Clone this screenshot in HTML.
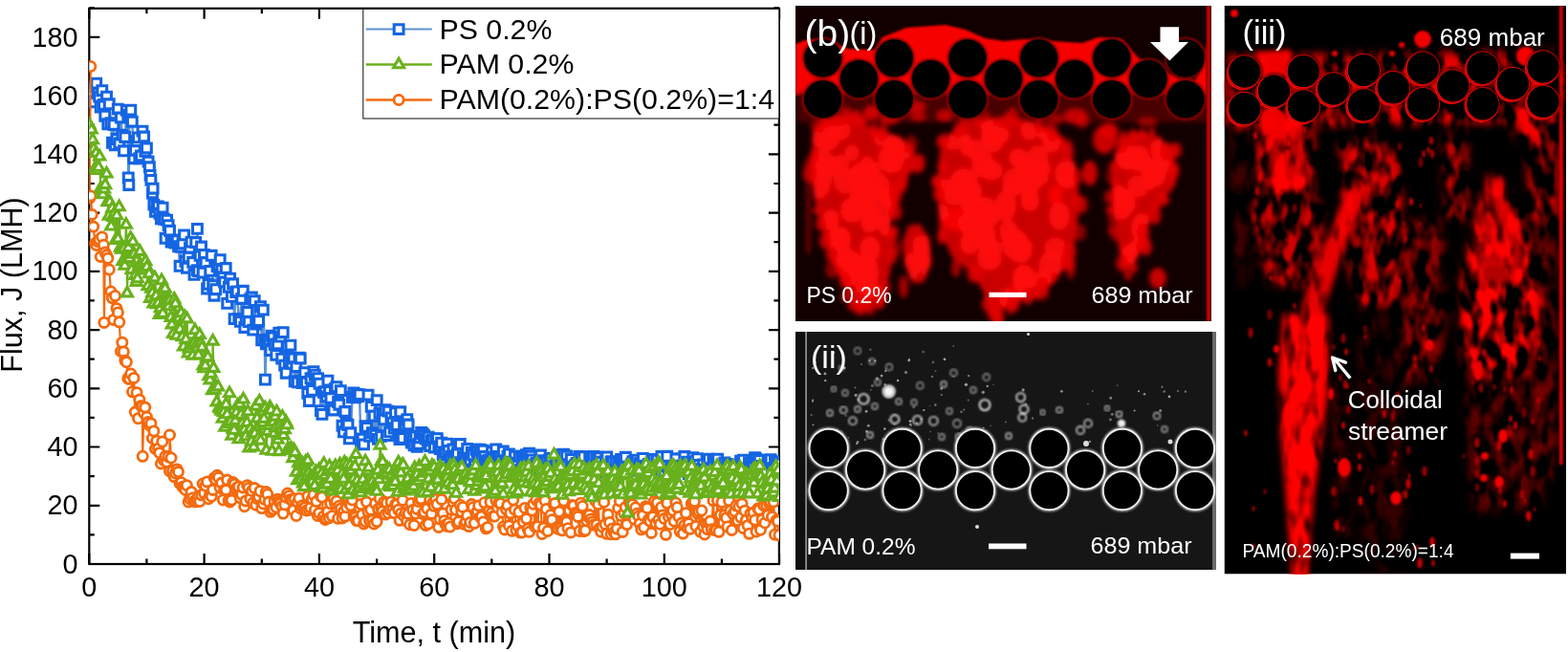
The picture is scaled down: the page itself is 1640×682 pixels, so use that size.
<!DOCTYPE html>
<html><head><meta charset="utf-8"><title>Flux and streamer figure</title>
<style>
html,body{margin:0;padding:0;background:#fff;width:1640px;height:682px;overflow:hidden}
svg{display:block}
.tl{font-family:"Liberation Sans",Arial,sans-serif;font-size:28.8px;fill:#000}
.at{font-family:"Liberation Sans",Arial,sans-serif;font-size:30.6px;fill:#000}
.lg{font-family:"Liberation Sans",Arial,sans-serif;font-size:30.3px;fill:#000}
.wt{font-family:"Liberation Sans",Arial,sans-serif;fill:#fff}
</style></head><body>
<svg width="1640" height="682" viewBox="0 0 1640 682">
<rect x="93.3" y="8.8" width="721.6" height="581.2" fill="none" stroke="#000" stroke-width="2.2"/>
<path d="M93.3 590v-11.0M93.3 8.8v11.0M153.4 590v-5.5M153.4 8.8v5.5M213.6 590v-11.0M213.6 8.8v11.0M273.8 590v-5.5M273.8 8.8v5.5M333.9 590v-11.0M333.9 8.8v11.0M394.1 590v-5.5M394.1 8.8v5.5M454.2 590v-11.0M454.2 8.8v11.0M514.3 590v-5.5M514.3 8.8v5.5M574.5 590v-11.0M574.5 8.8v11.0M634.6 590v-5.5M634.6 8.8v5.5M694.8 590v-11.0M694.8 8.8v11.0M754.9 590v-5.5M754.9 8.8v5.5M815.1 590v-11.0M815.1 8.8v11.0M93.3 590.0h11.0M814.9 590.0h-11.0M93.3 559.4h5.5M814.9 559.4h-5.5M93.3 528.8h11.0M814.9 528.8h-11.0M93.3 498.1h5.5M814.9 498.1h-5.5M93.3 467.5h11.0M814.9 467.5h-11.0M93.3 436.9h5.5M814.9 436.9h-5.5M93.3 406.3h11.0M814.9 406.3h-11.0M93.3 375.7h5.5M814.9 375.7h-5.5M93.3 345.1h11.0M814.9 345.1h-11.0M93.3 314.4h5.5M814.9 314.4h-5.5M93.3 283.8h11.0M814.9 283.8h-11.0M93.3 253.2h5.5M814.9 253.2h-5.5M93.3 222.6h11.0M814.9 222.6h-11.0M93.3 192.0h5.5M814.9 192.0h-5.5M93.3 161.4h11.0M814.9 161.4h-11.0M93.3 130.7h5.5M814.9 130.7h-5.5M93.3 100.1h11.0M814.9 100.1h-11.0M93.3 69.5h5.5M814.9 69.5h-5.5M93.3 38.9h11.0M814.9 38.9h-11.0M93.3 8.3h5.5M814.9 8.3h-5.5" stroke="#000" stroke-width="2.2" fill="none"/>
<defs><path id="mS" d="M-4.9 -4.9h9.8v9.8h-9.8z" fill="#fff" stroke="#1565e3" stroke-width="3.1"/>
<path id="mT" d="M0 -5.6l5.5 9.6h-11z" fill="#fff" stroke="#69b11c" stroke-width="3.1" stroke-linejoin="miter"/>
<circle id="mC" r="5.1" fill="#fff" stroke="#f46a0e" stroke-width="2.8"/></defs>
<clipPath id="pc"><rect x="93.3" y="8.8" width="721.6" height="581.2"/></clipPath>
<g clip-path="url(#pc)" fill="none">
<path d="M93.6 93.1 L94.8 95.0 L96.2 96.0 L97.9 106.9 L99.2 91.0 L100.7 87.2 L102.4 97.7 L103.7 101.1 L105.2 112.1 L106.8 94.7 L108.4 109.4 L109.8 121.2 L111.5 101.1 L112.8 129.8 L114.2 108.8 L116.0 128.8 L117.5 149.3 L119.0 130.5 L120.3 151.7 L122.0 145.5 L123.3 114.1 L124.8 149.9 L126.3 123.0 L127.9 141.1 L129.5 157.8 L130.8 143.5 L132.3 115.4 L133.8 120.2 L134.2 185.9 L134.8 193.5 L135.4 122.1 L136.8 115.2 L138.3 127.2 L139.9 165.7 L141.4 157.2 L142.9 147.7 L144.4 143.9 L145.8 165.7 L147.5 163.0 L149.0 137.1 L150.6 143.0 L151.9 158.2 L153.4 154.9 L155.1 169.0 L156.4 174.8 L157.1 183.4 L157.9 188.4 L159.5 202.0 L160.1 197.2 L160.9 214.1 L162.5 221.2 L163.9 216.8 L165.4 215.9 L167.0 223.3 L168.4 228.9 L170.1 217.1 L171.5 229.2 L173.1 249.3 L174.6 230.1 L176.1 235.6 L177.5 241.3 L179.1 253.1 L180.6 251.0 L182.0 253.3 L183.4 254.0 L185.1 251.5 L186.6 257.8 L188.1 278.3 L189.4 258.2 L191.0 254.8 L192.6 245.9 L193.9 273.3 L195.5 280.2 L197.1 268.9 L198.5 259.2 L200.0 253.1 L201.7 274.3 L203.0 287.3 L204.7 253.5 L206.2 282.6 L206.4 239.4 L207.6 283.6 L209.1 267.4 L210.5 258.0 L212.1 285.1 L213.5 266.4 L215.0 274.5 L216.6 302.0 L218.0 297.3 L219.7 283.4 L221.2 267.3 L222.7 298.6 L224.0 309.2 L225.7 302.7 L227.1 278.7 L228.7 277.4 L230.2 271.7 L231.8 282.4 L233.1 289.6 L234.6 295.0 L236.2 280.5 L237.7 317.4 L239.3 300.2 L240.6 291.2 L242.3 310.4 L243.6 296.8 L245.1 333.6 L246.7 305.5 L248.0 304.9 L249.8 333.6 L251.3 336.3 L252.7 312.5 L254.3 304.3 L255.8 342.5 L257.2 334.9 L258.8 326.3 L260.2 336.6 L261.8 312.7 L263.3 311.0 L264.7 345.1 L266.2 314.7 L267.7 339.1 L269.3 336.5 L270.6 335.6 L272.4 320.7 L273.7 355.9 L275.3 324.1 L276.7 355.7 L277.4 397.1 L278.4 359.8 L279.6 358.1 L281.3 355.1 L282.8 366.6 L284.2 351.3 L285.7 352.8 L287.2 360.2 L288.7 371.4 L290.3 359.9 L291.8 348.2 L293.4 352.1 L294.7 375.1 L296.2 347.7 L297.7 382.1 L299.2 390.2 L300.8 362.5 L302.3 378.0 L303.9 361.2 L305.2 380.3 L306.8 374.9 L308.2 398.7 L309.8 383.7 L311.2 399.8 L313.0 374.1 L314.2 375.0 L315.9 400.5 L317.4 398.2 L318.7 389.6 L320.3 400.2 L321.8 411.3 L323.4 419.5 L325.0 395.8 L326.4 408.3 L327.9 388.6 L329.3 392.2 L331.0 397.0 L332.5 395.7 L334.0 401.2 L335.5 429.6 L336.9 433.4 L338.5 410.3 L340.0 409.8 L341.5 414.9 L342.9 398.1 L344.5 409.3 L345.8 416.5 L347.4 426.8 L348.8 429.0 L350.4 406.6 L351.9 404.7 L353.6 420.5 L354.8 423.2 L356.3 408.7 L358.0 445.3 L359.5 451.8 L360.9 430.5 L362.4 443.2 L364.0 444.5 L365.4 458.9 L366.8 452.8 L368.5 415.5 L369.9 411.0 L371.4 415.7 L373.0 412.4 L374.5 414.7 L376.0 412.6 L377.5 463.2 L379.0 459.0 L380.5 464.9 L382.1 445.7 L383.5 447.3 L385.0 413.1 L386.6 456.3 L388.2 425.3 L389.5 452.8 L391.1 435.2 L392.6 455.1 L394.2 418.6 L395.4 459.4 L397.0 432.3 L398.6 456.4 L400.1 434.8 L401.5 438.8 L403.0 428.7 L404.4 455.6 L406.1 430.1 L407.6 451.8 L409.0 436.9 L410.5 442.1 L412.2 448.0 L413.5 431.6 L415.0 444.6 L416.7 455.7 L418.0 459.6 L418.7 430.8 L419.5 456.9 L421.2 458.4 L422.6 443.6 L424.0 445.1 L425.8 438.6 L427.1 444.0 L428.6 457.6 L430.3 463.0 L431.6 460.1 L433.1 465.7 L434.7 456.5 L436.2 467.3 L437.8 464.5 L439.2 457.8 L440.7 452.4 L442.2 453.6 L443.5 455.5 L445.1 458.8 L446.8 459.3 L448.1 457.2 L449.8 466.5 L451.3 460.9 L452.7 460.5 L454.3 468.0 L455.8 458.9 L457.3 458.6 L458.8 466.9 L460.3 469.5 L461.6 463.1 L463.2 475.9 L464.7 473.7 L466.1 473.7 L467.8 464.2 L469.1 471.4 L470.9 481.0 L472.2 477.5 L473.8 470.0 L475.2 477.1 L476.8 476.9 L478.4 473.8 L479.9 465.0 L481.3 464.5 L482.7 484.4 L484.4 477.7 L485.8 480.2 L487.3 482.0 L488.7 469.5 L490.3 483.2 L491.7 481.2 L493.3 473.5 L494.7 475.8 L496.4 487.1 L497.9 470.2 L499.2 472.6 L500.8 477.9 L502.3 470.2 L503.9 479.4 L505.2 471.2 L506.8 477.5 L508.4 482.1 L509.7 482.3 L511.4 481.5 L512.7 480.9 L514.5 472.5 L515.7 481.6 L517.3 478.1 L518.7 469.9 L520.3 477.5 L521.8 479.2 L523.3 482.3 L524.8 486.2 L526.3 472.0 L528.0 484.0 L529.3 487.8 L530.9 477.2 L532.4 474.9 L533.8 486.7 L535.3 483.4 L537.0 483.3 L538.5 477.1 L539.9 485.4 L541.3 484.3 L543.1 477.3 L544.5 491.7 L545.9 480.1 L547.4 482.8 L549.0 480.9 L550.5 475.6 L551.9 483.1 L553.5 474.2 L555.0 477.0 L556.6 480.9 L557.8 488.0 L559.5 486.5 L560.9 484.1 L562.6 490.2 L564.0 482.4 L565.4 476.0 L567.1 481.7 L568.6 487.5 L569.9 482.4 L571.4 482.9 L572.9 489.7 L574.6 481.0 L576.1 479.5 L577.5 487.6 L579.0 490.6 L580.5 490.1 L581.9 482.9 L583.6 492.7 L584.9 475.8 L586.5 485.9 L588.1 479.6 L589.5 475.3 L591.1 486.1 L592.6 477.0 L594.1 485.8 L595.5 492.8 L597.2 480.4 L598.6 488.3 L599.9 491.6 L601.6 486.7 L603.1 484.4 L604.5 486.8 L605.9 477.4 L607.6 478.3 L609.2 490.1 L610.6 477.7 L612.2 492.1 L613.7 494.4 L615.0 488.5 L616.7 479.5 L618.1 483.8 L619.5 478.1 L621.1 477.5 L622.6 490.9 L624.3 478.3 L625.7 488.3 L627.0 478.7 L628.5 483.3 L630.3 494.0 L631.7 489.2 L633.3 481.9 L634.7 477.9 L636.0 491.0 L637.7 491.5 L639.1 482.9 L640.6 483.0 L642.2 490.9 L643.8 482.9 L645.2 493.5 L646.7 485.5 L648.0 484.2 L649.6 480.5 L651.1 481.3 L652.6 485.2 L654.3 478.3 L655.8 488.2 L657.2 492.0 L658.8 488.7 L660.3 485.8 L661.8 482.7 L663.4 492.1 L664.6 484.2 L666.2 481.2 L667.8 491.0 L669.2 484.7 L670.6 484.4 L672.3 479.4 L673.6 495.1 L675.2 487.3 L676.8 494.1 L678.3 485.5 L679.7 492.8 L681.1 489.7 L682.8 490.6 L684.1 480.4 L685.7 492.6 L687.4 481.1 L688.8 488.9 L690.4 494.8 L691.9 477.5 L693.3 489.8 L694.9 493.0 L696.2 487.8 L697.7 477.3 L699.4 491.4 L700.8 491.2 L702.4 489.0 L704.0 487.4 L705.4 494.6 L706.9 479.8 L708.4 487.2 L709.9 488.7 L711.3 489.4 L712.9 492.7 L714.3 487.2 L715.8 477.5 L717.5 492.0 L718.7 483.1 L720.3 495.5 L721.8 488.6 L723.4 490.9 L724.8 478.6 L726.5 482.6 L727.7 490.0 L729.3 479.7 L731.0 486.4 L732.4 491.5 L733.8 490.7 L735.4 485.9 L737.0 491.2 L738.5 493.3 L739.8 482.9 L741.4 480.1 L742.9 489.7 L744.3 495.6 L745.9 481.2 L747.4 483.7 L748.8 483.4 L750.6 480.1 L752.0 494.4 L753.4 495.0 L754.9 487.0 L756.4 488.7 L757.9 483.9 L759.3 489.9 L760.9 485.5 L762.5 486.6 L763.9 495.0 L765.3 487.1 L767.0 490.2 L768.3 489.8 L770.0 491.4 L771.4 487.6 L773.1 489.6 L774.6 482.1 L776.0 488.7 L777.4 481.1 L779.0 490.8 L780.5 490.7 L782.2 493.6 L783.4 483.9 L784.9 486.4 L786.5 487.3 L788.0 484.9 L789.6 478.6 L791.0 480.1 L792.6 483.7 L794.2 481.3 L795.6 487.4 L797.0 491.2 L798.6 492.1 L800.0 493.2 L801.5 495.3 L803.0 483.6 L804.6 482.3 L806.0 480.6 L807.4 491.9 L809.2 489.4 L810.5 483.4 L812.0 482.6 L813.7 486.2 L815.1 485.2" stroke="#5b93d6" stroke-width="2.4"/>
<use href="#mS" x="93.6" y="93.1"/><use href="#mS" x="94.8" y="95.0"/><use href="#mS" x="96.2" y="96.0"/><use href="#mS" x="97.9" y="106.9"/><use href="#mS" x="99.2" y="91.0"/><use href="#mS" x="100.7" y="87.2"/><use href="#mS" x="102.4" y="97.7"/><use href="#mS" x="103.7" y="101.1"/><use href="#mS" x="105.2" y="112.1"/><use href="#mS" x="106.8" y="94.7"/><use href="#mS" x="108.4" y="109.4"/><use href="#mS" x="109.8" y="121.2"/><use href="#mS" x="111.5" y="101.1"/><use href="#mS" x="112.8" y="129.8"/><use href="#mS" x="114.2" y="108.8"/><use href="#mS" x="116.0" y="128.8"/><use href="#mS" x="117.5" y="149.3"/><use href="#mS" x="119.0" y="130.5"/><use href="#mS" x="120.3" y="151.7"/><use href="#mS" x="122.0" y="145.5"/><use href="#mS" x="123.3" y="114.1"/><use href="#mS" x="124.8" y="149.9"/><use href="#mS" x="126.3" y="123.0"/><use href="#mS" x="127.9" y="141.1"/><use href="#mS" x="129.5" y="157.8"/><use href="#mS" x="130.8" y="143.5"/><use href="#mS" x="132.3" y="115.4"/><use href="#mS" x="133.8" y="120.2"/><use href="#mS" x="134.2" y="185.9"/><use href="#mS" x="134.8" y="193.5"/><use href="#mS" x="135.4" y="122.1"/><use href="#mS" x="136.8" y="115.2"/><use href="#mS" x="138.3" y="127.2"/><use href="#mS" x="139.9" y="165.7"/><use href="#mS" x="141.4" y="157.2"/><use href="#mS" x="142.9" y="147.7"/><use href="#mS" x="144.4" y="143.9"/><use href="#mS" x="145.8" y="165.7"/><use href="#mS" x="147.5" y="163.0"/><use href="#mS" x="149.0" y="137.1"/><use href="#mS" x="150.6" y="143.0"/><use href="#mS" x="151.9" y="158.2"/><use href="#mS" x="153.4" y="154.9"/><use href="#mS" x="155.1" y="169.0"/><use href="#mS" x="156.4" y="174.8"/><use href="#mS" x="157.1" y="183.4"/><use href="#mS" x="157.9" y="188.4"/><use href="#mS" x="159.5" y="202.0"/><use href="#mS" x="160.1" y="197.2"/><use href="#mS" x="160.9" y="214.1"/><use href="#mS" x="162.5" y="221.2"/><use href="#mS" x="163.9" y="216.8"/><use href="#mS" x="165.4" y="215.9"/><use href="#mS" x="167.0" y="223.3"/><use href="#mS" x="168.4" y="228.9"/><use href="#mS" x="170.1" y="217.1"/><use href="#mS" x="171.5" y="229.2"/><use href="#mS" x="173.1" y="249.3"/><use href="#mS" x="174.6" y="230.1"/><use href="#mS" x="176.1" y="235.6"/><use href="#mS" x="177.5" y="241.3"/><use href="#mS" x="179.1" y="253.1"/><use href="#mS" x="180.6" y="251.0"/><use href="#mS" x="182.0" y="253.3"/><use href="#mS" x="183.4" y="254.0"/><use href="#mS" x="185.1" y="251.5"/><use href="#mS" x="186.6" y="257.8"/><use href="#mS" x="188.1" y="278.3"/><use href="#mS" x="189.4" y="258.2"/><use href="#mS" x="191.0" y="254.8"/><use href="#mS" x="192.6" y="245.9"/><use href="#mS" x="193.9" y="273.3"/><use href="#mS" x="195.5" y="280.2"/><use href="#mS" x="197.1" y="268.9"/><use href="#mS" x="198.5" y="259.2"/><use href="#mS" x="200.0" y="253.1"/><use href="#mS" x="201.7" y="274.3"/><use href="#mS" x="203.0" y="287.3"/><use href="#mS" x="204.7" y="253.5"/><use href="#mS" x="206.2" y="282.6"/><use href="#mS" x="206.4" y="239.4"/><use href="#mS" x="207.6" y="283.6"/><use href="#mS" x="209.1" y="267.4"/><use href="#mS" x="210.5" y="258.0"/><use href="#mS" x="212.1" y="285.1"/><use href="#mS" x="213.5" y="266.4"/><use href="#mS" x="215.0" y="274.5"/><use href="#mS" x="216.6" y="302.0"/><use href="#mS" x="218.0" y="297.3"/><use href="#mS" x="219.7" y="283.4"/><use href="#mS" x="221.2" y="267.3"/><use href="#mS" x="222.7" y="298.6"/><use href="#mS" x="224.0" y="309.2"/><use href="#mS" x="225.7" y="302.7"/><use href="#mS" x="227.1" y="278.7"/><use href="#mS" x="228.7" y="277.4"/><use href="#mS" x="230.2" y="271.7"/><use href="#mS" x="231.8" y="282.4"/><use href="#mS" x="233.1" y="289.6"/><use href="#mS" x="234.6" y="295.0"/><use href="#mS" x="236.2" y="280.5"/><use href="#mS" x="237.7" y="317.4"/><use href="#mS" x="239.3" y="300.2"/><use href="#mS" x="240.6" y="291.2"/><use href="#mS" x="242.3" y="310.4"/><use href="#mS" x="243.6" y="296.8"/><use href="#mS" x="245.1" y="333.6"/><use href="#mS" x="246.7" y="305.5"/><use href="#mS" x="248.0" y="304.9"/><use href="#mS" x="249.8" y="333.6"/><use href="#mS" x="251.3" y="336.3"/><use href="#mS" x="252.7" y="312.5"/><use href="#mS" x="254.3" y="304.3"/><use href="#mS" x="255.8" y="342.5"/><use href="#mS" x="257.2" y="334.9"/><use href="#mS" x="258.8" y="326.3"/><use href="#mS" x="260.2" y="336.6"/><use href="#mS" x="261.8" y="312.7"/><use href="#mS" x="263.3" y="311.0"/><use href="#mS" x="264.7" y="345.1"/><use href="#mS" x="266.2" y="314.7"/><use href="#mS" x="267.7" y="339.1"/><use href="#mS" x="269.3" y="336.5"/><use href="#mS" x="270.6" y="335.6"/><use href="#mS" x="272.4" y="320.7"/><use href="#mS" x="273.7" y="355.9"/><use href="#mS" x="275.3" y="324.1"/><use href="#mS" x="276.7" y="355.7"/><use href="#mS" x="277.4" y="397.1"/><use href="#mS" x="278.4" y="359.8"/><use href="#mS" x="279.6" y="358.1"/><use href="#mS" x="281.3" y="355.1"/><use href="#mS" x="282.8" y="366.6"/><use href="#mS" x="284.2" y="351.3"/><use href="#mS" x="285.7" y="352.8"/><use href="#mS" x="287.2" y="360.2"/><use href="#mS" x="288.7" y="371.4"/><use href="#mS" x="290.3" y="359.9"/><use href="#mS" x="291.8" y="348.2"/><use href="#mS" x="293.4" y="352.1"/><use href="#mS" x="294.7" y="375.1"/><use href="#mS" x="296.2" y="347.7"/><use href="#mS" x="297.7" y="382.1"/><use href="#mS" x="299.2" y="390.2"/><use href="#mS" x="300.8" y="362.5"/><use href="#mS" x="302.3" y="378.0"/><use href="#mS" x="303.9" y="361.2"/><use href="#mS" x="305.2" y="380.3"/><use href="#mS" x="306.8" y="374.9"/><use href="#mS" x="308.2" y="398.7"/><use href="#mS" x="309.8" y="383.7"/><use href="#mS" x="311.2" y="399.8"/><use href="#mS" x="313.0" y="374.1"/><use href="#mS" x="314.2" y="375.0"/><use href="#mS" x="315.9" y="400.5"/><use href="#mS" x="317.4" y="398.2"/><use href="#mS" x="318.7" y="389.6"/><use href="#mS" x="320.3" y="400.2"/><use href="#mS" x="321.8" y="411.3"/><use href="#mS" x="323.4" y="419.5"/><use href="#mS" x="325.0" y="395.8"/><use href="#mS" x="326.4" y="408.3"/><use href="#mS" x="327.9" y="388.6"/><use href="#mS" x="329.3" y="392.2"/><use href="#mS" x="331.0" y="397.0"/><use href="#mS" x="332.5" y="395.7"/><use href="#mS" x="334.0" y="401.2"/><use href="#mS" x="335.5" y="429.6"/><use href="#mS" x="336.9" y="433.4"/><use href="#mS" x="338.5" y="410.3"/><use href="#mS" x="340.0" y="409.8"/><use href="#mS" x="341.5" y="414.9"/><use href="#mS" x="342.9" y="398.1"/><use href="#mS" x="344.5" y="409.3"/><use href="#mS" x="345.8" y="416.5"/><use href="#mS" x="347.4" y="426.8"/><use href="#mS" x="348.8" y="429.0"/><use href="#mS" x="350.4" y="406.6"/><use href="#mS" x="351.9" y="404.7"/><use href="#mS" x="353.6" y="420.5"/><use href="#mS" x="354.8" y="423.2"/><use href="#mS" x="356.3" y="408.7"/><use href="#mS" x="358.0" y="445.3"/><use href="#mS" x="359.5" y="451.8"/><use href="#mS" x="360.9" y="430.5"/><use href="#mS" x="362.4" y="443.2"/><use href="#mS" x="364.0" y="444.5"/><use href="#mS" x="365.4" y="458.9"/><use href="#mS" x="366.8" y="452.8"/><use href="#mS" x="368.5" y="415.5"/><use href="#mS" x="369.9" y="411.0"/><use href="#mS" x="371.4" y="415.7"/><use href="#mS" x="373.0" y="412.4"/><use href="#mS" x="374.5" y="414.7"/><use href="#mS" x="376.0" y="412.6"/><use href="#mS" x="377.5" y="463.2"/><use href="#mS" x="379.0" y="459.0"/><use href="#mS" x="380.5" y="464.9"/><use href="#mS" x="382.1" y="445.7"/><use href="#mS" x="383.5" y="447.3"/><use href="#mS" x="385.0" y="413.1"/><use href="#mS" x="386.6" y="456.3"/><use href="#mS" x="388.2" y="425.3"/><use href="#mS" x="389.5" y="452.8"/><use href="#mS" x="391.1" y="435.2"/><use href="#mS" x="392.6" y="455.1"/><use href="#mS" x="394.2" y="418.6"/><use href="#mS" x="395.4" y="459.4"/><use href="#mS" x="397.0" y="432.3"/><use href="#mS" x="398.6" y="456.4"/><use href="#mS" x="400.1" y="434.8"/><use href="#mS" x="401.5" y="438.8"/><use href="#mS" x="403.0" y="428.7"/><use href="#mS" x="404.4" y="455.6"/><use href="#mS" x="406.1" y="430.1"/><use href="#mS" x="407.6" y="451.8"/><use href="#mS" x="409.0" y="436.9"/><use href="#mS" x="410.5" y="442.1"/><use href="#mS" x="412.2" y="448.0"/><use href="#mS" x="413.5" y="431.6"/><use href="#mS" x="415.0" y="444.6"/><use href="#mS" x="416.7" y="455.7"/><use href="#mS" x="418.0" y="459.6"/><use href="#mS" x="418.7" y="430.8"/><use href="#mS" x="419.5" y="456.9"/><use href="#mS" x="421.2" y="458.4"/><use href="#mS" x="422.6" y="443.6"/><use href="#mS" x="424.0" y="445.1"/><use href="#mS" x="425.8" y="438.6"/><use href="#mS" x="427.1" y="444.0"/><use href="#mS" x="428.6" y="457.6"/><use href="#mS" x="430.3" y="463.0"/><use href="#mS" x="431.6" y="460.1"/><use href="#mS" x="433.1" y="465.7"/><use href="#mS" x="434.7" y="456.5"/><use href="#mS" x="436.2" y="467.3"/><use href="#mS" x="437.8" y="464.5"/><use href="#mS" x="439.2" y="457.8"/><use href="#mS" x="440.7" y="452.4"/><use href="#mS" x="442.2" y="453.6"/><use href="#mS" x="443.5" y="455.5"/><use href="#mS" x="445.1" y="458.8"/><use href="#mS" x="446.8" y="459.3"/><use href="#mS" x="448.1" y="457.2"/><use href="#mS" x="449.8" y="466.5"/><use href="#mS" x="451.3" y="460.9"/><use href="#mS" x="452.7" y="460.5"/><use href="#mS" x="454.3" y="468.0"/><use href="#mS" x="455.8" y="458.9"/><use href="#mS" x="457.3" y="458.6"/><use href="#mS" x="458.8" y="466.9"/><use href="#mS" x="460.3" y="469.5"/><use href="#mS" x="461.6" y="463.1"/><use href="#mS" x="463.2" y="475.9"/><use href="#mS" x="464.7" y="473.7"/><use href="#mS" x="466.1" y="473.7"/><use href="#mS" x="467.8" y="464.2"/><use href="#mS" x="469.1" y="471.4"/><use href="#mS" x="470.9" y="481.0"/><use href="#mS" x="472.2" y="477.5"/><use href="#mS" x="473.8" y="470.0"/><use href="#mS" x="475.2" y="477.1"/><use href="#mS" x="476.8" y="476.9"/><use href="#mS" x="478.4" y="473.8"/><use href="#mS" x="479.9" y="465.0"/><use href="#mS" x="481.3" y="464.5"/><use href="#mS" x="482.7" y="484.4"/><use href="#mS" x="484.4" y="477.7"/><use href="#mS" x="485.8" y="480.2"/><use href="#mS" x="487.3" y="482.0"/><use href="#mS" x="488.7" y="469.5"/><use href="#mS" x="490.3" y="483.2"/><use href="#mS" x="491.7" y="481.2"/><use href="#mS" x="493.3" y="473.5"/><use href="#mS" x="494.7" y="475.8"/><use href="#mS" x="496.4" y="487.1"/><use href="#mS" x="497.9" y="470.2"/><use href="#mS" x="499.2" y="472.6"/><use href="#mS" x="500.8" y="477.9"/><use href="#mS" x="502.3" y="470.2"/><use href="#mS" x="503.9" y="479.4"/><use href="#mS" x="505.2" y="471.2"/><use href="#mS" x="506.8" y="477.5"/><use href="#mS" x="508.4" y="482.1"/><use href="#mS" x="509.7" y="482.3"/><use href="#mS" x="511.4" y="481.5"/><use href="#mS" x="512.7" y="480.9"/><use href="#mS" x="514.5" y="472.5"/><use href="#mS" x="515.7" y="481.6"/><use href="#mS" x="517.3" y="478.1"/><use href="#mS" x="518.7" y="469.9"/><use href="#mS" x="520.3" y="477.5"/><use href="#mS" x="521.8" y="479.2"/><use href="#mS" x="523.3" y="482.3"/><use href="#mS" x="524.8" y="486.2"/><use href="#mS" x="526.3" y="472.0"/><use href="#mS" x="528.0" y="484.0"/><use href="#mS" x="529.3" y="487.8"/><use href="#mS" x="530.9" y="477.2"/><use href="#mS" x="532.4" y="474.9"/><use href="#mS" x="533.8" y="486.7"/><use href="#mS" x="535.3" y="483.4"/><use href="#mS" x="537.0" y="483.3"/><use href="#mS" x="538.5" y="477.1"/><use href="#mS" x="539.9" y="485.4"/><use href="#mS" x="541.3" y="484.3"/><use href="#mS" x="543.1" y="477.3"/><use href="#mS" x="544.5" y="491.7"/><use href="#mS" x="545.9" y="480.1"/><use href="#mS" x="547.4" y="482.8"/><use href="#mS" x="549.0" y="480.9"/><use href="#mS" x="550.5" y="475.6"/><use href="#mS" x="551.9" y="483.1"/><use href="#mS" x="553.5" y="474.2"/><use href="#mS" x="555.0" y="477.0"/><use href="#mS" x="556.6" y="480.9"/><use href="#mS" x="557.8" y="488.0"/><use href="#mS" x="559.5" y="486.5"/><use href="#mS" x="560.9" y="484.1"/><use href="#mS" x="562.6" y="490.2"/><use href="#mS" x="564.0" y="482.4"/><use href="#mS" x="565.4" y="476.0"/><use href="#mS" x="567.1" y="481.7"/><use href="#mS" x="568.6" y="487.5"/><use href="#mS" x="569.9" y="482.4"/><use href="#mS" x="571.4" y="482.9"/><use href="#mS" x="572.9" y="489.7"/><use href="#mS" x="574.6" y="481.0"/><use href="#mS" x="576.1" y="479.5"/><use href="#mS" x="577.5" y="487.6"/><use href="#mS" x="579.0" y="490.6"/><use href="#mS" x="580.5" y="490.1"/><use href="#mS" x="581.9" y="482.9"/><use href="#mS" x="583.6" y="492.7"/><use href="#mS" x="584.9" y="475.8"/><use href="#mS" x="586.5" y="485.9"/><use href="#mS" x="588.1" y="479.6"/><use href="#mS" x="589.5" y="475.3"/><use href="#mS" x="591.1" y="486.1"/><use href="#mS" x="592.6" y="477.0"/><use href="#mS" x="594.1" y="485.8"/><use href="#mS" x="595.5" y="492.8"/><use href="#mS" x="597.2" y="480.4"/><use href="#mS" x="598.6" y="488.3"/><use href="#mS" x="599.9" y="491.6"/><use href="#mS" x="601.6" y="486.7"/><use href="#mS" x="603.1" y="484.4"/><use href="#mS" x="604.5" y="486.8"/><use href="#mS" x="605.9" y="477.4"/><use href="#mS" x="607.6" y="478.3"/><use href="#mS" x="609.2" y="490.1"/><use href="#mS" x="610.6" y="477.7"/><use href="#mS" x="612.2" y="492.1"/><use href="#mS" x="613.7" y="494.4"/><use href="#mS" x="615.0" y="488.5"/><use href="#mS" x="616.7" y="479.5"/><use href="#mS" x="618.1" y="483.8"/><use href="#mS" x="619.5" y="478.1"/><use href="#mS" x="621.1" y="477.5"/><use href="#mS" x="622.6" y="490.9"/><use href="#mS" x="624.3" y="478.3"/><use href="#mS" x="625.7" y="488.3"/><use href="#mS" x="627.0" y="478.7"/><use href="#mS" x="628.5" y="483.3"/><use href="#mS" x="630.3" y="494.0"/><use href="#mS" x="631.7" y="489.2"/><use href="#mS" x="633.3" y="481.9"/><use href="#mS" x="634.7" y="477.9"/><use href="#mS" x="636.0" y="491.0"/><use href="#mS" x="637.7" y="491.5"/><use href="#mS" x="639.1" y="482.9"/><use href="#mS" x="640.6" y="483.0"/><use href="#mS" x="642.2" y="490.9"/><use href="#mS" x="643.8" y="482.9"/><use href="#mS" x="645.2" y="493.5"/><use href="#mS" x="646.7" y="485.5"/><use href="#mS" x="648.0" y="484.2"/><use href="#mS" x="649.6" y="480.5"/><use href="#mS" x="651.1" y="481.3"/><use href="#mS" x="652.6" y="485.2"/><use href="#mS" x="654.3" y="478.3"/><use href="#mS" x="655.8" y="488.2"/><use href="#mS" x="657.2" y="492.0"/><use href="#mS" x="658.8" y="488.7"/><use href="#mS" x="660.3" y="485.8"/><use href="#mS" x="661.8" y="482.7"/><use href="#mS" x="663.4" y="492.1"/><use href="#mS" x="664.6" y="484.2"/><use href="#mS" x="666.2" y="481.2"/><use href="#mS" x="667.8" y="491.0"/><use href="#mS" x="669.2" y="484.7"/><use href="#mS" x="670.6" y="484.4"/><use href="#mS" x="672.3" y="479.4"/><use href="#mS" x="673.6" y="495.1"/><use href="#mS" x="675.2" y="487.3"/><use href="#mS" x="676.8" y="494.1"/><use href="#mS" x="678.3" y="485.5"/><use href="#mS" x="679.7" y="492.8"/><use href="#mS" x="681.1" y="489.7"/><use href="#mS" x="682.8" y="490.6"/><use href="#mS" x="684.1" y="480.4"/><use href="#mS" x="685.7" y="492.6"/><use href="#mS" x="687.4" y="481.1"/><use href="#mS" x="688.8" y="488.9"/><use href="#mS" x="690.4" y="494.8"/><use href="#mS" x="691.9" y="477.5"/><use href="#mS" x="693.3" y="489.8"/><use href="#mS" x="694.9" y="493.0"/><use href="#mS" x="696.2" y="487.8"/><use href="#mS" x="697.7" y="477.3"/><use href="#mS" x="699.4" y="491.4"/><use href="#mS" x="700.8" y="491.2"/><use href="#mS" x="702.4" y="489.0"/><use href="#mS" x="704.0" y="487.4"/><use href="#mS" x="705.4" y="494.6"/><use href="#mS" x="706.9" y="479.8"/><use href="#mS" x="708.4" y="487.2"/><use href="#mS" x="709.9" y="488.7"/><use href="#mS" x="711.3" y="489.4"/><use href="#mS" x="712.9" y="492.7"/><use href="#mS" x="714.3" y="487.2"/><use href="#mS" x="715.8" y="477.5"/><use href="#mS" x="717.5" y="492.0"/><use href="#mS" x="718.7" y="483.1"/><use href="#mS" x="720.3" y="495.5"/><use href="#mS" x="721.8" y="488.6"/><use href="#mS" x="723.4" y="490.9"/><use href="#mS" x="724.8" y="478.6"/><use href="#mS" x="726.5" y="482.6"/><use href="#mS" x="727.7" y="490.0"/><use href="#mS" x="729.3" y="479.7"/><use href="#mS" x="731.0" y="486.4"/><use href="#mS" x="732.4" y="491.5"/><use href="#mS" x="733.8" y="490.7"/><use href="#mS" x="735.4" y="485.9"/><use href="#mS" x="737.0" y="491.2"/><use href="#mS" x="738.5" y="493.3"/><use href="#mS" x="739.8" y="482.9"/><use href="#mS" x="741.4" y="480.1"/><use href="#mS" x="742.9" y="489.7"/><use href="#mS" x="744.3" y="495.6"/><use href="#mS" x="745.9" y="481.2"/><use href="#mS" x="747.4" y="483.7"/><use href="#mS" x="748.8" y="483.4"/><use href="#mS" x="750.6" y="480.1"/><use href="#mS" x="752.0" y="494.4"/><use href="#mS" x="753.4" y="495.0"/><use href="#mS" x="754.9" y="487.0"/><use href="#mS" x="756.4" y="488.7"/><use href="#mS" x="757.9" y="483.9"/><use href="#mS" x="759.3" y="489.9"/><use href="#mS" x="760.9" y="485.5"/><use href="#mS" x="762.5" y="486.6"/><use href="#mS" x="763.9" y="495.0"/><use href="#mS" x="765.3" y="487.1"/><use href="#mS" x="767.0" y="490.2"/><use href="#mS" x="768.3" y="489.8"/><use href="#mS" x="770.0" y="491.4"/><use href="#mS" x="771.4" y="487.6"/><use href="#mS" x="773.1" y="489.6"/><use href="#mS" x="774.6" y="482.1"/><use href="#mS" x="776.0" y="488.7"/><use href="#mS" x="777.4" y="481.1"/><use href="#mS" x="779.0" y="490.8"/><use href="#mS" x="780.5" y="490.7"/><use href="#mS" x="782.2" y="493.6"/><use href="#mS" x="783.4" y="483.9"/><use href="#mS" x="784.9" y="486.4"/><use href="#mS" x="786.5" y="487.3"/><use href="#mS" x="788.0" y="484.9"/><use href="#mS" x="789.6" y="478.6"/><use href="#mS" x="791.0" y="480.1"/><use href="#mS" x="792.6" y="483.7"/><use href="#mS" x="794.2" y="481.3"/><use href="#mS" x="795.6" y="487.4"/><use href="#mS" x="797.0" y="491.2"/><use href="#mS" x="798.6" y="492.1"/><use href="#mS" x="800.0" y="493.2"/><use href="#mS" x="801.5" y="495.3"/><use href="#mS" x="803.0" y="483.6"/><use href="#mS" x="804.6" y="482.3"/><use href="#mS" x="806.0" y="480.6"/><use href="#mS" x="807.4" y="491.9"/><use href="#mS" x="809.2" y="489.4"/><use href="#mS" x="810.5" y="483.4"/><use href="#mS" x="812.0" y="482.6"/><use href="#mS" x="813.7" y="486.2"/><use href="#mS" x="815.1" y="485.2"/>
<path d="M94.8 69.5 L93.6 207.3 L94.9 204.9 L96.2 224.4 L97.7 237.1 L99.4 254.8 L100.8 256.5 L102.3 252.7 L103.9 250.6 L105.2 268.5 L106.7 247.9 L108.4 256.3 L108.9 337.4 L109.9 264.1 L111.5 267.0 L112.8 270.2 L114.3 282.0 L115.9 305.0 L117.3 311.6 L118.8 334.4 L120.5 309.5 L122.0 322.7 L123.4 326.9 L124.8 336.9 L126.4 367.5 L127.8 358.2 L129.3 367.9 L130.9 377.2 L132.3 378.7 L133.8 395.9 L135.3 396.3 L136.8 391.0 L138.5 409.8 L140.0 395.4 L141.3 431.1 L143.0 410.7 L144.5 437.7 L145.9 418.1 L147.6 424.7 L148.8 425.2 L149.2 477.3 L150.4 431.8 L151.8 426.1 L153.5 436.3 L154.9 441.6 L156.5 444.9 L157.9 442.9 L159.4 458.4 L160.9 450.9 L162.4 469.5 L163.8 461.2 L165.5 469.3 L166.8 473.7 L168.4 484.9 L169.8 462.0 L171.4 481.5 L172.9 477.3 L174.4 483.3 L176.0 477.6 L177.4 492.7 L177.5 455.0 L179.0 479.0 L180.5 492.7 L182.1 498.6 L183.4 494.9 L185.2 490.9 L186.5 493.6 L188.1 505.7 L189.6 504.8 L191.0 509.2 L192.5 510.6 L193.9 512.4 L195.4 507.7 L197.1 524.9 L198.6 521.7 L200.1 514.6 L201.5 521.0 L203.1 524.3 L204.7 524.8 L206.2 522.6 L207.5 518.9 L208.9 524.5 L210.6 517.8 L212.2 506.0 L213.5 515.8 L215.0 508.2 L216.6 503.9 L218.1 521.7 L219.5 517.4 L221.2 519.2 L222.6 512.4 L224.1 499.8 L225.5 501.4 L227.2 497.3 L228.6 499.5 L230.1 510.1 L231.7 505.1 L233.3 522.9 L234.5 512.6 L236.3 512.6 L237.6 502.1 L239.1 523.6 L240.5 525.0 L242.2 523.1 L243.7 504.5 L245.3 506.4 L246.7 511.5 L248.3 509.7 L249.6 509.1 L251.1 520.7 L252.8 517.3 L254.1 510.0 L255.7 529.7 L257.1 523.9 L258.7 507.8 L260.1 510.5 L261.8 521.7 L263.4 513.5 L264.7 526.0 L266.2 510.6 L267.7 528.2 L269.2 521.6 L270.6 519.5 L272.1 513.7 L273.7 531.6 L275.3 526.9 L276.9 522.5 L278.3 514.5 L279.7 517.0 L281.3 525.1 L282.9 535.3 L284.4 532.6 L285.9 532.7 L287.1 524.4 L288.9 530.7 L290.3 522.2 L291.7 524.4 L293.2 526.6 L294.9 529.6 L296.2 537.1 L297.9 527.9 L299.4 520.2 L300.7 516.0 L302.5 518.7 L303.9 522.4 L305.4 523.0 L306.9 533.8 L308.2 521.9 L309.9 539.5 L311.4 525.4 L312.9 521.3 L314.5 531.9 L315.9 529.0 L317.4 531.5 L319.0 530.9 L320.5 534.0 L321.9 518.9 L323.4 533.5 L324.8 531.0 L326.4 522.1 L328.0 517.7 L329.4 533.5 L330.9 524.5 L332.3 539.4 L333.8 536.6 L335.3 519.0 L336.8 520.0 L338.3 540.2 L340.1 543.4 L341.3 542.4 L342.8 535.3 L344.3 541.7 L345.8 526.8 L347.3 539.8 L349.0 521.7 L350.5 526.6 L352.0 524.2 L353.6 542.3 L354.8 529.2 L356.5 532.1 L358.0 541.9 L359.5 534.9 L360.9 540.1 L362.4 530.7 L364.0 521.5 L365.4 526.9 L366.9 528.8 L368.4 523.0 L370.1 540.2 L371.6 541.3 L372.9 544.6 L374.5 544.7 L376.1 531.3 L377.5 527.5 L378.9 538.4 L380.5 547.9 L382.1 545.5 L383.4 525.1 L385.1 535.3 L386.5 544.3 L387.9 533.3 L389.5 544.1 L391.2 548.0 L392.5 526.8 L394.1 545.6 L395.6 532.3 L397.1 521.3 L398.7 531.4 L400.1 534.6 L401.6 525.1 L403.1 538.1 L404.4 526.0 L406.0 536.7 L407.5 533.0 L409.1 524.9 L410.6 533.0 L412.2 536.6 L413.6 527.5 L415.2 527.7 L416.7 533.3 L418.1 544.3 L419.5 537.0 L421.1 523.3 L422.5 539.7 L424.2 536.5 L425.7 545.5 L427.2 537.4 L428.7 548.7 L430.1 526.4 L431.7 533.6 L433.1 549.5 L434.7 537.3 L436.2 532.4 L437.6 524.5 L439.1 522.0 L440.5 521.7 L442.2 537.5 L443.8 535.7 L445.2 549.4 L446.8 531.9 L448.1 548.0 L449.7 523.0 L451.3 537.4 L452.6 526.3 L454.1 529.3 L455.7 522.2 L457.1 527.5 L458.8 551.5 L460.2 543.0 L461.8 522.4 L463.3 537.0 L464.8 544.7 L466.2 548.9 L467.8 550.5 L469.2 547.1 L470.8 551.0 L472.1 533.2 L473.8 524.9 L475.3 521.5 L476.6 533.2 L478.3 547.7 L479.7 545.7 L481.3 528.3 L482.8 535.2 L484.1 530.4 L485.8 548.3 L487.3 545.9 L488.7 539.3 L490.4 550.6 L491.8 546.5 L493.3 527.6 L494.7 530.8 L496.3 547.3 L497.7 536.8 L499.4 534.8 L500.7 528.9 L502.3 540.8 L503.7 540.3 L505.4 546.0 L506.7 525.8 L508.3 552.8 L510.0 551.6 L511.3 534.6 L512.9 525.3 L514.3 536.4 L516.0 539.9 L517.4 540.0 L518.9 523.4 L520.3 530.9 L521.8 525.8 L523.5 526.8 L525.0 535.9 L526.5 551.0 L527.9 553.9 L529.4 532.8 L530.8 528.6 L532.4 549.9 L533.8 536.8 L535.4 555.3 L536.8 523.0 L538.4 533.2 L539.9 554.7 L541.5 549.9 L542.8 535.7 L544.5 557.1 L546.1 556.8 L547.3 546.0 L549.0 531.4 L550.5 542.6 L552.1 553.2 L553.6 556.3 L554.8 531.3 L556.5 534.1 L557.9 527.2 L559.5 551.0 L560.8 522.9 L562.3 550.7 L563.9 526.4 L565.6 528.3 L567.0 558.5 L568.6 552.1 L570.1 523.7 L571.4 532.4 L572.9 555.5 L574.6 543.1 L575.9 538.8 L577.4 543.8 L579.1 527.6 L580.4 526.5 L581.9 551.8 L583.5 553.2 L584.9 535.3 L586.5 552.4 L588.0 554.8 L589.6 524.0 L591.0 543.9 L592.5 545.9 L594.0 552.8 L595.5 534.0 L597.1 556.9 L598.5 528.5 L600.0 528.9 L601.6 536.4 L603.0 538.1 L604.5 540.4 L606.2 555.4 L607.5 526.2 L609.2 529.5 L610.7 555.6 L612.2 554.8 L613.7 544.8 L615.1 540.3 L616.5 538.6 L618.2 542.9 L619.6 545.9 L621.0 548.9 L622.7 523.9 L624.1 548.8 L625.6 527.6 L627.1 552.7 L628.6 556.2 L630.0 550.9 L631.7 525.2 L633.1 548.6 L634.7 558.3 L636.0 538.3 L637.6 546.5 L639.1 558.7 L640.6 552.9 L642.1 556.8 L643.8 558.8 L645.2 553.1 L646.6 531.5 L648.3 523.9 L649.6 539.5 L651.2 556.4 L652.7 536.9 L654.2 530.5 L655.7 548.6 L657.3 538.4 L658.6 526.2 L660.2 537.2 L661.7 527.8 L663.3 543.1 L664.7 531.0 L666.3 537.3 L667.8 540.0 L669.2 547.7 L670.7 553.8 L672.4 539.1 L673.6 551.7 L675.2 529.8 L676.9 531.5 L678.2 543.7 L679.9 545.1 L681.3 557.5 L682.8 540.8 L684.4 524.1 L685.9 547.2 L687.4 525.7 L688.7 543.8 L690.3 548.2 L691.7 530.5 L693.2 539.0 L694.7 542.4 L696.4 559.3 L697.7 526.3 L699.4 540.9 L700.8 548.5 L702.4 538.2 L703.8 534.1 L705.2 545.2 L706.9 526.0 L708.3 530.8 L710.0 540.4 L711.2 555.8 L712.9 547.1 L714.4 558.1 L716.0 549.4 L717.4 536.8 L718.8 552.0 L720.4 547.7 L721.7 553.3 L723.2 526.8 L724.8 526.0 L726.4 524.6 L727.9 550.4 L729.3 537.0 L730.9 534.9 L732.5 556.2 L733.9 534.0 L735.5 550.7 L737.0 559.0 L738.4 547.9 L739.9 553.6 L741.4 547.2 L742.9 545.1 L744.3 553.8 L745.9 523.6 L747.5 554.5 L749.0 554.7 L750.4 523.5 L751.9 556.3 L753.5 538.6 L755.0 525.3 L756.5 546.8 L757.9 538.8 L759.5 541.7 L760.9 551.0 L762.6 523.8 L764.0 534.1 L765.4 554.5 L766.8 537.6 L768.6 535.0 L770.0 528.8 L771.5 544.6 L772.9 529.8 L774.6 541.1 L776.1 526.9 L777.4 552.4 L779.0 534.2 L780.4 544.2 L782.1 549.7 L783.6 558.3 L785.0 537.1 L786.6 541.8 L788.1 536.2 L789.6 544.0 L791.0 555.9 L792.7 532.1 L794.1 533.0 L795.5 554.2 L797.1 543.5 L798.6 528.6 L800.0 547.0 L801.6 528.3 L803.1 538.9 L804.7 527.0 L805.9 525.0 L807.5 540.6 L809.1 524.9 L810.5 559.2 L812.2 544.1 L813.6 545.2 L815.0 559.8" stroke="#f46a0e" stroke-width="2.2"/>
<use href="#mC" x="94.8" y="69.5"/><use href="#mC" x="93.6" y="207.3"/><use href="#mC" x="94.9" y="204.9"/><use href="#mC" x="96.2" y="224.4"/><use href="#mC" x="97.7" y="237.1"/><use href="#mC" x="99.4" y="254.8"/><use href="#mC" x="100.8" y="256.5"/><use href="#mC" x="102.3" y="252.7"/><use href="#mC" x="103.9" y="250.6"/><use href="#mC" x="105.2" y="268.5"/><use href="#mC" x="106.7" y="247.9"/><use href="#mC" x="108.4" y="256.3"/><use href="#mC" x="108.9" y="337.4"/><use href="#mC" x="109.9" y="264.1"/><use href="#mC" x="111.5" y="267.0"/><use href="#mC" x="112.8" y="270.2"/><use href="#mC" x="114.3" y="282.0"/><use href="#mC" x="115.9" y="305.0"/><use href="#mC" x="117.3" y="311.6"/><use href="#mC" x="118.8" y="334.4"/><use href="#mC" x="120.5" y="309.5"/><use href="#mC" x="122.0" y="322.7"/><use href="#mC" x="123.4" y="326.9"/><use href="#mC" x="124.8" y="336.9"/><use href="#mC" x="126.4" y="367.5"/><use href="#mC" x="127.8" y="358.2"/><use href="#mC" x="129.3" y="367.9"/><use href="#mC" x="130.9" y="377.2"/><use href="#mC" x="132.3" y="378.7"/><use href="#mC" x="133.8" y="395.9"/><use href="#mC" x="135.3" y="396.3"/><use href="#mC" x="136.8" y="391.0"/><use href="#mC" x="138.5" y="409.8"/><use href="#mC" x="140.0" y="395.4"/><use href="#mC" x="141.3" y="431.1"/><use href="#mC" x="143.0" y="410.7"/><use href="#mC" x="144.5" y="437.7"/><use href="#mC" x="145.9" y="418.1"/><use href="#mC" x="147.6" y="424.7"/><use href="#mC" x="148.8" y="425.2"/><use href="#mC" x="149.2" y="477.3"/><use href="#mC" x="150.4" y="431.8"/><use href="#mC" x="151.8" y="426.1"/><use href="#mC" x="153.5" y="436.3"/><use href="#mC" x="154.9" y="441.6"/><use href="#mC" x="156.5" y="444.9"/><use href="#mC" x="157.9" y="442.9"/><use href="#mC" x="159.4" y="458.4"/><use href="#mC" x="160.9" y="450.9"/><use href="#mC" x="162.4" y="469.5"/><use href="#mC" x="163.8" y="461.2"/><use href="#mC" x="165.5" y="469.3"/><use href="#mC" x="166.8" y="473.7"/><use href="#mC" x="168.4" y="484.9"/><use href="#mC" x="169.8" y="462.0"/><use href="#mC" x="171.4" y="481.5"/><use href="#mC" x="172.9" y="477.3"/><use href="#mC" x="174.4" y="483.3"/><use href="#mC" x="176.0" y="477.6"/><use href="#mC" x="177.4" y="492.7"/><use href="#mC" x="177.5" y="455.0"/><use href="#mC" x="179.0" y="479.0"/><use href="#mC" x="180.5" y="492.7"/><use href="#mC" x="182.1" y="498.6"/><use href="#mC" x="183.4" y="494.9"/><use href="#mC" x="185.2" y="490.9"/><use href="#mC" x="186.5" y="493.6"/><use href="#mC" x="188.1" y="505.7"/><use href="#mC" x="189.6" y="504.8"/><use href="#mC" x="191.0" y="509.2"/><use href="#mC" x="192.5" y="510.6"/><use href="#mC" x="193.9" y="512.4"/><use href="#mC" x="195.4" y="507.7"/><use href="#mC" x="197.1" y="524.9"/><use href="#mC" x="198.6" y="521.7"/><use href="#mC" x="200.1" y="514.6"/><use href="#mC" x="201.5" y="521.0"/><use href="#mC" x="203.1" y="524.3"/><use href="#mC" x="204.7" y="524.8"/><use href="#mC" x="206.2" y="522.6"/><use href="#mC" x="207.5" y="518.9"/><use href="#mC" x="208.9" y="524.5"/><use href="#mC" x="210.6" y="517.8"/><use href="#mC" x="212.2" y="506.0"/><use href="#mC" x="213.5" y="515.8"/><use href="#mC" x="215.0" y="508.2"/><use href="#mC" x="216.6" y="503.9"/><use href="#mC" x="218.1" y="521.7"/><use href="#mC" x="219.5" y="517.4"/><use href="#mC" x="221.2" y="519.2"/><use href="#mC" x="222.6" y="512.4"/><use href="#mC" x="224.1" y="499.8"/><use href="#mC" x="225.5" y="501.4"/><use href="#mC" x="227.2" y="497.3"/><use href="#mC" x="228.6" y="499.5"/><use href="#mC" x="230.1" y="510.1"/><use href="#mC" x="231.7" y="505.1"/><use href="#mC" x="233.3" y="522.9"/><use href="#mC" x="234.5" y="512.6"/><use href="#mC" x="236.3" y="512.6"/><use href="#mC" x="237.6" y="502.1"/><use href="#mC" x="239.1" y="523.6"/><use href="#mC" x="240.5" y="525.0"/><use href="#mC" x="242.2" y="523.1"/><use href="#mC" x="243.7" y="504.5"/><use href="#mC" x="245.3" y="506.4"/><use href="#mC" x="246.7" y="511.5"/><use href="#mC" x="248.3" y="509.7"/><use href="#mC" x="249.6" y="509.1"/><use href="#mC" x="251.1" y="520.7"/><use href="#mC" x="252.8" y="517.3"/><use href="#mC" x="254.1" y="510.0"/><use href="#mC" x="255.7" y="529.7"/><use href="#mC" x="257.1" y="523.9"/><use href="#mC" x="258.7" y="507.8"/><use href="#mC" x="260.1" y="510.5"/><use href="#mC" x="261.8" y="521.7"/><use href="#mC" x="263.4" y="513.5"/><use href="#mC" x="264.7" y="526.0"/><use href="#mC" x="266.2" y="510.6"/><use href="#mC" x="267.7" y="528.2"/><use href="#mC" x="269.2" y="521.6"/><use href="#mC" x="270.6" y="519.5"/><use href="#mC" x="272.1" y="513.7"/><use href="#mC" x="273.7" y="531.6"/><use href="#mC" x="275.3" y="526.9"/><use href="#mC" x="276.9" y="522.5"/><use href="#mC" x="278.3" y="514.5"/><use href="#mC" x="279.7" y="517.0"/><use href="#mC" x="281.3" y="525.1"/><use href="#mC" x="282.9" y="535.3"/><use href="#mC" x="284.4" y="532.6"/><use href="#mC" x="285.9" y="532.7"/><use href="#mC" x="287.1" y="524.4"/><use href="#mC" x="288.9" y="530.7"/><use href="#mC" x="290.3" y="522.2"/><use href="#mC" x="291.7" y="524.4"/><use href="#mC" x="293.2" y="526.6"/><use href="#mC" x="294.9" y="529.6"/><use href="#mC" x="296.2" y="537.1"/><use href="#mC" x="297.9" y="527.9"/><use href="#mC" x="299.4" y="520.2"/><use href="#mC" x="300.7" y="516.0"/><use href="#mC" x="302.5" y="518.7"/><use href="#mC" x="303.9" y="522.4"/><use href="#mC" x="305.4" y="523.0"/><use href="#mC" x="306.9" y="533.8"/><use href="#mC" x="308.2" y="521.9"/><use href="#mC" x="309.9" y="539.5"/><use href="#mC" x="311.4" y="525.4"/><use href="#mC" x="312.9" y="521.3"/><use href="#mC" x="314.5" y="531.9"/><use href="#mC" x="315.9" y="529.0"/><use href="#mC" x="317.4" y="531.5"/><use href="#mC" x="319.0" y="530.9"/><use href="#mC" x="320.5" y="534.0"/><use href="#mC" x="321.9" y="518.9"/><use href="#mC" x="323.4" y="533.5"/><use href="#mC" x="324.8" y="531.0"/><use href="#mC" x="326.4" y="522.1"/><use href="#mC" x="328.0" y="517.7"/><use href="#mC" x="329.4" y="533.5"/><use href="#mC" x="330.9" y="524.5"/><use href="#mC" x="332.3" y="539.4"/><use href="#mC" x="333.8" y="536.6"/><use href="#mC" x="335.3" y="519.0"/><use href="#mC" x="336.8" y="520.0"/><use href="#mC" x="338.3" y="540.2"/><use href="#mC" x="340.1" y="543.4"/><use href="#mC" x="341.3" y="542.4"/><use href="#mC" x="342.8" y="535.3"/><use href="#mC" x="344.3" y="541.7"/><use href="#mC" x="345.8" y="526.8"/><use href="#mC" x="347.3" y="539.8"/><use href="#mC" x="349.0" y="521.7"/><use href="#mC" x="350.5" y="526.6"/><use href="#mC" x="352.0" y="524.2"/><use href="#mC" x="353.6" y="542.3"/><use href="#mC" x="354.8" y="529.2"/><use href="#mC" x="356.5" y="532.1"/><use href="#mC" x="358.0" y="541.9"/><use href="#mC" x="359.5" y="534.9"/><use href="#mC" x="360.9" y="540.1"/><use href="#mC" x="362.4" y="530.7"/><use href="#mC" x="364.0" y="521.5"/><use href="#mC" x="365.4" y="526.9"/><use href="#mC" x="366.9" y="528.8"/><use href="#mC" x="368.4" y="523.0"/><use href="#mC" x="370.1" y="540.2"/><use href="#mC" x="371.6" y="541.3"/><use href="#mC" x="372.9" y="544.6"/><use href="#mC" x="374.5" y="544.7"/><use href="#mC" x="376.1" y="531.3"/><use href="#mC" x="377.5" y="527.5"/><use href="#mC" x="378.9" y="538.4"/><use href="#mC" x="380.5" y="547.9"/><use href="#mC" x="382.1" y="545.5"/><use href="#mC" x="383.4" y="525.1"/><use href="#mC" x="385.1" y="535.3"/><use href="#mC" x="386.5" y="544.3"/><use href="#mC" x="387.9" y="533.3"/><use href="#mC" x="389.5" y="544.1"/><use href="#mC" x="391.2" y="548.0"/><use href="#mC" x="392.5" y="526.8"/><use href="#mC" x="394.1" y="545.6"/><use href="#mC" x="395.6" y="532.3"/><use href="#mC" x="397.1" y="521.3"/><use href="#mC" x="398.7" y="531.4"/><use href="#mC" x="400.1" y="534.6"/><use href="#mC" x="401.6" y="525.1"/><use href="#mC" x="403.1" y="538.1"/><use href="#mC" x="404.4" y="526.0"/><use href="#mC" x="406.0" y="536.7"/><use href="#mC" x="407.5" y="533.0"/><use href="#mC" x="409.1" y="524.9"/><use href="#mC" x="410.6" y="533.0"/><use href="#mC" x="412.2" y="536.6"/><use href="#mC" x="413.6" y="527.5"/><use href="#mC" x="415.2" y="527.7"/><use href="#mC" x="416.7" y="533.3"/><use href="#mC" x="418.1" y="544.3"/><use href="#mC" x="419.5" y="537.0"/><use href="#mC" x="421.1" y="523.3"/><use href="#mC" x="422.5" y="539.7"/><use href="#mC" x="424.2" y="536.5"/><use href="#mC" x="425.7" y="545.5"/><use href="#mC" x="427.2" y="537.4"/><use href="#mC" x="428.7" y="548.7"/><use href="#mC" x="430.1" y="526.4"/><use href="#mC" x="431.7" y="533.6"/><use href="#mC" x="433.1" y="549.5"/><use href="#mC" x="434.7" y="537.3"/><use href="#mC" x="436.2" y="532.4"/><use href="#mC" x="437.6" y="524.5"/><use href="#mC" x="439.1" y="522.0"/><use href="#mC" x="440.5" y="521.7"/><use href="#mC" x="442.2" y="537.5"/><use href="#mC" x="443.8" y="535.7"/><use href="#mC" x="445.2" y="549.4"/><use href="#mC" x="446.8" y="531.9"/><use href="#mC" x="448.1" y="548.0"/><use href="#mC" x="449.7" y="523.0"/><use href="#mC" x="451.3" y="537.4"/><use href="#mC" x="452.6" y="526.3"/><use href="#mC" x="454.1" y="529.3"/><use href="#mC" x="455.7" y="522.2"/><use href="#mC" x="457.1" y="527.5"/><use href="#mC" x="458.8" y="551.5"/><use href="#mC" x="460.2" y="543.0"/><use href="#mC" x="461.8" y="522.4"/><use href="#mC" x="463.3" y="537.0"/><use href="#mC" x="464.8" y="544.7"/><use href="#mC" x="466.2" y="548.9"/><use href="#mC" x="467.8" y="550.5"/><use href="#mC" x="469.2" y="547.1"/><use href="#mC" x="470.8" y="551.0"/><use href="#mC" x="472.1" y="533.2"/><use href="#mC" x="473.8" y="524.9"/><use href="#mC" x="475.3" y="521.5"/><use href="#mC" x="476.6" y="533.2"/><use href="#mC" x="478.3" y="547.7"/><use href="#mC" x="479.7" y="545.7"/><use href="#mC" x="481.3" y="528.3"/><use href="#mC" x="482.8" y="535.2"/><use href="#mC" x="484.1" y="530.4"/><use href="#mC" x="485.8" y="548.3"/><use href="#mC" x="487.3" y="545.9"/><use href="#mC" x="488.7" y="539.3"/><use href="#mC" x="490.4" y="550.6"/><use href="#mC" x="491.8" y="546.5"/><use href="#mC" x="493.3" y="527.6"/><use href="#mC" x="494.7" y="530.8"/><use href="#mC" x="496.3" y="547.3"/><use href="#mC" x="497.7" y="536.8"/><use href="#mC" x="499.4" y="534.8"/><use href="#mC" x="500.7" y="528.9"/><use href="#mC" x="502.3" y="540.8"/><use href="#mC" x="503.7" y="540.3"/><use href="#mC" x="505.4" y="546.0"/><use href="#mC" x="506.7" y="525.8"/><use href="#mC" x="508.3" y="552.8"/><use href="#mC" x="510.0" y="551.6"/><use href="#mC" x="511.3" y="534.6"/><use href="#mC" x="512.9" y="525.3"/><use href="#mC" x="514.3" y="536.4"/><use href="#mC" x="516.0" y="539.9"/><use href="#mC" x="517.4" y="540.0"/><use href="#mC" x="518.9" y="523.4"/><use href="#mC" x="520.3" y="530.9"/><use href="#mC" x="521.8" y="525.8"/><use href="#mC" x="523.5" y="526.8"/><use href="#mC" x="525.0" y="535.9"/><use href="#mC" x="526.5" y="551.0"/><use href="#mC" x="527.9" y="553.9"/><use href="#mC" x="529.4" y="532.8"/><use href="#mC" x="530.8" y="528.6"/><use href="#mC" x="532.4" y="549.9"/><use href="#mC" x="533.8" y="536.8"/><use href="#mC" x="535.4" y="555.3"/><use href="#mC" x="536.8" y="523.0"/><use href="#mC" x="538.4" y="533.2"/><use href="#mC" x="539.9" y="554.7"/><use href="#mC" x="541.5" y="549.9"/><use href="#mC" x="542.8" y="535.7"/><use href="#mC" x="544.5" y="557.1"/><use href="#mC" x="546.1" y="556.8"/><use href="#mC" x="547.3" y="546.0"/><use href="#mC" x="549.0" y="531.4"/><use href="#mC" x="550.5" y="542.6"/><use href="#mC" x="552.1" y="553.2"/><use href="#mC" x="553.6" y="556.3"/><use href="#mC" x="554.8" y="531.3"/><use href="#mC" x="556.5" y="534.1"/><use href="#mC" x="557.9" y="527.2"/><use href="#mC" x="559.5" y="551.0"/><use href="#mC" x="560.8" y="522.9"/><use href="#mC" x="562.3" y="550.7"/><use href="#mC" x="563.9" y="526.4"/><use href="#mC" x="565.6" y="528.3"/><use href="#mC" x="567.0" y="558.5"/><use href="#mC" x="568.6" y="552.1"/><use href="#mC" x="570.1" y="523.7"/><use href="#mC" x="571.4" y="532.4"/><use href="#mC" x="572.9" y="555.5"/><use href="#mC" x="574.6" y="543.1"/><use href="#mC" x="575.9" y="538.8"/><use href="#mC" x="577.4" y="543.8"/><use href="#mC" x="579.1" y="527.6"/><use href="#mC" x="580.4" y="526.5"/><use href="#mC" x="581.9" y="551.8"/><use href="#mC" x="583.5" y="553.2"/><use href="#mC" x="584.9" y="535.3"/><use href="#mC" x="586.5" y="552.4"/><use href="#mC" x="588.0" y="554.8"/><use href="#mC" x="589.6" y="524.0"/><use href="#mC" x="591.0" y="543.9"/><use href="#mC" x="592.5" y="545.9"/><use href="#mC" x="594.0" y="552.8"/><use href="#mC" x="595.5" y="534.0"/><use href="#mC" x="597.1" y="556.9"/><use href="#mC" x="598.5" y="528.5"/><use href="#mC" x="600.0" y="528.9"/><use href="#mC" x="601.6" y="536.4"/><use href="#mC" x="603.0" y="538.1"/><use href="#mC" x="604.5" y="540.4"/><use href="#mC" x="606.2" y="555.4"/><use href="#mC" x="607.5" y="526.2"/><use href="#mC" x="609.2" y="529.5"/><use href="#mC" x="610.7" y="555.6"/><use href="#mC" x="612.2" y="554.8"/><use href="#mC" x="613.7" y="544.8"/><use href="#mC" x="615.1" y="540.3"/><use href="#mC" x="616.5" y="538.6"/><use href="#mC" x="618.2" y="542.9"/><use href="#mC" x="619.6" y="545.9"/><use href="#mC" x="621.0" y="548.9"/><use href="#mC" x="622.7" y="523.9"/><use href="#mC" x="624.1" y="548.8"/><use href="#mC" x="625.6" y="527.6"/><use href="#mC" x="627.1" y="552.7"/><use href="#mC" x="628.6" y="556.2"/><use href="#mC" x="630.0" y="550.9"/><use href="#mC" x="631.7" y="525.2"/><use href="#mC" x="633.1" y="548.6"/><use href="#mC" x="634.7" y="558.3"/><use href="#mC" x="636.0" y="538.3"/><use href="#mC" x="637.6" y="546.5"/><use href="#mC" x="639.1" y="558.7"/><use href="#mC" x="640.6" y="552.9"/><use href="#mC" x="642.1" y="556.8"/><use href="#mC" x="643.8" y="558.8"/><use href="#mC" x="645.2" y="553.1"/><use href="#mC" x="646.6" y="531.5"/><use href="#mC" x="648.3" y="523.9"/><use href="#mC" x="649.6" y="539.5"/><use href="#mC" x="651.2" y="556.4"/><use href="#mC" x="652.7" y="536.9"/><use href="#mC" x="654.2" y="530.5"/><use href="#mC" x="655.7" y="548.6"/><use href="#mC" x="657.3" y="538.4"/><use href="#mC" x="658.6" y="526.2"/><use href="#mC" x="660.2" y="537.2"/><use href="#mC" x="661.7" y="527.8"/><use href="#mC" x="663.3" y="543.1"/><use href="#mC" x="664.7" y="531.0"/><use href="#mC" x="666.3" y="537.3"/><use href="#mC" x="667.8" y="540.0"/><use href="#mC" x="669.2" y="547.7"/><use href="#mC" x="670.7" y="553.8"/><use href="#mC" x="672.4" y="539.1"/><use href="#mC" x="673.6" y="551.7"/><use href="#mC" x="675.2" y="529.8"/><use href="#mC" x="676.9" y="531.5"/><use href="#mC" x="678.2" y="543.7"/><use href="#mC" x="679.9" y="545.1"/><use href="#mC" x="681.3" y="557.5"/><use href="#mC" x="682.8" y="540.8"/><use href="#mC" x="684.4" y="524.1"/><use href="#mC" x="685.9" y="547.2"/><use href="#mC" x="687.4" y="525.7"/><use href="#mC" x="688.7" y="543.8"/><use href="#mC" x="690.3" y="548.2"/><use href="#mC" x="691.7" y="530.5"/><use href="#mC" x="693.2" y="539.0"/><use href="#mC" x="694.7" y="542.4"/><use href="#mC" x="696.4" y="559.3"/><use href="#mC" x="697.7" y="526.3"/><use href="#mC" x="699.4" y="540.9"/><use href="#mC" x="700.8" y="548.5"/><use href="#mC" x="702.4" y="538.2"/><use href="#mC" x="703.8" y="534.1"/><use href="#mC" x="705.2" y="545.2"/><use href="#mC" x="706.9" y="526.0"/><use href="#mC" x="708.3" y="530.8"/><use href="#mC" x="710.0" y="540.4"/><use href="#mC" x="711.2" y="555.8"/><use href="#mC" x="712.9" y="547.1"/><use href="#mC" x="714.4" y="558.1"/><use href="#mC" x="716.0" y="549.4"/><use href="#mC" x="717.4" y="536.8"/><use href="#mC" x="718.8" y="552.0"/><use href="#mC" x="720.4" y="547.7"/><use href="#mC" x="721.7" y="553.3"/><use href="#mC" x="723.2" y="526.8"/><use href="#mC" x="724.8" y="526.0"/><use href="#mC" x="726.4" y="524.6"/><use href="#mC" x="727.9" y="550.4"/><use href="#mC" x="729.3" y="537.0"/><use href="#mC" x="730.9" y="534.9"/><use href="#mC" x="732.5" y="556.2"/><use href="#mC" x="733.9" y="534.0"/><use href="#mC" x="735.5" y="550.7"/><use href="#mC" x="737.0" y="559.0"/><use href="#mC" x="738.4" y="547.9"/><use href="#mC" x="739.9" y="553.6"/><use href="#mC" x="741.4" y="547.2"/><use href="#mC" x="742.9" y="545.1"/><use href="#mC" x="744.3" y="553.8"/><use href="#mC" x="745.9" y="523.6"/><use href="#mC" x="747.5" y="554.5"/><use href="#mC" x="749.0" y="554.7"/><use href="#mC" x="750.4" y="523.5"/><use href="#mC" x="751.9" y="556.3"/><use href="#mC" x="753.5" y="538.6"/><use href="#mC" x="755.0" y="525.3"/><use href="#mC" x="756.5" y="546.8"/><use href="#mC" x="757.9" y="538.8"/><use href="#mC" x="759.5" y="541.7"/><use href="#mC" x="760.9" y="551.0"/><use href="#mC" x="762.6" y="523.8"/><use href="#mC" x="764.0" y="534.1"/><use href="#mC" x="765.4" y="554.5"/><use href="#mC" x="766.8" y="537.6"/><use href="#mC" x="768.6" y="535.0"/><use href="#mC" x="770.0" y="528.8"/><use href="#mC" x="771.5" y="544.6"/><use href="#mC" x="772.9" y="529.8"/><use href="#mC" x="774.6" y="541.1"/><use href="#mC" x="776.1" y="526.9"/><use href="#mC" x="777.4" y="552.4"/><use href="#mC" x="779.0" y="534.2"/><use href="#mC" x="780.4" y="544.2"/><use href="#mC" x="782.1" y="549.7"/><use href="#mC" x="783.6" y="558.3"/><use href="#mC" x="785.0" y="537.1"/><use href="#mC" x="786.6" y="541.8"/><use href="#mC" x="788.1" y="536.2"/><use href="#mC" x="789.6" y="544.0"/><use href="#mC" x="791.0" y="555.9"/><use href="#mC" x="792.7" y="532.1"/><use href="#mC" x="794.1" y="533.0"/><use href="#mC" x="795.5" y="554.2"/><use href="#mC" x="797.1" y="543.5"/><use href="#mC" x="798.6" y="528.6"/><use href="#mC" x="800.0" y="547.0"/><use href="#mC" x="801.6" y="528.3"/><use href="#mC" x="803.1" y="538.9"/><use href="#mC" x="804.7" y="527.0"/><use href="#mC" x="805.9" y="525.0"/><use href="#mC" x="807.5" y="540.6"/><use href="#mC" x="809.1" y="524.9"/><use href="#mC" x="810.5" y="559.2"/><use href="#mC" x="812.2" y="544.1"/><use href="#mC" x="813.6" y="545.2"/><use href="#mC" x="815.0" y="559.8"/>
<path d="M93.6 129.9 L94.4 142.4 L95.7 135.0 L96.9 145.6 L98.0 155.0 L99.4 175.3 L100.4 159.4 L101.7 177.4 L103.0 174.3 L104.2 163.0 L105.3 196.1 L106.6 199.3 L107.6 202.7 L108.9 197.0 L110.1 192.6 L111.5 181.0 L112.5 210.4 L113.8 225.1 L114.9 210.7 L116.2 236.0 L117.3 217.1 L118.5 226.5 L119.7 222.1 L121.0 250.4 L122.1 224.7 L123.4 249.1 L124.6 215.7 L125.9 258.2 L127.0 260.1 L128.3 272.8 L129.5 259.6 L130.5 277.3 L131.9 234.3 L132.9 270.2 L133.0 305.9 L134.3 258.5 L135.4 269.6 L136.6 248.4 L137.7 281.5 L139.0 252.1 L140.3 265.2 L141.4 287.4 L142.7 294.4 L143.8 290.8 L145.1 278.3 L146.3 262.4 L147.4 280.0 L148.7 281.9 L149.8 276.5 L150.9 279.0 L152.3 272.6 L153.5 278.6 L154.6 298.6 L156.0 285.8 L157.1 311.4 L158.3 301.3 L159.4 305.7 L160.6 317.0 L161.9 289.9 L163.2 308.8 L164.3 317.6 L165.4 316.4 L166.8 328.4 L167.8 321.7 L169.0 292.7 L170.3 327.2 L171.5 299.8 L172.7 301.1 L173.8 316.4 L175.1 312.5 L176.4 319.7 L177.5 313.6 L178.7 331.4 L179.8 338.9 L181.1 348.5 L182.3 312.2 L183.5 316.8 L184.7 350.2 L186.0 331.1 L187.1 332.0 L188.3 343.7 L189.5 326.8 L190.7 351.8 L192.0 362.0 L193.2 330.6 L194.4 354.1 L195.6 332.9 L196.8 369.0 L197.8 363.9 L199.2 360.2 L200.3 360.8 L201.6 371.3 L202.8 358.0 L204.0 344.8 L205.2 360.2 L206.4 363.8 L207.6 370.8 L208.8 349.5 L210.1 358.1 L211.2 362.4 L212.5 382.0 L213.5 384.7 L214.7 381.8 L216.1 373.1 L217.3 372.8 L218.3 392.6 L219.6 396.9 L220.8 390.2 L222.0 407.7 L222.6 356.1 L223.3 384.4 L224.5 407.2 L225.7 403.6 L226.7 419.9 L228.1 403.9 L229.2 425.8 L230.6 427.1 L231.7 429.1 L232.8 437.3 L234.0 430.5 L235.3 446.2 L236.4 422.2 L237.6 432.8 L238.9 442.7 L240.0 410.7 L241.3 440.3 L242.4 455.1 L243.6 448.2 L244.8 449.3 L246.1 439.4 L247.2 430.9 L248.4 423.4 L249.7 458.7 L250.8 421.9 L252.0 433.2 L253.3 442.1 L254.5 417.0 L255.7 448.9 L257.0 455.7 L258.2 441.4 L259.3 429.8 L260.5 467.9 L261.8 447.9 L263.0 461.2 L264.1 452.3 L265.3 466.9 L266.4 452.9 L267.6 424.1 L268.9 437.0 L270.1 457.6 L271.4 419.0 L272.5 460.1 L273.8 440.2 L274.9 441.6 L276.1 437.4 L277.4 426.0 L278.5 470.3 L279.7 450.4 L281.1 444.4 L282.3 425.2 L283.4 428.3 L284.7 471.2 L285.8 440.9 L286.9 452.2 L287.6 435.1 L288.2 446.7 L289.4 430.0 L290.6 459.3 L291.7 471.6 L292.9 444.7 L294.3 448.6 L295.5 435.5 L296.5 454.6 L297.8 448.6 L299.1 440.6 L300.2 443.8 L301.3 468.5 L302.6 470.4 L303.8 468.7 L305.0 468.8 L306.3 478.6 L307.4 469.9 L308.6 472.6 L309.9 493.3 L311.2 501.7 L312.2 483.8 L313.6 486.6 L314.8 501.0 L316.0 483.7 L317.1 504.9 L318.2 508.6 L319.6 482.4 L320.7 497.3 L321.9 480.9 L323.1 493.7 L324.3 498.4 L325.4 499.8 L326.7 502.7 L327.9 496.7 L329.1 507.3 L330.4 492.7 L331.4 496.4 L332.7 495.1 L333.8 490.4 L335.2 509.6 L336.4 494.5 L337.5 510.0 L338.7 484.4 L339.9 496.5 L341.2 506.2 L342.2 505.8 L343.6 492.4 L344.6 487.0 L345.9 500.3 L347.1 512.9 L348.2 490.3 L349.5 508.0 L350.8 486.7 L351.8 509.1 L353.2 491.2 L354.5 509.9 L355.5 485.0 L356.8 511.0 L357.9 494.9 L359.3 500.3 L360.3 483.0 L361.7 511.4 L362.8 485.2 L364.0 516.7 L365.1 507.3 L366.4 485.9 L367.6 491.5 L368.8 511.9 L369.9 500.0 L371.3 487.2 L372.3 474.5 L373.6 501.8 L374.9 509.1 L375.9 510.6 L377.3 514.8 L378.4 504.5 L379.5 500.7 L380.7 510.4 L382.1 481.9 L383.3 507.4 L384.5 491.9 L385.5 488.3 L386.7 507.9 L388.1 511.9 L389.3 503.1 L390.4 509.0 L391.6 508.7 L392.8 511.2 L394.0 513.3 L395.3 491.2 L396.4 500.8 L397.6 465.3 L398.9 481.8 L400.2 482.5 L401.3 493.2 L402.6 495.5 L403.7 493.8 L405.0 489.0 L406.1 507.1 L407.3 490.5 L408.4 508.8 L409.6 496.1 L410.9 507.5 L412.1 500.3 L413.3 503.4 L414.5 492.0 L415.8 514.3 L416.8 483.0 L418.1 490.9 L419.3 493.9 L420.6 485.6 L421.8 485.8 L422.9 510.1 L424.2 512.9 L425.2 502.1 L426.4 499.9 L427.7 509.1 L429.0 511.5 L430.2 505.6 L431.4 508.0 L432.6 508.0 L433.7 488.8 L435.0 493.9 L436.1 495.7 L437.4 502.3 L438.5 487.0 L439.8 513.1 L440.9 498.7 L442.3 515.0 L443.4 494.2 L444.5 482.3 L445.8 493.2 L446.9 514.6 L448.3 500.0 L449.4 491.8 L450.7 509.1 L451.8 486.4 L452.9 487.5 L454.2 488.0 L455.3 499.7 L456.7 501.7 L457.9 501.0 L459.1 511.2 L460.1 487.1 L461.4 491.0 L462.5 491.9 L463.9 490.1 L465.0 511.1 L466.1 495.8 L467.4 499.1 L468.7 504.5 L469.9 491.3 L471.1 486.7 L472.3 506.5 L473.5 506.8 L474.6 485.8 L475.8 490.6 L477.1 515.2 L478.3 498.6 L479.4 500.2 L480.6 490.6 L481.9 490.8 L483.1 488.2 L484.3 501.8 L485.4 500.2 L486.8 495.2 L487.9 500.2 L489.1 500.9 L490.3 511.5 L491.6 503.6 L492.8 495.1 L493.8 496.7 L495.2 491.9 L496.3 513.1 L497.5 486.4 L498.8 507.5 L500.0 503.4 L501.1 495.6 L502.2 496.1 L503.5 510.9 L504.7 498.0 L505.8 499.6 L507.2 508.7 L508.3 497.6 L509.6 487.1 L510.7 488.7 L512.0 484.3 L513.2 486.0 L514.3 515.5 L515.5 516.2 L516.8 493.5 L518.0 513.1 L519.3 489.4 L520.4 493.6 L521.5 486.4 L522.8 499.4 L524.0 506.0 L525.1 505.0 L526.4 516.0 L527.7 499.1 L528.8 483.6 L530.1 495.6 L531.2 485.4 L532.5 486.1 L533.6 486.7 L534.8 495.3 L535.9 499.0 L537.2 511.4 L538.5 497.2 L539.7 516.0 L540.9 497.2 L542.1 513.6 L543.2 496.6 L544.5 489.9 L545.6 498.1 L546.9 503.7 L548.1 488.8 L549.3 499.0 L550.5 493.3 L551.7 504.8 L552.9 487.1 L554.1 498.0 L555.2 514.0 L556.4 505.3 L557.7 500.3 L558.8 505.4 L560.1 514.8 L561.4 484.0 L562.5 505.9 L563.8 512.8 L564.9 488.3 L566.2 491.9 L567.2 511.3 L568.4 514.6 L569.6 506.7 L570.8 490.5 L572.1 503.5 L573.2 489.8 L574.6 498.4 L575.7 494.6 L576.8 510.6 L578.0 509.0 L579.4 475.1 L580.4 500.5 L581.7 506.3 L583.0 508.7 L584.2 508.3 L585.4 486.1 L586.5 487.8 L587.7 517.1 L589.0 500.6 L590.1 508.2 L591.3 501.1 L592.5 497.7 L593.8 506.6 L594.9 513.7 L596.2 496.3 L597.3 489.2 L598.6 492.6 L599.8 505.6 L601.0 485.3 L602.1 512.0 L603.3 512.5 L604.6 492.5 L605.8 485.3 L607.0 504.2 L608.1 506.9 L609.3 496.1 L610.5 488.8 L611.8 508.8 L613.0 491.9 L614.1 512.2 L615.4 500.2 L616.7 489.7 L617.8 515.1 L619.0 519.8 L620.2 489.6 L621.5 501.0 L622.7 492.2 L623.9 486.1 L625.0 492.9 L626.2 504.7 L627.5 515.9 L628.6 515.1 L629.8 511.4 L631.0 486.4 L632.2 517.0 L633.5 505.8 L634.6 509.1 L636.0 492.0 L637.0 502.8 L638.3 508.4 L639.5 516.0 L640.7 500.4 L642.0 506.9 L643.1 492.9 L644.3 505.2 L645.6 508.9 L646.6 514.1 L647.9 496.4 L649.0 508.7 L650.3 493.0 L651.5 516.8 L652.8 493.8 L653.9 495.0 L655.1 488.0 L656.3 536.0 L657.5 486.7 L658.7 513.0 L659.8 515.8 L661.1 491.7 L662.4 508.6 L663.4 508.4 L664.8 506.7 L666.0 490.7 L667.0 516.3 L668.4 491.8 L669.6 513.4 L670.6 517.0 L671.8 504.2 L673.2 506.3 L674.4 513.0 L675.7 484.8 L676.7 511.4 L677.9 494.4 L679.2 489.4 L680.4 513.4 L681.5 510.0 L682.7 500.4 L684.0 487.5 L685.3 503.9 L686.4 509.1 L687.6 506.8 L688.9 483.3 L690.1 485.2 L691.3 505.0 L692.3 509.9 L693.6 509.7 L694.8 511.0 L696.0 517.1 L697.2 497.6 L698.5 515.7 L699.5 508.0 L700.9 515.4 L702.1 487.5 L703.1 507.0 L704.5 486.7 L705.6 511.0 L706.7 489.4 L708.0 511.1 L709.2 504.9 L710.3 506.6 L711.6 487.0 L712.9 490.0 L714.1 494.0 L715.2 490.0 L716.5 486.7 L717.7 512.5 L718.9 491.5 L720.1 493.5 L721.2 515.3 L722.4 499.7 L723.6 487.1 L724.8 509.5 L726.0 513.3 L727.4 516.7 L728.5 497.6 L729.7 494.7 L730.8 497.4 L732.0 497.1 L733.2 507.7 L734.6 499.9 L735.8 490.9 L736.8 499.0 L738.1 515.5 L739.4 512.7 L740.4 514.0 L741.7 505.6 L743.0 492.7 L744.1 510.1 L745.3 515.0 L746.5 497.5 L747.7 493.6 L748.9 511.7 L750.1 486.5 L751.2 512.2 L752.5 498.5 L753.7 500.4 L754.9 506.2 L756.2 505.0 L757.3 515.6 L758.5 490.2 L759.7 515.4 L761.0 487.0 L762.1 512.9 L763.4 490.7 L764.6 516.0 L765.9 499.7 L767.0 487.5 L768.2 507.7 L769.5 504.3 L770.7 501.7 L771.9 514.7 L772.9 508.2 L774.1 488.3 L775.5 490.7 L776.6 515.9 L777.9 508.4 L779.1 508.1 L780.1 495.4 L781.4 496.4 L782.7 513.8 L783.7 515.7 L785.1 496.0 L786.3 496.8 L787.5 491.1 L788.6 504.2 L789.8 489.3 L791.1 495.1 L792.4 515.9 L793.4 496.9 L794.7 486.8 L795.8 497.9 L797.0 504.7 L798.3 519.0 L799.4 518.2 L800.7 505.9 L801.8 517.8 L803.1 510.8 L804.4 503.4 L805.4 495.2 L806.8 501.2 L807.9 511.8 L809.1 514.8 L810.3 510.1 L811.5 487.4 L812.6 502.7 L813.8 491.3 L815.1 519.5" stroke="#6cb01e" stroke-width="2.2"/>
<use href="#mT" x="93.6" y="129.9"/><use href="#mT" x="94.4" y="142.4"/><use href="#mT" x="95.7" y="135.0"/><use href="#mT" x="96.9" y="145.6"/><use href="#mT" x="98.0" y="155.0"/><use href="#mT" x="99.4" y="175.3"/><use href="#mT" x="100.4" y="159.4"/><use href="#mT" x="101.7" y="177.4"/><use href="#mT" x="103.0" y="174.3"/><use href="#mT" x="104.2" y="163.0"/><use href="#mT" x="105.3" y="196.1"/><use href="#mT" x="106.6" y="199.3"/><use href="#mT" x="107.6" y="202.7"/><use href="#mT" x="108.9" y="197.0"/><use href="#mT" x="110.1" y="192.6"/><use href="#mT" x="111.5" y="181.0"/><use href="#mT" x="112.5" y="210.4"/><use href="#mT" x="113.8" y="225.1"/><use href="#mT" x="114.9" y="210.7"/><use href="#mT" x="116.2" y="236.0"/><use href="#mT" x="117.3" y="217.1"/><use href="#mT" x="118.5" y="226.5"/><use href="#mT" x="119.7" y="222.1"/><use href="#mT" x="121.0" y="250.4"/><use href="#mT" x="122.1" y="224.7"/><use href="#mT" x="123.4" y="249.1"/><use href="#mT" x="124.6" y="215.7"/><use href="#mT" x="125.9" y="258.2"/><use href="#mT" x="127.0" y="260.1"/><use href="#mT" x="128.3" y="272.8"/><use href="#mT" x="129.5" y="259.6"/><use href="#mT" x="130.5" y="277.3"/><use href="#mT" x="131.9" y="234.3"/><use href="#mT" x="132.9" y="270.2"/><use href="#mT" x="133.0" y="305.9"/><use href="#mT" x="134.3" y="258.5"/><use href="#mT" x="135.4" y="269.6"/><use href="#mT" x="136.6" y="248.4"/><use href="#mT" x="137.7" y="281.5"/><use href="#mT" x="139.0" y="252.1"/><use href="#mT" x="140.3" y="265.2"/><use href="#mT" x="141.4" y="287.4"/><use href="#mT" x="142.7" y="294.4"/><use href="#mT" x="143.8" y="290.8"/><use href="#mT" x="145.1" y="278.3"/><use href="#mT" x="146.3" y="262.4"/><use href="#mT" x="147.4" y="280.0"/><use href="#mT" x="148.7" y="281.9"/><use href="#mT" x="149.8" y="276.5"/><use href="#mT" x="150.9" y="279.0"/><use href="#mT" x="152.3" y="272.6"/><use href="#mT" x="153.5" y="278.6"/><use href="#mT" x="154.6" y="298.6"/><use href="#mT" x="156.0" y="285.8"/><use href="#mT" x="157.1" y="311.4"/><use href="#mT" x="158.3" y="301.3"/><use href="#mT" x="159.4" y="305.7"/><use href="#mT" x="160.6" y="317.0"/><use href="#mT" x="161.9" y="289.9"/><use href="#mT" x="163.2" y="308.8"/><use href="#mT" x="164.3" y="317.6"/><use href="#mT" x="165.4" y="316.4"/><use href="#mT" x="166.8" y="328.4"/><use href="#mT" x="167.8" y="321.7"/><use href="#mT" x="169.0" y="292.7"/><use href="#mT" x="170.3" y="327.2"/><use href="#mT" x="171.5" y="299.8"/><use href="#mT" x="172.7" y="301.1"/><use href="#mT" x="173.8" y="316.4"/><use href="#mT" x="175.1" y="312.5"/><use href="#mT" x="176.4" y="319.7"/><use href="#mT" x="177.5" y="313.6"/><use href="#mT" x="178.7" y="331.4"/><use href="#mT" x="179.8" y="338.9"/><use href="#mT" x="181.1" y="348.5"/><use href="#mT" x="182.3" y="312.2"/><use href="#mT" x="183.5" y="316.8"/><use href="#mT" x="184.7" y="350.2"/><use href="#mT" x="186.0" y="331.1"/><use href="#mT" x="187.1" y="332.0"/><use href="#mT" x="188.3" y="343.7"/><use href="#mT" x="189.5" y="326.8"/><use href="#mT" x="190.7" y="351.8"/><use href="#mT" x="192.0" y="362.0"/><use href="#mT" x="193.2" y="330.6"/><use href="#mT" x="194.4" y="354.1"/><use href="#mT" x="195.6" y="332.9"/><use href="#mT" x="196.8" y="369.0"/><use href="#mT" x="197.8" y="363.9"/><use href="#mT" x="199.2" y="360.2"/><use href="#mT" x="200.3" y="360.8"/><use href="#mT" x="201.6" y="371.3"/><use href="#mT" x="202.8" y="358.0"/><use href="#mT" x="204.0" y="344.8"/><use href="#mT" x="205.2" y="360.2"/><use href="#mT" x="206.4" y="363.8"/><use href="#mT" x="207.6" y="370.8"/><use href="#mT" x="208.8" y="349.5"/><use href="#mT" x="210.1" y="358.1"/><use href="#mT" x="211.2" y="362.4"/><use href="#mT" x="212.5" y="382.0"/><use href="#mT" x="213.5" y="384.7"/><use href="#mT" x="214.7" y="381.8"/><use href="#mT" x="216.1" y="373.1"/><use href="#mT" x="217.3" y="372.8"/><use href="#mT" x="218.3" y="392.6"/><use href="#mT" x="219.6" y="396.9"/><use href="#mT" x="220.8" y="390.2"/><use href="#mT" x="222.0" y="407.7"/><use href="#mT" x="222.6" y="356.1"/><use href="#mT" x="223.3" y="384.4"/><use href="#mT" x="224.5" y="407.2"/><use href="#mT" x="225.7" y="403.6"/><use href="#mT" x="226.7" y="419.9"/><use href="#mT" x="228.1" y="403.9"/><use href="#mT" x="229.2" y="425.8"/><use href="#mT" x="230.6" y="427.1"/><use href="#mT" x="231.7" y="429.1"/><use href="#mT" x="232.8" y="437.3"/><use href="#mT" x="234.0" y="430.5"/><use href="#mT" x="235.3" y="446.2"/><use href="#mT" x="236.4" y="422.2"/><use href="#mT" x="237.6" y="432.8"/><use href="#mT" x="238.9" y="442.7"/><use href="#mT" x="240.0" y="410.7"/><use href="#mT" x="241.3" y="440.3"/><use href="#mT" x="242.4" y="455.1"/><use href="#mT" x="243.6" y="448.2"/><use href="#mT" x="244.8" y="449.3"/><use href="#mT" x="246.1" y="439.4"/><use href="#mT" x="247.2" y="430.9"/><use href="#mT" x="248.4" y="423.4"/><use href="#mT" x="249.7" y="458.7"/><use href="#mT" x="250.8" y="421.9"/><use href="#mT" x="252.0" y="433.2"/><use href="#mT" x="253.3" y="442.1"/><use href="#mT" x="254.5" y="417.0"/><use href="#mT" x="255.7" y="448.9"/><use href="#mT" x="257.0" y="455.7"/><use href="#mT" x="258.2" y="441.4"/><use href="#mT" x="259.3" y="429.8"/><use href="#mT" x="260.5" y="467.9"/><use href="#mT" x="261.8" y="447.9"/><use href="#mT" x="263.0" y="461.2"/><use href="#mT" x="264.1" y="452.3"/><use href="#mT" x="265.3" y="466.9"/><use href="#mT" x="266.4" y="452.9"/><use href="#mT" x="267.6" y="424.1"/><use href="#mT" x="268.9" y="437.0"/><use href="#mT" x="270.1" y="457.6"/><use href="#mT" x="271.4" y="419.0"/><use href="#mT" x="272.5" y="460.1"/><use href="#mT" x="273.8" y="440.2"/><use href="#mT" x="274.9" y="441.6"/><use href="#mT" x="276.1" y="437.4"/><use href="#mT" x="277.4" y="426.0"/><use href="#mT" x="278.5" y="470.3"/><use href="#mT" x="279.7" y="450.4"/><use href="#mT" x="281.1" y="444.4"/><use href="#mT" x="282.3" y="425.2"/><use href="#mT" x="283.4" y="428.3"/><use href="#mT" x="284.7" y="471.2"/><use href="#mT" x="285.8" y="440.9"/><use href="#mT" x="286.9" y="452.2"/><use href="#mT" x="287.6" y="435.1"/><use href="#mT" x="288.2" y="446.7"/><use href="#mT" x="289.4" y="430.0"/><use href="#mT" x="290.6" y="459.3"/><use href="#mT" x="291.7" y="471.6"/><use href="#mT" x="292.9" y="444.7"/><use href="#mT" x="294.3" y="448.6"/><use href="#mT" x="295.5" y="435.5"/><use href="#mT" x="296.5" y="454.6"/><use href="#mT" x="297.8" y="448.6"/><use href="#mT" x="299.1" y="440.6"/><use href="#mT" x="300.2" y="443.8"/><use href="#mT" x="301.3" y="468.5"/><use href="#mT" x="302.6" y="470.4"/><use href="#mT" x="303.8" y="468.7"/><use href="#mT" x="305.0" y="468.8"/><use href="#mT" x="306.3" y="478.6"/><use href="#mT" x="307.4" y="469.9"/><use href="#mT" x="308.6" y="472.6"/><use href="#mT" x="309.9" y="493.3"/><use href="#mT" x="311.2" y="501.7"/><use href="#mT" x="312.2" y="483.8"/><use href="#mT" x="313.6" y="486.6"/><use href="#mT" x="314.8" y="501.0"/><use href="#mT" x="316.0" y="483.7"/><use href="#mT" x="317.1" y="504.9"/><use href="#mT" x="318.2" y="508.6"/><use href="#mT" x="319.6" y="482.4"/><use href="#mT" x="320.7" y="497.3"/><use href="#mT" x="321.9" y="480.9"/><use href="#mT" x="323.1" y="493.7"/><use href="#mT" x="324.3" y="498.4"/><use href="#mT" x="325.4" y="499.8"/><use href="#mT" x="326.7" y="502.7"/><use href="#mT" x="327.9" y="496.7"/><use href="#mT" x="329.1" y="507.3"/><use href="#mT" x="330.4" y="492.7"/><use href="#mT" x="331.4" y="496.4"/><use href="#mT" x="332.7" y="495.1"/><use href="#mT" x="333.8" y="490.4"/><use href="#mT" x="335.2" y="509.6"/><use href="#mT" x="336.4" y="494.5"/><use href="#mT" x="337.5" y="510.0"/><use href="#mT" x="338.7" y="484.4"/><use href="#mT" x="339.9" y="496.5"/><use href="#mT" x="341.2" y="506.2"/><use href="#mT" x="342.2" y="505.8"/><use href="#mT" x="343.6" y="492.4"/><use href="#mT" x="344.6" y="487.0"/><use href="#mT" x="345.9" y="500.3"/><use href="#mT" x="347.1" y="512.9"/><use href="#mT" x="348.2" y="490.3"/><use href="#mT" x="349.5" y="508.0"/><use href="#mT" x="350.8" y="486.7"/><use href="#mT" x="351.8" y="509.1"/><use href="#mT" x="353.2" y="491.2"/><use href="#mT" x="354.5" y="509.9"/><use href="#mT" x="355.5" y="485.0"/><use href="#mT" x="356.8" y="511.0"/><use href="#mT" x="357.9" y="494.9"/><use href="#mT" x="359.3" y="500.3"/><use href="#mT" x="360.3" y="483.0"/><use href="#mT" x="361.7" y="511.4"/><use href="#mT" x="362.8" y="485.2"/><use href="#mT" x="364.0" y="516.7"/><use href="#mT" x="365.1" y="507.3"/><use href="#mT" x="366.4" y="485.9"/><use href="#mT" x="367.6" y="491.5"/><use href="#mT" x="368.8" y="511.9"/><use href="#mT" x="369.9" y="500.0"/><use href="#mT" x="371.3" y="487.2"/><use href="#mT" x="372.3" y="474.5"/><use href="#mT" x="373.6" y="501.8"/><use href="#mT" x="374.9" y="509.1"/><use href="#mT" x="375.9" y="510.6"/><use href="#mT" x="377.3" y="514.8"/><use href="#mT" x="378.4" y="504.5"/><use href="#mT" x="379.5" y="500.7"/><use href="#mT" x="380.7" y="510.4"/><use href="#mT" x="382.1" y="481.9"/><use href="#mT" x="383.3" y="507.4"/><use href="#mT" x="384.5" y="491.9"/><use href="#mT" x="385.5" y="488.3"/><use href="#mT" x="386.7" y="507.9"/><use href="#mT" x="388.1" y="511.9"/><use href="#mT" x="389.3" y="503.1"/><use href="#mT" x="390.4" y="509.0"/><use href="#mT" x="391.6" y="508.7"/><use href="#mT" x="392.8" y="511.2"/><use href="#mT" x="394.0" y="513.3"/><use href="#mT" x="395.3" y="491.2"/><use href="#mT" x="396.4" y="500.8"/><use href="#mT" x="397.6" y="465.3"/><use href="#mT" x="398.9" y="481.8"/><use href="#mT" x="400.2" y="482.5"/><use href="#mT" x="401.3" y="493.2"/><use href="#mT" x="402.6" y="495.5"/><use href="#mT" x="403.7" y="493.8"/><use href="#mT" x="405.0" y="489.0"/><use href="#mT" x="406.1" y="507.1"/><use href="#mT" x="407.3" y="490.5"/><use href="#mT" x="408.4" y="508.8"/><use href="#mT" x="409.6" y="496.1"/><use href="#mT" x="410.9" y="507.5"/><use href="#mT" x="412.1" y="500.3"/><use href="#mT" x="413.3" y="503.4"/><use href="#mT" x="414.5" y="492.0"/><use href="#mT" x="415.8" y="514.3"/><use href="#mT" x="416.8" y="483.0"/><use href="#mT" x="418.1" y="490.9"/><use href="#mT" x="419.3" y="493.9"/><use href="#mT" x="420.6" y="485.6"/><use href="#mT" x="421.8" y="485.8"/><use href="#mT" x="422.9" y="510.1"/><use href="#mT" x="424.2" y="512.9"/><use href="#mT" x="425.2" y="502.1"/><use href="#mT" x="426.4" y="499.9"/><use href="#mT" x="427.7" y="509.1"/><use href="#mT" x="429.0" y="511.5"/><use href="#mT" x="430.2" y="505.6"/><use href="#mT" x="431.4" y="508.0"/><use href="#mT" x="432.6" y="508.0"/><use href="#mT" x="433.7" y="488.8"/><use href="#mT" x="435.0" y="493.9"/><use href="#mT" x="436.1" y="495.7"/><use href="#mT" x="437.4" y="502.3"/><use href="#mT" x="438.5" y="487.0"/><use href="#mT" x="439.8" y="513.1"/><use href="#mT" x="440.9" y="498.7"/><use href="#mT" x="442.3" y="515.0"/><use href="#mT" x="443.4" y="494.2"/><use href="#mT" x="444.5" y="482.3"/><use href="#mT" x="445.8" y="493.2"/><use href="#mT" x="446.9" y="514.6"/><use href="#mT" x="448.3" y="500.0"/><use href="#mT" x="449.4" y="491.8"/><use href="#mT" x="450.7" y="509.1"/><use href="#mT" x="451.8" y="486.4"/><use href="#mT" x="452.9" y="487.5"/><use href="#mT" x="454.2" y="488.0"/><use href="#mT" x="455.3" y="499.7"/><use href="#mT" x="456.7" y="501.7"/><use href="#mT" x="457.9" y="501.0"/><use href="#mT" x="459.1" y="511.2"/><use href="#mT" x="460.1" y="487.1"/><use href="#mT" x="461.4" y="491.0"/><use href="#mT" x="462.5" y="491.9"/><use href="#mT" x="463.9" y="490.1"/><use href="#mT" x="465.0" y="511.1"/><use href="#mT" x="466.1" y="495.8"/><use href="#mT" x="467.4" y="499.1"/><use href="#mT" x="468.7" y="504.5"/><use href="#mT" x="469.9" y="491.3"/><use href="#mT" x="471.1" y="486.7"/><use href="#mT" x="472.3" y="506.5"/><use href="#mT" x="473.5" y="506.8"/><use href="#mT" x="474.6" y="485.8"/><use href="#mT" x="475.8" y="490.6"/><use href="#mT" x="477.1" y="515.2"/><use href="#mT" x="478.3" y="498.6"/><use href="#mT" x="479.4" y="500.2"/><use href="#mT" x="480.6" y="490.6"/><use href="#mT" x="481.9" y="490.8"/><use href="#mT" x="483.1" y="488.2"/><use href="#mT" x="484.3" y="501.8"/><use href="#mT" x="485.4" y="500.2"/><use href="#mT" x="486.8" y="495.2"/><use href="#mT" x="487.9" y="500.2"/><use href="#mT" x="489.1" y="500.9"/><use href="#mT" x="490.3" y="511.5"/><use href="#mT" x="491.6" y="503.6"/><use href="#mT" x="492.8" y="495.1"/><use href="#mT" x="493.8" y="496.7"/><use href="#mT" x="495.2" y="491.9"/><use href="#mT" x="496.3" y="513.1"/><use href="#mT" x="497.5" y="486.4"/><use href="#mT" x="498.8" y="507.5"/><use href="#mT" x="500.0" y="503.4"/><use href="#mT" x="501.1" y="495.6"/><use href="#mT" x="502.2" y="496.1"/><use href="#mT" x="503.5" y="510.9"/><use href="#mT" x="504.7" y="498.0"/><use href="#mT" x="505.8" y="499.6"/><use href="#mT" x="507.2" y="508.7"/><use href="#mT" x="508.3" y="497.6"/><use href="#mT" x="509.6" y="487.1"/><use href="#mT" x="510.7" y="488.7"/><use href="#mT" x="512.0" y="484.3"/><use href="#mT" x="513.2" y="486.0"/><use href="#mT" x="514.3" y="515.5"/><use href="#mT" x="515.5" y="516.2"/><use href="#mT" x="516.8" y="493.5"/><use href="#mT" x="518.0" y="513.1"/><use href="#mT" x="519.3" y="489.4"/><use href="#mT" x="520.4" y="493.6"/><use href="#mT" x="521.5" y="486.4"/><use href="#mT" x="522.8" y="499.4"/><use href="#mT" x="524.0" y="506.0"/><use href="#mT" x="525.1" y="505.0"/><use href="#mT" x="526.4" y="516.0"/><use href="#mT" x="527.7" y="499.1"/><use href="#mT" x="528.8" y="483.6"/><use href="#mT" x="530.1" y="495.6"/><use href="#mT" x="531.2" y="485.4"/><use href="#mT" x="532.5" y="486.1"/><use href="#mT" x="533.6" y="486.7"/><use href="#mT" x="534.8" y="495.3"/><use href="#mT" x="535.9" y="499.0"/><use href="#mT" x="537.2" y="511.4"/><use href="#mT" x="538.5" y="497.2"/><use href="#mT" x="539.7" y="516.0"/><use href="#mT" x="540.9" y="497.2"/><use href="#mT" x="542.1" y="513.6"/><use href="#mT" x="543.2" y="496.6"/><use href="#mT" x="544.5" y="489.9"/><use href="#mT" x="545.6" y="498.1"/><use href="#mT" x="546.9" y="503.7"/><use href="#mT" x="548.1" y="488.8"/><use href="#mT" x="549.3" y="499.0"/><use href="#mT" x="550.5" y="493.3"/><use href="#mT" x="551.7" y="504.8"/><use href="#mT" x="552.9" y="487.1"/><use href="#mT" x="554.1" y="498.0"/><use href="#mT" x="555.2" y="514.0"/><use href="#mT" x="556.4" y="505.3"/><use href="#mT" x="557.7" y="500.3"/><use href="#mT" x="558.8" y="505.4"/><use href="#mT" x="560.1" y="514.8"/><use href="#mT" x="561.4" y="484.0"/><use href="#mT" x="562.5" y="505.9"/><use href="#mT" x="563.8" y="512.8"/><use href="#mT" x="564.9" y="488.3"/><use href="#mT" x="566.2" y="491.9"/><use href="#mT" x="567.2" y="511.3"/><use href="#mT" x="568.4" y="514.6"/><use href="#mT" x="569.6" y="506.7"/><use href="#mT" x="570.8" y="490.5"/><use href="#mT" x="572.1" y="503.5"/><use href="#mT" x="573.2" y="489.8"/><use href="#mT" x="574.6" y="498.4"/><use href="#mT" x="575.7" y="494.6"/><use href="#mT" x="576.8" y="510.6"/><use href="#mT" x="578.0" y="509.0"/><use href="#mT" x="579.4" y="475.1"/><use href="#mT" x="580.4" y="500.5"/><use href="#mT" x="581.7" y="506.3"/><use href="#mT" x="583.0" y="508.7"/><use href="#mT" x="584.2" y="508.3"/><use href="#mT" x="585.4" y="486.1"/><use href="#mT" x="586.5" y="487.8"/><use href="#mT" x="587.7" y="517.1"/><use href="#mT" x="589.0" y="500.6"/><use href="#mT" x="590.1" y="508.2"/><use href="#mT" x="591.3" y="501.1"/><use href="#mT" x="592.5" y="497.7"/><use href="#mT" x="593.8" y="506.6"/><use href="#mT" x="594.9" y="513.7"/><use href="#mT" x="596.2" y="496.3"/><use href="#mT" x="597.3" y="489.2"/><use href="#mT" x="598.6" y="492.6"/><use href="#mT" x="599.8" y="505.6"/><use href="#mT" x="601.0" y="485.3"/><use href="#mT" x="602.1" y="512.0"/><use href="#mT" x="603.3" y="512.5"/><use href="#mT" x="604.6" y="492.5"/><use href="#mT" x="605.8" y="485.3"/><use href="#mT" x="607.0" y="504.2"/><use href="#mT" x="608.1" y="506.9"/><use href="#mT" x="609.3" y="496.1"/><use href="#mT" x="610.5" y="488.8"/><use href="#mT" x="611.8" y="508.8"/><use href="#mT" x="613.0" y="491.9"/><use href="#mT" x="614.1" y="512.2"/><use href="#mT" x="615.4" y="500.2"/><use href="#mT" x="616.7" y="489.7"/><use href="#mT" x="617.8" y="515.1"/><use href="#mT" x="619.0" y="519.8"/><use href="#mT" x="620.2" y="489.6"/><use href="#mT" x="621.5" y="501.0"/><use href="#mT" x="622.7" y="492.2"/><use href="#mT" x="623.9" y="486.1"/><use href="#mT" x="625.0" y="492.9"/><use href="#mT" x="626.2" y="504.7"/><use href="#mT" x="627.5" y="515.9"/><use href="#mT" x="628.6" y="515.1"/><use href="#mT" x="629.8" y="511.4"/><use href="#mT" x="631.0" y="486.4"/><use href="#mT" x="632.2" y="517.0"/><use href="#mT" x="633.5" y="505.8"/><use href="#mT" x="634.6" y="509.1"/><use href="#mT" x="636.0" y="492.0"/><use href="#mT" x="637.0" y="502.8"/><use href="#mT" x="638.3" y="508.4"/><use href="#mT" x="639.5" y="516.0"/><use href="#mT" x="640.7" y="500.4"/><use href="#mT" x="642.0" y="506.9"/><use href="#mT" x="643.1" y="492.9"/><use href="#mT" x="644.3" y="505.2"/><use href="#mT" x="645.6" y="508.9"/><use href="#mT" x="646.6" y="514.1"/><use href="#mT" x="647.9" y="496.4"/><use href="#mT" x="649.0" y="508.7"/><use href="#mT" x="650.3" y="493.0"/><use href="#mT" x="651.5" y="516.8"/><use href="#mT" x="652.8" y="493.8"/><use href="#mT" x="653.9" y="495.0"/><use href="#mT" x="655.1" y="488.0"/><use href="#mT" x="656.3" y="536.0"/><use href="#mT" x="657.5" y="486.7"/><use href="#mT" x="658.7" y="513.0"/><use href="#mT" x="659.8" y="515.8"/><use href="#mT" x="661.1" y="491.7"/><use href="#mT" x="662.4" y="508.6"/><use href="#mT" x="663.4" y="508.4"/><use href="#mT" x="664.8" y="506.7"/><use href="#mT" x="666.0" y="490.7"/><use href="#mT" x="667.0" y="516.3"/><use href="#mT" x="668.4" y="491.8"/><use href="#mT" x="669.6" y="513.4"/><use href="#mT" x="670.6" y="517.0"/><use href="#mT" x="671.8" y="504.2"/><use href="#mT" x="673.2" y="506.3"/><use href="#mT" x="674.4" y="513.0"/><use href="#mT" x="675.7" y="484.8"/><use href="#mT" x="676.7" y="511.4"/><use href="#mT" x="677.9" y="494.4"/><use href="#mT" x="679.2" y="489.4"/><use href="#mT" x="680.4" y="513.4"/><use href="#mT" x="681.5" y="510.0"/><use href="#mT" x="682.7" y="500.4"/><use href="#mT" x="684.0" y="487.5"/><use href="#mT" x="685.3" y="503.9"/><use href="#mT" x="686.4" y="509.1"/><use href="#mT" x="687.6" y="506.8"/><use href="#mT" x="688.9" y="483.3"/><use href="#mT" x="690.1" y="485.2"/><use href="#mT" x="691.3" y="505.0"/><use href="#mT" x="692.3" y="509.9"/><use href="#mT" x="693.6" y="509.7"/><use href="#mT" x="694.8" y="511.0"/><use href="#mT" x="696.0" y="517.1"/><use href="#mT" x="697.2" y="497.6"/><use href="#mT" x="698.5" y="515.7"/><use href="#mT" x="699.5" y="508.0"/><use href="#mT" x="700.9" y="515.4"/><use href="#mT" x="702.1" y="487.5"/><use href="#mT" x="703.1" y="507.0"/><use href="#mT" x="704.5" y="486.7"/><use href="#mT" x="705.6" y="511.0"/><use href="#mT" x="706.7" y="489.4"/><use href="#mT" x="708.0" y="511.1"/><use href="#mT" x="709.2" y="504.9"/><use href="#mT" x="710.3" y="506.6"/><use href="#mT" x="711.6" y="487.0"/><use href="#mT" x="712.9" y="490.0"/><use href="#mT" x="714.1" y="494.0"/><use href="#mT" x="715.2" y="490.0"/><use href="#mT" x="716.5" y="486.7"/><use href="#mT" x="717.7" y="512.5"/><use href="#mT" x="718.9" y="491.5"/><use href="#mT" x="720.1" y="493.5"/><use href="#mT" x="721.2" y="515.3"/><use href="#mT" x="722.4" y="499.7"/><use href="#mT" x="723.6" y="487.1"/><use href="#mT" x="724.8" y="509.5"/><use href="#mT" x="726.0" y="513.3"/><use href="#mT" x="727.4" y="516.7"/><use href="#mT" x="728.5" y="497.6"/><use href="#mT" x="729.7" y="494.7"/><use href="#mT" x="730.8" y="497.4"/><use href="#mT" x="732.0" y="497.1"/><use href="#mT" x="733.2" y="507.7"/><use href="#mT" x="734.6" y="499.9"/><use href="#mT" x="735.8" y="490.9"/><use href="#mT" x="736.8" y="499.0"/><use href="#mT" x="738.1" y="515.5"/><use href="#mT" x="739.4" y="512.7"/><use href="#mT" x="740.4" y="514.0"/><use href="#mT" x="741.7" y="505.6"/><use href="#mT" x="743.0" y="492.7"/><use href="#mT" x="744.1" y="510.1"/><use href="#mT" x="745.3" y="515.0"/><use href="#mT" x="746.5" y="497.5"/><use href="#mT" x="747.7" y="493.6"/><use href="#mT" x="748.9" y="511.7"/><use href="#mT" x="750.1" y="486.5"/><use href="#mT" x="751.2" y="512.2"/><use href="#mT" x="752.5" y="498.5"/><use href="#mT" x="753.7" y="500.4"/><use href="#mT" x="754.9" y="506.2"/><use href="#mT" x="756.2" y="505.0"/><use href="#mT" x="757.3" y="515.6"/><use href="#mT" x="758.5" y="490.2"/><use href="#mT" x="759.7" y="515.4"/><use href="#mT" x="761.0" y="487.0"/><use href="#mT" x="762.1" y="512.9"/><use href="#mT" x="763.4" y="490.7"/><use href="#mT" x="764.6" y="516.0"/><use href="#mT" x="765.9" y="499.7"/><use href="#mT" x="767.0" y="487.5"/><use href="#mT" x="768.2" y="507.7"/><use href="#mT" x="769.5" y="504.3"/><use href="#mT" x="770.7" y="501.7"/><use href="#mT" x="771.9" y="514.7"/><use href="#mT" x="772.9" y="508.2"/><use href="#mT" x="774.1" y="488.3"/><use href="#mT" x="775.5" y="490.7"/><use href="#mT" x="776.6" y="515.9"/><use href="#mT" x="777.9" y="508.4"/><use href="#mT" x="779.1" y="508.1"/><use href="#mT" x="780.1" y="495.4"/><use href="#mT" x="781.4" y="496.4"/><use href="#mT" x="782.7" y="513.8"/><use href="#mT" x="783.7" y="515.7"/><use href="#mT" x="785.1" y="496.0"/><use href="#mT" x="786.3" y="496.8"/><use href="#mT" x="787.5" y="491.1"/><use href="#mT" x="788.6" y="504.2"/><use href="#mT" x="789.8" y="489.3"/><use href="#mT" x="791.1" y="495.1"/><use href="#mT" x="792.4" y="515.9"/><use href="#mT" x="793.4" y="496.9"/><use href="#mT" x="794.7" y="486.8"/><use href="#mT" x="795.8" y="497.9"/><use href="#mT" x="797.0" y="504.7"/><use href="#mT" x="798.3" y="519.0"/><use href="#mT" x="799.4" y="518.2"/><use href="#mT" x="800.7" y="505.9"/><use href="#mT" x="801.8" y="517.8"/><use href="#mT" x="803.1" y="510.8"/><use href="#mT" x="804.4" y="503.4"/><use href="#mT" x="805.4" y="495.2"/><use href="#mT" x="806.8" y="501.2"/><use href="#mT" x="807.9" y="511.8"/><use href="#mT" x="809.1" y="514.8"/><use href="#mT" x="810.3" y="510.1"/><use href="#mT" x="811.5" y="487.4"/><use href="#mT" x="812.6" y="502.7"/><use href="#mT" x="813.8" y="491.3"/><use href="#mT" x="815.1" y="519.5"/>
</g>
<text x="81.5" y="599.6" text-anchor="end" class="tl">0</text>
<text x="81.5" y="538.4" text-anchor="end" class="tl">20</text>
<text x="81.5" y="477.1" text-anchor="end" class="tl">40</text>
<text x="81.5" y="415.9" text-anchor="end" class="tl">60</text>
<text x="81.5" y="354.7" text-anchor="end" class="tl">80</text>
<text x="81.5" y="293.4" text-anchor="end" class="tl">100</text>
<text x="81.5" y="232.2" text-anchor="end" class="tl">120</text>
<text x="81.5" y="171.0" text-anchor="end" class="tl">140</text>
<text x="81.5" y="109.7" text-anchor="end" class="tl">160</text>
<text x="81.5" y="48.5" text-anchor="end" class="tl">180</text>
<text x="93.3" y="624.2" text-anchor="middle" class="tl">0</text>
<text x="213.6" y="624.2" text-anchor="middle" class="tl">20</text>
<text x="333.9" y="624.2" text-anchor="middle" class="tl">40</text>
<text x="454.2" y="624.2" text-anchor="middle" class="tl">60</text>
<text x="574.5" y="624.2" text-anchor="middle" class="tl">80</text>
<text x="694.8" y="624.2" text-anchor="middle" class="tl">100</text>
<text x="815.1" y="624.2" text-anchor="middle" class="tl">120</text>
<text x="454" y="672" text-anchor="middle" class="at">Time, t (min)</text>
<text transform="translate(23,298) rotate(-90)" text-anchor="middle" class="at">Flux, J (LMH)</text>

<rect x="379.8" y="9.5" width="435" height="114.5" fill="#fff" stroke="#222" stroke-width="1.1"/>
<path d="M382.7 30.6H451.8" stroke="#5b93d6" stroke-width="2"/>
<use href="#mS" x="417.1" y="30.6"/>
<path d="M382.7 67.6H451.8" stroke="#6cb01e" stroke-width="2.5"/>
<use href="#mT" x="417.1" y="66.8"/>
<path d="M382.7 104.5H451.8" stroke="#f46a0e" stroke-width="2.5"/>
<use href="#mC" x="417.1" y="104.5"/>
<text x="459.5" y="40.5" class="lg">PS 0.2%</text>
<text x="459.5" y="77.4" class="lg">PAM 0.2%</text>
<text x="459.5" y="114.3" class="lg">PAM(0.2%):PS(0.2%)=1:4</text>

<defs>
<filter id="b1" x="-20%" y="-20%" width="140%" height="140%"><feGaussianBlur stdDeviation="1.2"/></filter>
<filter id="b2" x="-20%" y="-20%" width="140%" height="140%"><feGaussianBlur stdDeviation="2.5"/></filter>
<filter id="b4" x="-20%" y="-20%" width="140%" height="140%"><feGaussianBlur stdDeviation="4"/></filter>
<filter id="b6" x="-30%" y="-30%" width="160%" height="160%"><feGaussianBlur stdDeviation="6"/></filter>
<filter id="tex1" x="0" y="0" width="100%" height="100%">
  <feTurbulence type="fractalNoise" baseFrequency="0.06" numOctaves="2" seed="3" result="n"/>
  <feColorMatrix in="n" type="matrix" values="0 0 0 0 0  0 0 0 0 0  0 0 0 0 0  0 0 0 -2.2 1.45" result="a"/>
  <feComposite in="SourceGraphic" in2="a" operator="in"/>
</filter>
<filter id="lump" x="0" y="0" width="100%" height="100%" filterUnits="userSpaceOnUse">
  <feGaussianBlur in="SourceGraphic" stdDeviation="3.5" result="s"/>
  <feTurbulence type="fractalNoise" baseFrequency="0.045" numOctaves="2" seed="11" result="n"/>
  <feColorMatrix in="n" type="matrix" values="0 0 0 0 1  0 0 0 0 0  0 0 0 0 0  2.6 0 0 0 -0.45" result="r"/>
  <feComposite in="r" in2="s" operator="in"/>
</filter>
<filter id="mot" x="1280" y="6" width="360" height="600" filterUnits="userSpaceOnUse">
  <feGaussianBlur in="SourceGraphic" stdDeviation="5" result="s"/>
  <feTurbulence type="fractalNoise" baseFrequency="0.075 0.04" numOctaves="2" seed="7" result="n"/>
  <feColorMatrix in="n" type="matrix" values="0 0 0 0 1  0 0 0 0 0  0 0 0 0 0  3.4 0 0 0 -1.3" result="r"/>
  <feComposite in="r" in2="s" operator="in"/>
</filter>
<filter id="mot2" x="1280" y="6" width="360" height="600" filterUnits="userSpaceOnUse">
  <feGaussianBlur in="SourceGraphic" stdDeviation="3" result="s"/>
  <feTurbulence type="fractalNoise" baseFrequency="0.07 0.03" numOctaves="2" seed="21" result="n"/>
  <feColorMatrix in="n" type="matrix" values="0 0 0 0 1  0 0 0 0 0  0 0 0 0 0  2.6 0 0 0 -0.35" result="r"/>
  <feComposite in="r" in2="s" operator="in"/>
</filter>
<clipPath id="c1"><rect x="832" y="6" width="435" height="330"/></clipPath>
<clipPath id="c2"><rect x="832" y="347" width="440" height="249"/></clipPath>
<clipPath id="c3"><rect x="1280.5" y="6" width="357.5" height="594.5"/></clipPath>
</defs>
<g clip-path="url(#c1)">
<rect x="832" y="6" width="435" height="330" fill="#120000"/>
<path d="M832 46 L845 41 L870 44 L887 51 L915 52 L923 39 L948 29 L989 26 L1010 31 L1030 40 L1050 43 L1071 41 L1101 43 L1132 45 L1149 39 L1173 41 L1183 52 L1192 62 L1205 66 L1218 74 L1232 82 L1250 84 L1258 70 L1262 44 L1262 100 L832 100 Z" fill="#f60000" filter="url(#b1)"/>
<clipPath id="blobc"><path d="M850 140 L855 130 L875 120 L898 123 L910 133 L918 136 L941 143 L956 156 L958 173 L948 186 L938 196 L938 209 L931 236 L935 259 L931 286 L925 305 L915 322 L898 325 L888 315 L882 296 L868 269 L860 242 L852 209 L848 176 Z M950 236 L962 234 L972 250 L974 275 L966 296 L954 296 L946 275 L944 252 Z M983 156 L993 140 L1020 127 L1053 123 L1086 130 L1112 143 L1126 176 L1129 209 L1126 249 L1116 276 L1102 296 L1083 309 L1066 315 L1046 325 L1036 332 L1033 315 L1020 289 L996 269 L983 242 L980 196 Z M1166 160 L1176 143 L1193 138 L1213 143 L1226 160 L1231 183 L1226 199 L1213 209 L1203 229 L1196 256 L1186 276 L1176 279 L1170 259 L1166 236 L1163 206 L1163 183 Z"/><ellipse cx="1211" cy="291" rx="9" ry="11"/><ellipse cx="1155" cy="146" rx="12" ry="15"/><ellipse cx="1140" cy="181" rx="8" ry="13"/></clipPath>
<g filter="url(#b2)">
<path d="M834 98 L1262 98 L1262 128 L834 128 Z" fill="#4a0000"/>
<g clip-path="url(#blobc)">
<rect x="836" y="110" width="426" height="226" fill="#c80000"/>
<ellipse cx="905" cy="285" rx="14" ry="19" fill="#ff0808" opacity="0.94"/>
<ellipse cx="921" cy="143" rx="8" ry="10" fill="#ff0808" opacity="0.85"/>
<ellipse cx="903" cy="185" rx="16" ry="16" fill="#ff0808" opacity="1.00"/>
<ellipse cx="944" cy="151" rx="13" ry="17" fill="#ff0808" opacity="0.84"/>
<ellipse cx="907" cy="301" rx="12" ry="12" fill="#ff0808" opacity="0.99"/>
<ellipse cx="900" cy="324" rx="10" ry="11" fill="#ff0808" opacity="0.98"/>
<ellipse cx="889" cy="279" rx="13" ry="17" fill="#ff0808" opacity="0.99"/>
<ellipse cx="906" cy="194" rx="11" ry="10" fill="#ff0808" opacity="0.92"/>
<ellipse cx="909" cy="233" rx="9" ry="11" fill="#ff0808" opacity="0.86"/>
<ellipse cx="912" cy="176" rx="8" ry="8" fill="#ff0808" opacity="0.89"/>
<ellipse cx="878" cy="250" rx="12" ry="13" fill="#ff0808" opacity="1.00"/>
<ellipse cx="910" cy="261" rx="11" ry="14" fill="#ff0808" opacity="0.92"/>
<ellipse cx="891" cy="160" rx="8" ry="9" fill="#ff0808" opacity="0.84"/>
<ellipse cx="920" cy="203" rx="7" ry="10" fill="#ff0808" opacity="0.85"/>
<ellipse cx="907" cy="174" rx="8" ry="11" fill="#ff0808" opacity="0.90"/>
<ellipse cx="891" cy="220" rx="12" ry="13" fill="#ff0808" opacity="0.99"/>
<ellipse cx="931" cy="167" rx="9" ry="11" fill="#ff0808" opacity="0.81"/>
<ellipse cx="930" cy="236" rx="12" ry="12" fill="#ff0808" opacity="0.92"/>
<ellipse cx="915" cy="195" rx="16" ry="16" fill="#ff0808" opacity="0.87"/>
<ellipse cx="913" cy="226" rx="10" ry="14" fill="#ff0808" opacity="0.94"/>
<ellipse cx="932" cy="212" rx="11" ry="13" fill="#ff0808" opacity="0.89"/>
<ellipse cx="849" cy="174" rx="17" ry="17" fill="#ff0808" opacity="0.95"/>
<ellipse cx="871" cy="175" rx="12" ry="11" fill="#ff0808" opacity="0.89"/>
<ellipse cx="932" cy="166" rx="14" ry="16" fill="#ff0808" opacity="0.89"/>
<ellipse cx="869" cy="230" rx="9" ry="11" fill="#ff0808" opacity="0.96"/>
<ellipse cx="885" cy="275" rx="12" ry="17" fill="#ff0808" opacity="0.86"/>
<ellipse cx="883" cy="189" rx="11" ry="14" fill="#ff0808" opacity="0.86"/>
<ellipse cx="862" cy="171" rx="12" ry="13" fill="#ff0808" opacity="0.87"/>
<ellipse cx="935" cy="151" rx="10" ry="12" fill="#ff0808" opacity="0.88"/>
<ellipse cx="906" cy="276" rx="9" ry="9" fill="#ff0808" opacity="0.91"/>
<ellipse cx="883" cy="285" rx="16" ry="16" fill="#ff0808" opacity="0.92"/>
<ellipse cx="934" cy="208" rx="11" ry="13" fill="#ff0808" opacity="0.96"/>
<ellipse cx="880" cy="170" rx="9" ry="9" fill="#ff0808" opacity="0.82"/>
<ellipse cx="902" cy="208" rx="14" ry="15" fill="#ff0808" opacity="0.99"/>
<ellipse cx="856" cy="190" rx="13" ry="18" fill="#ff0808" opacity="0.95"/>
<ellipse cx="864" cy="141" rx="16" ry="17" fill="#ff0808" opacity="0.95"/>
<ellipse cx="935" cy="169" rx="10" ry="12" fill="#ff0808" opacity="0.89"/>
<ellipse cx="878" cy="136" rx="12" ry="11" fill="#ff0808" opacity="0.86"/>
<ellipse cx="902" cy="207" rx="9" ry="13" fill="#ff0808" opacity="0.99"/>
<ellipse cx="931" cy="164" rx="9" ry="12" fill="#ff0808" opacity="0.99"/>
<ellipse cx="1014" cy="255" rx="10" ry="11" fill="#ff0808" opacity="0.94"/>
<ellipse cx="1052" cy="215" rx="11" ry="16" fill="#ff0808" opacity="0.95"/>
<ellipse cx="1014" cy="207" rx="13" ry="14" fill="#ff0808" opacity="0.85"/>
<ellipse cx="1108" cy="226" rx="11" ry="15" fill="#ff0808" opacity="0.90"/>
<ellipse cx="985" cy="222" rx="8" ry="9" fill="#ff0808" opacity="0.82"/>
<ellipse cx="1046" cy="141" rx="10" ry="10" fill="#ff0808" opacity="0.86"/>
<ellipse cx="1036" cy="178" rx="13" ry="11" fill="#ff0808" opacity="0.91"/>
<ellipse cx="1060" cy="315" rx="12" ry="16" fill="#ff0808" opacity="0.98"/>
<ellipse cx="996" cy="201" rx="11" ry="14" fill="#ff0808" opacity="0.90"/>
<ellipse cx="1100" cy="147" rx="10" ry="13" fill="#ff0808" opacity="0.92"/>
<ellipse cx="1038" cy="146" rx="12" ry="14" fill="#ff0808" opacity="0.96"/>
<ellipse cx="996" cy="143" rx="11" ry="14" fill="#ff0808" opacity="0.86"/>
<ellipse cx="1029" cy="126" rx="7" ry="9" fill="#ff0808" opacity="0.98"/>
<ellipse cx="1060" cy="191" rx="12" ry="15" fill="#ff0808" opacity="0.82"/>
<ellipse cx="1076" cy="185" rx="16" ry="18" fill="#ff0808" opacity="0.93"/>
<ellipse cx="1094" cy="138" rx="9" ry="10" fill="#ff0808" opacity="0.99"/>
<ellipse cx="1065" cy="165" rx="10" ry="10" fill="#ff0808" opacity="0.96"/>
<ellipse cx="1037" cy="135" rx="11" ry="15" fill="#ff0808" opacity="0.85"/>
<ellipse cx="1016" cy="228" rx="9" ry="13" fill="#ff0808" opacity="0.97"/>
<ellipse cx="1104" cy="260" rx="12" ry="12" fill="#ff0808" opacity="0.82"/>
<ellipse cx="1011" cy="234" rx="9" ry="12" fill="#ff0808" opacity="0.92"/>
<ellipse cx="1010" cy="148" rx="7" ry="8" fill="#ff0808" opacity="0.94"/>
<ellipse cx="1104" cy="204" rx="8" ry="11" fill="#ff0808" opacity="0.80"/>
<ellipse cx="1028" cy="247" rx="14" ry="14" fill="#ff0808" opacity="0.96"/>
<ellipse cx="1067" cy="261" rx="13" ry="14" fill="#ff0808" opacity="0.98"/>
<ellipse cx="1000" cy="229" rx="15" ry="12" fill="#ff0808" opacity="0.80"/>
<ellipse cx="1037" cy="260" rx="10" ry="11" fill="#ff0808" opacity="0.94"/>
<ellipse cx="1029" cy="222" rx="16" ry="16" fill="#ff0808" opacity="0.95"/>
<ellipse cx="1047" cy="142" rx="8" ry="9" fill="#ff0808" opacity="0.85"/>
<ellipse cx="1088" cy="177" rx="11" ry="10" fill="#ff0808" opacity="0.96"/>
<ellipse cx="1020" cy="157" rx="10" ry="11" fill="#ff0808" opacity="0.82"/>
<ellipse cx="986" cy="197" rx="9" ry="10" fill="#ff0808" opacity="0.97"/>
<ellipse cx="1066" cy="250" rx="9" ry="7" fill="#ff0808" opacity="0.95"/>
<ellipse cx="1077" cy="209" rx="10" ry="12" fill="#ff0808" opacity="0.97"/>
<ellipse cx="1073" cy="182" rx="12" ry="12" fill="#ff0808" opacity="0.96"/>
<ellipse cx="1008" cy="193" rx="15" ry="17" fill="#ff0808" opacity="0.99"/>
<ellipse cx="1028" cy="172" rx="12" ry="14" fill="#ff0808" opacity="0.93"/>
<ellipse cx="1085" cy="168" rx="12" ry="16" fill="#ff0808" opacity="0.86"/>
<ellipse cx="1061" cy="255" rx="14" ry="16" fill="#ff0808" opacity="0.83"/>
<ellipse cx="1089" cy="186" rx="8" ry="8" fill="#ff0808" opacity="0.84"/>
<ellipse cx="1035" cy="226" rx="11" ry="12" fill="#ff0808" opacity="0.89"/>
<ellipse cx="1071" cy="291" rx="12" ry="14" fill="#ff0808" opacity="0.98"/>
<ellipse cx="1009" cy="233" rx="8" ry="9" fill="#ff0808" opacity="0.92"/>
<ellipse cx="1059" cy="195" rx="8" ry="11" fill="#ff0808" opacity="0.86"/>
<ellipse cx="1019" cy="218" rx="12" ry="17" fill="#ff0808" opacity="0.88"/>
<ellipse cx="1077" cy="135" rx="10" ry="12" fill="#ff0808" opacity="0.87"/>
<ellipse cx="1018" cy="199" rx="9" ry="10" fill="#ff0808" opacity="0.90"/>
<ellipse cx="1092" cy="295" rx="12" ry="12" fill="#ff0808" opacity="0.97"/>
<ellipse cx="1101" cy="280" rx="15" ry="19" fill="#ff0808" opacity="0.85"/>
<ellipse cx="1055" cy="242" rx="10" ry="12" fill="#ff0808" opacity="0.93"/>
<ellipse cx="1035" cy="270" rx="13" ry="13" fill="#ff0808" opacity="0.89"/>
<ellipse cx="1117" cy="189" rx="9" ry="9" fill="#ff0808" opacity="0.84"/>
<ellipse cx="1056" cy="314" rx="11" ry="11" fill="#ff0808" opacity="0.88"/>
<ellipse cx="1116" cy="182" rx="13" ry="15" fill="#ff0808" opacity="0.91"/>
<ellipse cx="1012" cy="155" rx="8" ry="8" fill="#ff0808" opacity="0.97"/>
<ellipse cx="1207" cy="181" rx="13" ry="15" fill="#ff0808" opacity="0.96"/>
<ellipse cx="1188" cy="266" rx="10" ry="15" fill="#ff0808" opacity="1.00"/>
<ellipse cx="1194" cy="239" rx="11" ry="16" fill="#ff0808" opacity="0.90"/>
<ellipse cx="1191" cy="166" rx="12" ry="14" fill="#ff0808" opacity="0.87"/>
<ellipse cx="1219" cy="165" rx="14" ry="15" fill="#ff0808" opacity="0.88"/>
<ellipse cx="1214" cy="155" rx="11" ry="10" fill="#ff0808" opacity="0.85"/>
<ellipse cx="1172" cy="213" rx="13" ry="17" fill="#ff0808" opacity="0.98"/>
<ellipse cx="1169" cy="206" rx="10" ry="13" fill="#ff0808" opacity="0.99"/>
<ellipse cx="1186" cy="166" rx="13" ry="12" fill="#ff0808" opacity="0.85"/>
<ellipse cx="1183" cy="165" rx="11" ry="11" fill="#ff0808" opacity="0.95"/>
<ellipse cx="1176" cy="212" rx="12" ry="14" fill="#ff0808" opacity="0.89"/>
<ellipse cx="1190" cy="195" rx="11" ry="12" fill="#ff0808" opacity="0.85"/>
<ellipse cx="1202" cy="187" rx="9" ry="12" fill="#ff0808" opacity="0.99"/>
<ellipse cx="1180" cy="165" rx="14" ry="13" fill="#ff0808" opacity="0.90"/>
<ellipse cx="1184" cy="274" rx="14" ry="20" fill="#ff0808" opacity="0.83"/>
<ellipse cx="1180" cy="270" rx="12" ry="12" fill="#ff0808" opacity="0.93"/>
<ellipse cx="972" cy="279" rx="10" ry="11" fill="#ff0808" opacity="0.85"/>
<ellipse cx="954" cy="278" rx="9" ry="14" fill="#ff0808" opacity="0.93"/>
<ellipse cx="972" cy="270" rx="11" ry="13" fill="#ff0808" opacity="0.92"/>
<ellipse cx="962" cy="257" rx="8" ry="11" fill="#ff0808" opacity="0.90"/>
<ellipse cx="971" cy="254" rx="7" ry="10" fill="#ff0808" opacity="0.95"/>
</g>
<ellipse cx="858" cy="134" rx="3.3" ry="4.7" fill="#e00000" opacity="0.77"/>
<ellipse cx="852" cy="133" rx="3.8" ry="5.3" fill="#e00000" opacity="0.70"/>
<ellipse cx="859" cy="124" rx="3.3" ry="4.7" fill="#e00000" opacity="0.82"/>
<ellipse cx="864" cy="128" rx="4.4" ry="6.2" fill="#e00000" opacity="0.53"/>
<ellipse cx="894" cy="124" rx="5.5" ry="7.7" fill="#e00000" opacity="0.94"/>
<ellipse cx="885" cy="120" rx="5.3" ry="7.4" fill="#e00000" opacity="0.80"/>
<ellipse cx="898" cy="126" rx="5.9" ry="8.2" fill="#e00000" opacity="0.77"/>
<ellipse cx="905" cy="125" rx="3.7" ry="5.2" fill="#e00000" opacity="0.65"/>
<ellipse cx="914" cy="132" rx="3.4" ry="4.8" fill="#e00000" opacity="0.52"/>
<ellipse cx="913" cy="136" rx="4.3" ry="6.1" fill="#e00000" opacity="0.67"/>
<ellipse cx="923" cy="140" rx="5.2" ry="7.3" fill="#e00000" opacity="0.62"/>
<ellipse cx="923" cy="138" rx="6.3" ry="8.8" fill="#e00000" opacity="0.61"/>
<ellipse cx="953" cy="151" rx="6.8" ry="9.5" fill="#e00000" opacity="0.58"/>
<ellipse cx="952" cy="155" rx="3.1" ry="4.3" fill="#e00000" opacity="0.86"/>
<ellipse cx="961" cy="170" rx="6.8" ry="9.5" fill="#e00000" opacity="0.74"/>
<ellipse cx="960" cy="172" rx="6.9" ry="9.7" fill="#e00000" opacity="0.67"/>
<ellipse cx="953" cy="175" rx="3.8" ry="5.3" fill="#e00000" opacity="0.92"/>
<ellipse cx="946" cy="182" rx="5.1" ry="7.2" fill="#e00000" opacity="0.58"/>
<ellipse cx="945" cy="189" rx="4.7" ry="6.6" fill="#e00000" opacity="0.91"/>
<ellipse cx="942" cy="194" rx="6.3" ry="8.8" fill="#e00000" opacity="0.90"/>
<ellipse cx="937" cy="206" rx="6.3" ry="8.8" fill="#e00000" opacity="0.79"/>
<ellipse cx="936" cy="198" rx="6.1" ry="8.5" fill="#e00000" opacity="0.75"/>
<ellipse cx="937" cy="221" rx="5.5" ry="7.7" fill="#e00000" opacity="0.65"/>
<ellipse cx="937" cy="222" rx="6.8" ry="9.5" fill="#e00000" opacity="0.54"/>
<ellipse cx="934" cy="247" rx="5.2" ry="7.3" fill="#e00000" opacity="0.71"/>
<ellipse cx="935" cy="242" rx="4.5" ry="6.3" fill="#e00000" opacity="0.85"/>
<ellipse cx="937" cy="260" rx="5.7" ry="8.0" fill="#e00000" opacity="0.58"/>
<ellipse cx="933" cy="268" rx="5.8" ry="8.1" fill="#e00000" opacity="0.72"/>
<ellipse cx="927" cy="300" rx="5.1" ry="7.1" fill="#e00000" opacity="0.63"/>
<ellipse cx="922" cy="306" rx="6.5" ry="9.0" fill="#e00000" opacity="0.72"/>
<ellipse cx="919" cy="319" rx="4.2" ry="5.8" fill="#e00000" opacity="0.64"/>
<ellipse cx="920" cy="315" rx="4.4" ry="6.1" fill="#e00000" opacity="0.67"/>
<ellipse cx="910" cy="323" rx="5.2" ry="7.3" fill="#e00000" opacity="0.61"/>
<ellipse cx="907" cy="321" rx="4.1" ry="5.7" fill="#e00000" opacity="0.88"/>
<ellipse cx="890" cy="320" rx="3.5" ry="4.9" fill="#e00000" opacity="0.75"/>
<ellipse cx="896" cy="319" rx="6.4" ry="9.0" fill="#e00000" opacity="0.61"/>
<ellipse cx="883" cy="293" rx="6.2" ry="8.7" fill="#e00000" opacity="0.62"/>
<ellipse cx="883" cy="311" rx="3.4" ry="4.7" fill="#e00000" opacity="0.83"/>
<ellipse cx="878" cy="284" rx="3.3" ry="4.6" fill="#e00000" opacity="0.91"/>
<ellipse cx="870" cy="282" rx="6.6" ry="9.3" fill="#e00000" opacity="0.58"/>
<ellipse cx="869" cy="266" rx="5.9" ry="8.3" fill="#e00000" opacity="0.71"/>
<ellipse cx="863" cy="252" rx="6.3" ry="8.8" fill="#e00000" opacity="0.77"/>
<ellipse cx="854" cy="220" rx="3.4" ry="4.7" fill="#e00000" opacity="0.89"/>
<ellipse cx="858" cy="234" rx="5.5" ry="7.7" fill="#e00000" opacity="0.74"/>
<ellipse cx="848" cy="180" rx="5.6" ry="7.8" fill="#e00000" opacity="0.84"/>
<ellipse cx="847" cy="182" rx="6.9" ry="9.7" fill="#e00000" opacity="0.94"/>
<ellipse cx="847" cy="174" rx="6.3" ry="8.9" fill="#e00000" opacity="0.52"/>
<ellipse cx="851" cy="164" rx="5.1" ry="7.2" fill="#e00000" opacity="0.59"/>
<ellipse cx="984" cy="148" rx="4.7" ry="6.6" fill="#e00000" opacity="0.87"/>
<ellipse cx="988" cy="145" rx="4.3" ry="6.0" fill="#e00000" opacity="0.80"/>
<ellipse cx="1002" cy="137" rx="5.3" ry="7.4" fill="#e00000" opacity="0.94"/>
<ellipse cx="1008" cy="132" rx="5.4" ry="7.6" fill="#e00000" opacity="0.91"/>
<ellipse cx="1054" cy="123" rx="3.3" ry="4.6" fill="#e00000" opacity="0.88"/>
<ellipse cx="1032" cy="122" rx="3.1" ry="4.4" fill="#e00000" opacity="0.68"/>
<ellipse cx="1087" cy="131" rx="5.7" ry="7.9" fill="#e00000" opacity="0.62"/>
<ellipse cx="1059" cy="121" rx="5.4" ry="7.5" fill="#e00000" opacity="0.73"/>
<ellipse cx="1097" cy="134" rx="4.9" ry="6.9" fill="#e00000" opacity="0.57"/>
<ellipse cx="1101" cy="139" rx="6.0" ry="8.4" fill="#e00000" opacity="0.77"/>
<ellipse cx="1117" cy="159" rx="6.9" ry="9.7" fill="#e00000" opacity="0.62"/>
<ellipse cx="1116" cy="153" rx="6.2" ry="8.6" fill="#e00000" opacity="0.63"/>
<ellipse cx="1125" cy="210" rx="5.3" ry="7.4" fill="#e00000" opacity="0.91"/>
<ellipse cx="1128" cy="185" rx="5.7" ry="7.9" fill="#e00000" opacity="0.55"/>
<ellipse cx="1130" cy="243" rx="6.3" ry="8.8" fill="#e00000" opacity="0.54"/>
<ellipse cx="1131" cy="214" rx="6.8" ry="9.6" fill="#e00000" opacity="0.78"/>
<ellipse cx="1119" cy="263" rx="7.0" ry="9.8" fill="#e00000" opacity="0.79"/>
<ellipse cx="1115" cy="275" rx="5.9" ry="8.3" fill="#e00000" opacity="0.53"/>
<ellipse cx="1102" cy="290" rx="3.2" ry="4.5" fill="#e00000" opacity="0.80"/>
<ellipse cx="1118" cy="275" rx="6.2" ry="8.7" fill="#e00000" opacity="0.84"/>
<ellipse cx="1092" cy="306" rx="5.5" ry="7.8" fill="#e00000" opacity="0.56"/>
<ellipse cx="1086" cy="307" rx="5.0" ry="7.1" fill="#e00000" opacity="0.91"/>
<ellipse cx="1079" cy="308" rx="4.3" ry="6.0" fill="#e00000" opacity="0.80"/>
<ellipse cx="1075" cy="310" rx="6.2" ry="8.7" fill="#e00000" opacity="0.86"/>
<ellipse cx="1060" cy="317" rx="6.9" ry="9.7" fill="#e00000" opacity="0.78"/>
<ellipse cx="1057" cy="322" rx="5.1" ry="7.1" fill="#e00000" opacity="0.74"/>
<ellipse cx="1044" cy="332" rx="6.4" ry="8.9" fill="#e00000" opacity="0.62"/>
<ellipse cx="1043" cy="331" rx="6.8" ry="9.5" fill="#e00000" opacity="0.91"/>
<ellipse cx="1036" cy="329" rx="3.8" ry="5.3" fill="#e00000" opacity="0.73"/>
<ellipse cx="1035" cy="312" rx="4.0" ry="5.6" fill="#e00000" opacity="0.67"/>
<ellipse cx="1021" cy="289" rx="5.2" ry="7.3" fill="#e00000" opacity="0.61"/>
<ellipse cx="1033" cy="318" rx="6.1" ry="8.5" fill="#e00000" opacity="0.83"/>
<ellipse cx="1017" cy="287" rx="6.0" ry="8.5" fill="#e00000" opacity="0.70"/>
<ellipse cx="1022" cy="286" rx="6.0" ry="8.3" fill="#e00000" opacity="0.71"/>
<ellipse cx="985" cy="245" rx="4.7" ry="6.6" fill="#e00000" opacity="0.72"/>
<ellipse cx="985" cy="249" rx="4.5" ry="6.3" fill="#e00000" opacity="0.83"/>
<ellipse cx="986" cy="238" rx="3.1" ry="4.3" fill="#e00000" opacity="0.89"/>
<ellipse cx="982" cy="203" rx="5.9" ry="8.3" fill="#e00000" opacity="0.85"/>
<ellipse cx="986" cy="175" rx="5.5" ry="7.7" fill="#e00000" opacity="0.92"/>
<ellipse cx="979" cy="190" rx="5.1" ry="7.1" fill="#e00000" opacity="0.93"/>
<ellipse cx="1173" cy="150" rx="6.8" ry="9.5" fill="#e00000" opacity="0.68"/>
<ellipse cx="1174" cy="147" rx="4.4" ry="6.1" fill="#e00000" opacity="0.57"/>
<ellipse cx="1175" cy="141" rx="3.3" ry="4.7" fill="#e00000" opacity="0.72"/>
<ellipse cx="1185" cy="143" rx="5.7" ry="7.9" fill="#e00000" opacity="0.88"/>
<ellipse cx="1195" cy="140" rx="3.9" ry="5.5" fill="#e00000" opacity="0.94"/>
<ellipse cx="1205" cy="138" rx="3.4" ry="4.7" fill="#e00000" opacity="0.78"/>
<ellipse cx="1220" cy="158" rx="6.9" ry="9.6" fill="#e00000" opacity="0.81"/>
<ellipse cx="1230" cy="157" rx="5.9" ry="8.3" fill="#e00000" opacity="0.84"/>
<ellipse cx="1228" cy="177" rx="5.4" ry="7.5" fill="#e00000" opacity="0.88"/>
<ellipse cx="1225" cy="160" rx="6.2" ry="8.6" fill="#e00000" opacity="0.55"/>
<ellipse cx="1228" cy="181" rx="4.7" ry="6.6" fill="#e00000" opacity="0.89"/>
<ellipse cx="1226" cy="190" rx="4.3" ry="6.1" fill="#e00000" opacity="0.76"/>
<ellipse cx="1216" cy="208" rx="5.5" ry="7.7" fill="#e00000" opacity="0.88"/>
<ellipse cx="1219" cy="209" rx="4.1" ry="5.8" fill="#e00000" opacity="0.73"/>
<ellipse cx="1208" cy="226" rx="6.4" ry="8.9" fill="#e00000" opacity="0.87"/>
<ellipse cx="1209" cy="216" rx="4.9" ry="6.9" fill="#e00000" opacity="0.83"/>
<ellipse cx="1199" cy="253" rx="3.9" ry="5.5" fill="#e00000" opacity="0.90"/>
<ellipse cx="1196" cy="243" rx="6.5" ry="9.1" fill="#e00000" opacity="0.76"/>
<ellipse cx="1199" cy="259" rx="6.0" ry="8.4" fill="#e00000" opacity="0.86"/>
<ellipse cx="1194" cy="258" rx="5.4" ry="7.6" fill="#e00000" opacity="0.70"/>
<ellipse cx="1175" cy="276" rx="4.5" ry="6.4" fill="#e00000" opacity="0.50"/>
<ellipse cx="1186" cy="280" rx="3.7" ry="5.2" fill="#e00000" opacity="0.87"/>
<ellipse cx="1173" cy="276" rx="4.2" ry="5.8" fill="#e00000" opacity="0.59"/>
<ellipse cx="1173" cy="275" rx="6.6" ry="9.3" fill="#e00000" opacity="0.52"/>
<ellipse cx="1166" cy="248" rx="3.0" ry="4.2" fill="#e00000" opacity="0.67"/>
<ellipse cx="1163" cy="241" rx="4.3" ry="6.0" fill="#e00000" opacity="0.72"/>
<ellipse cx="1161" cy="220" rx="4.1" ry="5.7" fill="#e00000" opacity="0.85"/>
<ellipse cx="1162" cy="230" rx="3.3" ry="4.7" fill="#e00000" opacity="0.61"/>
<ellipse cx="1160" cy="206" rx="5.1" ry="7.2" fill="#e00000" opacity="0.72"/>
<ellipse cx="1165" cy="191" rx="3.2" ry="4.5" fill="#e00000" opacity="0.80"/>
<ellipse cx="1163" cy="184" rx="6.4" ry="9.0" fill="#e00000" opacity="0.50"/>
<ellipse cx="1163" cy="174" rx="3.1" ry="4.4" fill="#e00000" opacity="0.84"/>
<ellipse cx="900" cy="318" rx="6" ry="12" fill="#e00000" opacity="0.90"/>
<ellipse cx="922" cy="312" rx="5" ry="10" fill="#e00000" opacity="0.80"/>
<ellipse cx="1040" cy="322" rx="5" ry="12" fill="#e00000" opacity="0.90"/>
<ellipse cx="1060" cy="312" rx="6" ry="10" fill="#e00000" opacity="0.80"/>
<ellipse cx="1090" cy="300" rx="7" ry="10" fill="#e00000" opacity="0.80"/>
<ellipse cx="1180" cy="285" rx="5" ry="9" fill="#e00000" opacity="0.70"/>
<ellipse cx="945" cy="300" rx="5" ry="12" fill="#e00000" opacity="0.70"/>
<ellipse cx="1000" cy="280" rx="5" ry="10" fill="#e00000" opacity="0.70"/>
<ellipse cx="1120" cy="280" rx="5" ry="12" fill="#e00000" opacity="0.60"/>
<ellipse cx="930" cy="125" rx="10" ry="6" fill="#e00000" opacity="0.80"/>
<ellipse cx="960" cy="122" rx="8" ry="5" fill="#e00000" opacity="0.70"/>
<ellipse cx="1132" cy="128" rx="7" ry="6" fill="#e00000" opacity="0.70"/>
<ellipse cx="1105" cy="125" rx="8" ry="5" fill="#e00000" opacity="0.60"/>
<rect x="844" y="165" width="3" height="100" fill="#a00000"/>
<ellipse cx="912" cy="118" rx="8" ry="7" fill="#e00000" opacity="0.90"/>
<ellipse cx="958" cy="112" rx="10" ry="6" fill="#e00000" opacity="0.80"/>
<ellipse cx="988" cy="121" rx="8" ry="6" fill="#e00000" opacity="0.80"/>
<ellipse cx="1125" cy="122" rx="12" ry="8" fill="#e00000" opacity="0.80"/>
<ellipse cx="1160" cy="137" rx="10" ry="8" fill="#e00000" opacity="0.90"/>
<ellipse cx="1055" cy="128" rx="16" ry="6" fill="#e00000" opacity="0.70"/>
<ellipse cx="872" cy="126" rx="14" ry="6" fill="#e00000" opacity="0.80"/>
<ellipse cx="1020" cy="126" rx="10" ry="5" fill="#e00000" opacity="0.70"/>
<ellipse cx="1200" cy="128" rx="10" ry="5" fill="#e00000" opacity="0.60"/>
</g>
<rect x="1262" y="6" width="4" height="330" fill="#d00000" filter="url(#b1)"/>
<circle cx="860.7" cy="60.8" r="20.6" fill="none" stroke="#d00000" stroke-width="2" filter="url(#b1)"/>
<circle cx="935.3" cy="60.8" r="20.6" fill="none" stroke="#d00000" stroke-width="2" filter="url(#b1)"/>
<circle cx="1012.0" cy="60.8" r="20.6" fill="none" stroke="#d00000" stroke-width="2" filter="url(#b1)"/>
<circle cx="1086.7" cy="60.8" r="20.6" fill="none" stroke="#d00000" stroke-width="2" filter="url(#b1)"/>
<circle cx="1162.8" cy="60.8" r="20.6" fill="none" stroke="#d00000" stroke-width="2" filter="url(#b1)"/>
<circle cx="1240.0" cy="60.8" r="20.6" fill="none" stroke="#d00000" stroke-width="2" filter="url(#b1)"/>
<circle cx="898.4" cy="82.6" r="20.6" fill="none" stroke="#d00000" stroke-width="2" filter="url(#b1)"/>
<circle cx="973.4" cy="82.6" r="20.6" fill="none" stroke="#d00000" stroke-width="2" filter="url(#b1)"/>
<circle cx="1049.5" cy="82.6" r="20.6" fill="none" stroke="#d00000" stroke-width="2" filter="url(#b1)"/>
<circle cx="1123.8" cy="82.6" r="20.6" fill="none" stroke="#d00000" stroke-width="2" filter="url(#b1)"/>
<circle cx="1201.0" cy="82.6" r="20.6" fill="none" stroke="#d00000" stroke-width="2" filter="url(#b1)"/>
<circle cx="860.7" cy="103.8" r="20.6" fill="none" stroke="#d00000" stroke-width="2" filter="url(#b1)"/>
<circle cx="935.3" cy="103.8" r="20.6" fill="none" stroke="#d00000" stroke-width="2" filter="url(#b1)"/>
<circle cx="1012.0" cy="103.8" r="20.6" fill="none" stroke="#d00000" stroke-width="2" filter="url(#b1)"/>
<circle cx="1086.7" cy="103.8" r="20.6" fill="none" stroke="#d00000" stroke-width="2" filter="url(#b1)"/>
<circle cx="1162.8" cy="103.8" r="20.6" fill="none" stroke="#d00000" stroke-width="2" filter="url(#b1)"/>
<circle cx="1240.0" cy="103.8" r="20.6" fill="none" stroke="#d00000" stroke-width="2" filter="url(#b1)"/>
<circle cx="860.7" cy="60.8" r="21" fill="#300000" opacity="0.6" filter="url(#b1)"/>
<circle cx="935.3" cy="60.8" r="21" fill="#300000" opacity="0.6" filter="url(#b1)"/>
<circle cx="1012.0" cy="60.8" r="21" fill="#300000" opacity="0.6" filter="url(#b1)"/>
<circle cx="1086.7" cy="60.8" r="21" fill="#300000" opacity="0.6" filter="url(#b1)"/>
<circle cx="1162.8" cy="60.8" r="21" fill="#300000" opacity="0.6" filter="url(#b1)"/>
<circle cx="1240.0" cy="60.8" r="21" fill="#300000" opacity="0.6" filter="url(#b1)"/>
<circle cx="898.4" cy="82.6" r="21" fill="#300000" opacity="0.6" filter="url(#b1)"/>
<circle cx="973.4" cy="82.6" r="21" fill="#300000" opacity="0.6" filter="url(#b1)"/>
<circle cx="1049.5" cy="82.6" r="21" fill="#300000" opacity="0.6" filter="url(#b1)"/>
<circle cx="1123.8" cy="82.6" r="21" fill="#300000" opacity="0.6" filter="url(#b1)"/>
<circle cx="1201.0" cy="82.6" r="21" fill="#300000" opacity="0.6" filter="url(#b1)"/>
<circle cx="860.7" cy="103.8" r="21" fill="#300000" opacity="0.6" filter="url(#b1)"/>
<circle cx="935.3" cy="103.8" r="21" fill="#300000" opacity="0.6" filter="url(#b1)"/>
<circle cx="1012.0" cy="103.8" r="21" fill="#300000" opacity="0.6" filter="url(#b1)"/>
<circle cx="1086.7" cy="103.8" r="21" fill="#300000" opacity="0.6" filter="url(#b1)"/>
<circle cx="1162.8" cy="103.8" r="21" fill="#300000" opacity="0.6" filter="url(#b1)"/>
<circle cx="1240.0" cy="103.8" r="21" fill="#300000" opacity="0.6" filter="url(#b1)"/>
<circle cx="860.7" cy="60.8" r="19.6" fill="#000"/>
<circle cx="935.3" cy="60.8" r="19.6" fill="#000"/>
<circle cx="1012.0" cy="60.8" r="19.6" fill="#000"/>
<circle cx="1086.7" cy="60.8" r="19.6" fill="#000"/>
<circle cx="1162.8" cy="60.8" r="19.6" fill="#000"/>
<circle cx="1240.0" cy="60.8" r="19.6" fill="#000"/>
<circle cx="898.4" cy="82.6" r="19.6" fill="#000"/>
<circle cx="973.4" cy="82.6" r="19.6" fill="#000"/>
<circle cx="1049.5" cy="82.6" r="19.6" fill="#000"/>
<circle cx="1123.8" cy="82.6" r="19.6" fill="#000"/>
<circle cx="1201.0" cy="82.6" r="19.6" fill="#000"/>
<circle cx="860.7" cy="103.8" r="19.6" fill="#000"/>
<circle cx="935.3" cy="103.8" r="19.6" fill="#000"/>
<circle cx="1012.0" cy="103.8" r="19.6" fill="#000"/>
<circle cx="1086.7" cy="103.8" r="19.6" fill="#000"/>
<circle cx="1162.8" cy="103.8" r="19.6" fill="#000"/>
<circle cx="1240.0" cy="103.8" r="19.6" fill="#000"/>
<path d="M1213.5 28.3 H1233 V44.1 H1243 L1223.3 63.6 L1203 44.1 H1213.5 Z" fill="#fff"/>
<text x="841.5" y="47.5" fill="#fff" font-size="39" font-family="Liberation Sans, Arial, sans-serif">(b)</text>
<text x="888.5" y="46" fill="#fff" font-size="32.5" font-family="Liberation Sans, Arial, sans-serif">(i)</text>
<text x="843.5" y="316.5" fill="#fff" font-size="24.5" textLength="89" lengthAdjust="spacingAndGlyphs" font-family="Liberation Sans, Arial, sans-serif">PS 0.2%</text>
<text x="1141.5" y="316.5" fill="#fff" font-size="24.5" textLength="106" lengthAdjust="spacingAndGlyphs" font-family="Liberation Sans, Arial, sans-serif">689 mbar</text>
<rect x="1034.5" y="305.8" width="39" height="5.2" fill="#fff"/>
</g>
<g clip-path="url(#c2)">
<rect x="832" y="347" width="440" height="249" fill="#161616"/>
<rect x="832" y="347" width="10" height="249" fill="#101010"/>
<rect x="842.3" y="347" width="1.6" height="249" fill="#9a9a9a"/>
<rect x="1268" y="347" width="4" height="249" fill="#6a6a6a"/>
<circle cx="903.3" cy="417.4" r="5.3" fill="none" stroke="#f2f2f2" stroke-width="1.8" opacity="1.00" filter="url(#b1)"/>
<circle cx="929.7" cy="409.5" r="6.0" fill="none" stroke="#f2f2f2" stroke-width="1.8" opacity="1.00" filter="url(#b1)"/>
<circle cx="935.9" cy="438.5" r="4.5" fill="none" stroke="#f2f2f2" stroke-width="1.8" opacity="0.95" filter="url(#b1)"/>
<circle cx="959.6" cy="439.4" r="4.5" fill="none" stroke="#f2f2f2" stroke-width="1.8" opacity="0.90" filter="url(#b1)"/>
<circle cx="1030.0" cy="423.6" r="5.5" fill="none" stroke="#f2f2f2" stroke-width="1.8" opacity="1.00" filter="url(#b1)"/>
<circle cx="882.2" cy="428.9" r="3.5" fill="none" stroke="#f2f2f2" stroke-width="1.8" opacity="0.70" filter="url(#b1)"/>
<circle cx="891.9" cy="440.3" r="4.0" fill="none" stroke="#f2f2f2" stroke-width="1.8" opacity="0.70" filter="url(#b1)"/>
<circle cx="897.0" cy="428.0" r="3.0" fill="none" stroke="#f2f2f2" stroke-width="1.8" opacity="0.60" filter="url(#b1)"/>
<circle cx="930.0" cy="384.0" r="3.5" fill="none" stroke="#f2f2f2" stroke-width="1.8" opacity="0.50" filter="url(#b1)"/>
<circle cx="897.0" cy="367.0" r="3.5" fill="none" stroke="#f2f2f2" stroke-width="1.8" opacity="0.45" filter="url(#b1)"/>
<circle cx="987.0" cy="402.0" r="3.0" fill="none" stroke="#f2f2f2" stroke-width="1.8" opacity="0.60" filter="url(#b1)"/>
<circle cx="976.4" cy="440.3" r="4.5" fill="none" stroke="#f2f2f2" stroke-width="1.8" opacity="0.80" filter="url(#b1)"/>
<circle cx="1001.0" cy="443.0" r="4.0" fill="none" stroke="#f2f2f2" stroke-width="1.8" opacity="0.55" filter="url(#b1)"/>
<circle cx="1031.8" cy="394.5" r="3.5" fill="none" stroke="#f2f2f2" stroke-width="1.8" opacity="0.50" filter="url(#b1)"/>
<circle cx="997.5" cy="390.0" r="3.5" fill="none" stroke="#f2f2f2" stroke-width="1.8" opacity="0.50" filter="url(#b1)"/>
<circle cx="962.3" cy="403.3" r="3.5" fill="none" stroke="#f2f2f2" stroke-width="1.8" opacity="0.50" filter="url(#b1)"/>
<circle cx="1067.6" cy="415.6" r="4.5" fill="none" stroke="#f2f2f2" stroke-width="1.8" opacity="0.90" filter="url(#b1)"/>
<circle cx="1071.0" cy="428.0" r="4.5" fill="none" stroke="#f2f2f2" stroke-width="1.8" opacity="0.90" filter="url(#b1)"/>
<circle cx="1069.3" cy="436.7" r="4.0" fill="none" stroke="#f2f2f2" stroke-width="1.8" opacity="0.85" filter="url(#b1)"/>
<circle cx="1138.0" cy="442.9" r="4.0" fill="none" stroke="#f2f2f2" stroke-width="1.8" opacity="0.75" filter="url(#b1)"/>
<circle cx="1130.0" cy="450.0" r="4.0" fill="none" stroke="#f2f2f2" stroke-width="1.8" opacity="0.75" filter="url(#b1)"/>
<circle cx="1108.0" cy="428.8" r="3.0" fill="none" stroke="#f2f2f2" stroke-width="1.8" opacity="0.60" filter="url(#b1)"/>
<circle cx="1090.5" cy="431.4" r="2.5" fill="none" stroke="#f2f2f2" stroke-width="1.8" opacity="0.55" filter="url(#b1)"/>
<circle cx="1170.5" cy="433.2" r="3.0" fill="none" stroke="#f2f2f2" stroke-width="1.8" opacity="0.65" filter="url(#b1)"/>
<circle cx="1158.0" cy="427.0" r="2.5" fill="none" stroke="#f2f2f2" stroke-width="1.8" opacity="0.55" filter="url(#b1)"/>
<circle cx="1210.0" cy="435.0" r="3.5" fill="none" stroke="#f2f2f2" stroke-width="1.8" opacity="0.65" filter="url(#b1)"/>
<circle cx="1218.0" cy="449.0" r="3.0" fill="none" stroke="#f2f2f2" stroke-width="1.8" opacity="0.55" filter="url(#b1)"/>
<circle cx="1055.0" cy="456.0" r="3.0" fill="none" stroke="#f2f2f2" stroke-width="1.8" opacity="0.65" filter="url(#b1)"/>
<circle cx="868.0" cy="432.0" r="3.0" fill="none" stroke="#f2f2f2" stroke-width="1.8" opacity="0.60" filter="url(#b1)"/>
<circle cx="910.0" cy="455.0" r="3.0" fill="none" stroke="#f2f2f2" stroke-width="1.8" opacity="0.65" filter="url(#b1)"/>
<circle cx="948.0" cy="452.0" r="3.0" fill="none" stroke="#f2f2f2" stroke-width="1.8" opacity="0.55" filter="url(#b1)"/>
<circle cx="985.0" cy="457.0" r="3.0" fill="none" stroke="#f2f2f2" stroke-width="1.8" opacity="0.55" filter="url(#b1)"/>
<circle cx="1003.0" cy="457.0" r="3.5" fill="none" stroke="#f2f2f2" stroke-width="1.8" opacity="0.65" filter="url(#b1)"/>
<circle cx="940.0" cy="420.0" r="3.0" fill="none" stroke="#f2f2f2" stroke-width="1.8" opacity="0.55" filter="url(#b1)"/>
<circle cx="918.0" cy="400.0" r="3.0" fill="none" stroke="#f2f2f2" stroke-width="1.8" opacity="0.50" filter="url(#b1)"/>
<circle cx="1014.0" cy="450.0" r="3.0" fill="none" stroke="#f2f2f2" stroke-width="1.8" opacity="0.55" filter="url(#b1)"/>
<circle cx="878.0" cy="455.0" r="3.0" fill="none" stroke="#f2f2f2" stroke-width="1.8" opacity="0.55" filter="url(#b1)"/>
<circle cx="884.0" cy="411.0" r="3.0" fill="none" stroke="#f2f2f2" stroke-width="1.8" opacity="0.50" filter="url(#b1)"/>
<circle cx="872.0" cy="407.0" r="2.5" fill="none" stroke="#f2f2f2" stroke-width="1.8" opacity="0.50" filter="url(#b1)"/>
<circle cx="915.0" cy="425.0" r="3.0" fill="none" stroke="#f2f2f2" stroke-width="1.8" opacity="0.55" filter="url(#b1)"/>
<circle cx="956.0" cy="421.0" r="3.0" fill="none" stroke="#f2f2f2" stroke-width="1.8" opacity="0.50" filter="url(#b1)"/>
<circle cx="993.0" cy="430.0" r="3.0" fill="none" stroke="#f2f2f2" stroke-width="1.8" opacity="0.50" filter="url(#b1)"/>
<circle cx="912.0" cy="378.0" r="3.0" fill="none" stroke="#f2f2f2" stroke-width="1.8" opacity="0.45" filter="url(#b1)"/>
<circle cx="880.0" cy="385.0" r="2.5" fill="none" stroke="#f2f2f2" stroke-width="1.8" opacity="0.45" filter="url(#b1)"/>
<circle cx="1018.0" cy="408.0" r="3.0" fill="none" stroke="#f2f2f2" stroke-width="1.8" opacity="0.50" filter="url(#b1)"/>
<circle cx="929.7" cy="409.5" r="5.5" fill="#f4f4f4" filter="url(#b1)"/>
<circle cx="1173" cy="442.9" r="4.2" fill="#eeeeee" filter="url(#b1)"/>
<circle cx="1022" cy="551" r="2" fill="#dddddd"/>
<circle cx="1136" cy="464" r="3" fill="#dddddd"/>
<circle cx="1224" cy="462" r="2.5" fill="#dddddd"/>
<circle cx="1075.5" cy="349.6" r="1.5" fill="#dddddd"/>
<circle cx="952.0" cy="440.6" r="1.4" fill="#d0d0d0" opacity="0.77"/>
<circle cx="971.6" cy="459.8" r="0.7" fill="#d0d0d0" opacity="0.53"/>
<circle cx="1005.5" cy="430.8" r="1.5" fill="#d0d0d0" opacity="0.36"/>
<circle cx="926.3" cy="388.1" r="1.2" fill="#d0d0d0" opacity="0.59"/>
<circle cx="850.2" cy="385.0" r="1.0" fill="#d0d0d0" opacity="0.76"/>
<circle cx="975.9" cy="378.9" r="1.4" fill="#d0d0d0" opacity="0.37"/>
<circle cx="951.1" cy="375.4" r="0.7" fill="#d0d0d0" opacity="0.74"/>
<circle cx="883.0" cy="384.8" r="1.6" fill="#d0d0d0" opacity="0.74"/>
<circle cx="896.3" cy="463.9" r="1.2" fill="#d0d0d0" opacity="0.64"/>
<circle cx="882.2" cy="461.7" r="1.3" fill="#d0d0d0" opacity="0.78"/>
<circle cx="997.3" cy="393.7" r="1.0" fill="#d0d0d0" opacity="0.38"/>
<circle cx="872.3" cy="368.9" r="1.0" fill="#d0d0d0" opacity="0.60"/>
<circle cx="848.6" cy="433.9" r="1.0" fill="#d0d0d0" opacity="0.45"/>
<circle cx="984.7" cy="413.0" r="1.0" fill="#d0d0d0" opacity="0.54"/>
<circle cx="965.7" cy="368.0" r="1.6" fill="#d0d0d0" opacity="0.31"/>
<circle cx="973.2" cy="451.6" r="0.7" fill="#d0d0d0" opacity="0.69"/>
<circle cx="909.2" cy="423.3" r="0.7" fill="#d0d0d0" opacity="0.32"/>
<circle cx="878.2" cy="463.2" r="0.9" fill="#d0d0d0" opacity="0.68"/>
<circle cx="1003.3" cy="461.9" r="1.0" fill="#d0d0d0" opacity="0.48"/>
<circle cx="935.6" cy="444.2" r="0.8" fill="#d0d0d0" opacity="0.67"/>
<circle cx="981.1" cy="453.1" r="0.7" fill="#d0d0d0" opacity="0.77"/>
<circle cx="863.2" cy="398.1" r="1.2" fill="#d0d0d0" opacity="0.76"/>
<circle cx="904.8" cy="460.0" r="1.2" fill="#d0d0d0" opacity="0.46"/>
<circle cx="900.9" cy="380.8" r="0.8" fill="#d0d0d0" opacity="0.37"/>
<circle cx="963.1" cy="467.7" r="0.8" fill="#d0d0d0" opacity="0.32"/>
<circle cx="1012.8" cy="418.6" r="1.1" fill="#d0d0d0" opacity="0.42"/>
<circle cx="947.2" cy="449.6" r="1.1" fill="#d0d0d0" opacity="0.51"/>
<circle cx="857.3" cy="459.1" r="0.7" fill="#d0d0d0" opacity="0.55"/>
<circle cx="988.0" cy="375.8" r="1.4" fill="#d0d0d0" opacity="0.77"/>
<circle cx="953.3" cy="445.5" r="0.8" fill="#d0d0d0" opacity="0.52"/>
<circle cx="872.9" cy="451.5" r="1.0" fill="#d0d0d0" opacity="0.53"/>
<circle cx="1014.9" cy="452.3" r="1.6" fill="#d0d0d0" opacity="0.53"/>
<circle cx="929.5" cy="439.3" r="1.1" fill="#d0d0d0" opacity="0.45"/>
<circle cx="915.4" cy="377.5" r="1.0" fill="#d0d0d0" opacity="0.79"/>
<circle cx="1008.3" cy="428.5" r="1.1" fill="#d0d0d0" opacity="0.47"/>
<circle cx="862.9" cy="390.9" r="1.4" fill="#d0d0d0" opacity="0.73"/>
<circle cx="908.3" cy="445.3" r="1.4" fill="#d0d0d0" opacity="0.65"/>
<circle cx="958.9" cy="442.5" r="1.0" fill="#d0d0d0" opacity="0.65"/>
<circle cx="894.9" cy="413.5" r="1.4" fill="#d0d0d0" opacity="0.65"/>
<circle cx="897.1" cy="462.2" r="1.3" fill="#d0d0d0" opacity="0.59"/>
<circle cx="849.9" cy="420.0" r="0.9" fill="#d0d0d0" opacity="0.64"/>
<circle cx="925.3" cy="448.6" r="1.3" fill="#d0d0d0" opacity="0.70"/>
<circle cx="906.1" cy="430.3" r="1.4" fill="#d0d0d0" opacity="0.71"/>
<circle cx="906.5" cy="451.3" r="1.5" fill="#d0d0d0" opacity="0.64"/>
<circle cx="1011.0" cy="463.4" r="1.2" fill="#d0d0d0" opacity="0.56"/>
<circle cx="875.8" cy="450.7" r="1.5" fill="#d0d0d0" opacity="0.54"/>
<circle cx="963.5" cy="438.3" r="1.4" fill="#d0d0d0" opacity="0.39"/>
<circle cx="978.3" cy="423.6" r="1.3" fill="#d0d0d0" opacity="0.51"/>
<circle cx="952.2" cy="444.1" r="1.3" fill="#d0d0d0" opacity="0.66"/>
<circle cx="852.6" cy="379.0" r="1.1" fill="#d0d0d0" opacity="0.63"/>
<circle cx="884.6" cy="434.7" r="1.3" fill="#d0d0d0" opacity="0.32"/>
<circle cx="926.8" cy="386.0" r="0.7" fill="#d0d0d0" opacity="0.37"/>
<circle cx="901.0" cy="381.2" r="0.9" fill="#d0d0d0" opacity="0.32"/>
<circle cx="925.7" cy="402.3" r="1.3" fill="#d0d0d0" opacity="0.60"/>
<circle cx="887.7" cy="457.7" r="0.7" fill="#d0d0d0" opacity="0.50"/>
<circle cx="894.5" cy="405.5" r="0.8" fill="#d0d0d0" opacity="0.72"/>
<circle cx="910.4" cy="365.8" r="1.3" fill="#d0d0d0" opacity="0.35"/>
<circle cx="939.1" cy="398.0" r="1.2" fill="#d0d0d0" opacity="0.78"/>
<circle cx="984.7" cy="406.4" r="1.4" fill="#d0d0d0" opacity="0.62"/>
<circle cx="909.7" cy="377.1" r="1.2" fill="#d0d0d0" opacity="0.58"/>
<circle cx="1007.9" cy="464.6" r="1.2" fill="#d0d0d0" opacity="0.48"/>
<circle cx="997.2" cy="362.1" r="0.8" fill="#d0d0d0" opacity="0.58"/>
<circle cx="950.7" cy="376.9" r="1.3" fill="#d0d0d0" opacity="0.75"/>
<circle cx="910.8" cy="407.8" r="0.9" fill="#d0d0d0" opacity="0.45"/>
<circle cx="1010.4" cy="402.3" r="1.6" fill="#d0d0d0" opacity="0.76"/>
<circle cx="947.5" cy="389.5" r="1.6" fill="#d0d0d0" opacity="0.55"/>
<circle cx="917.4" cy="395.8" r="1.6" fill="#d0d0d0" opacity="0.55"/>
<circle cx="895.8" cy="412.6" r="0.8" fill="#d0d0d0" opacity="0.61"/>
<circle cx="922.1" cy="393.1" r="1.4" fill="#d0d0d0" opacity="0.71"/>
<circle cx="850.2" cy="418.5" r="0.9" fill="#d0d0d0" opacity="0.77"/>
<circle cx="978.6" cy="388.0" r="0.9" fill="#d0d0d0" opacity="0.38"/>
<circle cx="1013.1" cy="393.1" r="1.2" fill="#d0d0d0" opacity="0.54"/>
<circle cx="955.7" cy="426.0" r="1.4" fill="#d0d0d0" opacity="0.36"/>
<circle cx="975.0" cy="393.9" r="1.2" fill="#d0d0d0" opacity="0.47"/>
<circle cx="897.6" cy="418.2" r="1.1" fill="#d0d0d0" opacity="0.48"/>
<circle cx="972.4" cy="424.6" r="0.7" fill="#d0d0d0" opacity="0.43"/>
<circle cx="924.1" cy="459.2" r="1.5" fill="#d0d0d0" opacity="0.57"/>
<circle cx="850.4" cy="444.5" r="1.1" fill="#d0d0d0" opacity="0.59"/>
<circle cx="966.3" cy="429.0" r="1.1" fill="#d0d0d0" opacity="0.76"/>
<circle cx="912.4" cy="403.5" r="1.5" fill="#d0d0d0" opacity="0.40"/>
<circle cx="1088.2" cy="456.4" r="0.8" fill="#d0d0d0" opacity="0.72"/>
<circle cx="1186.6" cy="429.4" r="1.0" fill="#d0d0d0" opacity="0.69"/>
<circle cx="1239.9" cy="409.7" r="1.1" fill="#d0d0d0" opacity="0.57"/>
<circle cx="1137.9" cy="422.5" r="0.8" fill="#d0d0d0" opacity="0.59"/>
<circle cx="1215.5" cy="404.7" r="0.9" fill="#d0d0d0" opacity="0.71"/>
<circle cx="1210.6" cy="445.1" r="0.7" fill="#d0d0d0" opacity="0.66"/>
<circle cx="1256.7" cy="467.9" r="1.3" fill="#d0d0d0" opacity="0.32"/>
<circle cx="1223.0" cy="414.9" r="1.3" fill="#d0d0d0" opacity="0.78"/>
<circle cx="1191.0" cy="409.2" r="1.0" fill="#d0d0d0" opacity="0.76"/>
<circle cx="1052.0" cy="441.5" r="1.1" fill="#d0d0d0" opacity="0.38"/>
<circle cx="1168.7" cy="403.0" r="0.8" fill="#d0d0d0" opacity="0.49"/>
<circle cx="1032.8" cy="403.9" r="1.2" fill="#d0d0d0" opacity="0.67"/>
<circle cx="1232.0" cy="409.1" r="1.1" fill="#d0d0d0" opacity="0.46"/>
<circle cx="1163.3" cy="433.3" r="1.5" fill="#d0d0d0" opacity="0.49"/>
<circle cx="1028.8" cy="447.4" r="0.8" fill="#d0d0d0" opacity="0.62"/>
<circle cx="1139.9" cy="461.9" r="1.2" fill="#d0d0d0" opacity="0.61"/>
<circle cx="1080.0" cy="437.5" r="0.9" fill="#d0d0d0" opacity="0.68"/>
<circle cx="1142.7" cy="409.1" r="0.9" fill="#d0d0d0" opacity="0.49"/>
<circle cx="1197.0" cy="412.2" r="1.3" fill="#d0d0d0" opacity="0.63"/>
<circle cx="1036.1" cy="445.4" r="0.8" fill="#d0d0d0" opacity="0.36"/>
<circle cx="1161.7" cy="416.2" r="1.5" fill="#d0d0d0" opacity="0.54"/>
<circle cx="1094.9" cy="454.2" r="0.7" fill="#d0d0d0" opacity="0.66"/>
<circle cx="1028.3" cy="410.3" r="1.6" fill="#d0d0d0" opacity="0.64"/>
<circle cx="1070.1" cy="407.9" r="1.6" fill="#d0d0d0" opacity="0.63"/>
<circle cx="1217.7" cy="409.5" r="1.3" fill="#d0d0d0" opacity="0.48"/>
<circle cx="1073.0" cy="422.7" r="1.3" fill="#d0d0d0" opacity="0.47"/>
<circle cx="1110.3" cy="409.3" r="1.4" fill="#d0d0d0" opacity="0.62"/>
<circle cx="1213.7" cy="429.5" r="1.5" fill="#d0d0d0" opacity="0.56"/>
<circle cx="1161.4" cy="439.0" r="1.4" fill="#d0d0d0" opacity="0.50"/>
<circle cx="1039.0" cy="402.3" r="0.9" fill="#d0d0d0" opacity="0.32"/>
<circle cx="866.7" cy="468.9" r="20.6" fill="none" stroke="#bbbbbb" stroke-width="2.5" filter="url(#b1)"/>
<circle cx="943.6" cy="468.9" r="20.6" fill="none" stroke="#bbbbbb" stroke-width="2.5" filter="url(#b1)"/>
<circle cx="1020.0" cy="468.9" r="20.6" fill="none" stroke="#bbbbbb" stroke-width="2.5" filter="url(#b1)"/>
<circle cx="1097.4" cy="468.9" r="20.6" fill="none" stroke="#bbbbbb" stroke-width="2.5" filter="url(#b1)"/>
<circle cx="1173.9" cy="468.9" r="20.6" fill="none" stroke="#bbbbbb" stroke-width="2.5" filter="url(#b1)"/>
<circle cx="1250.0" cy="468.9" r="20.6" fill="none" stroke="#bbbbbb" stroke-width="2.5" filter="url(#b1)"/>
<circle cx="905.1" cy="491.5" r="20.6" fill="none" stroke="#bbbbbb" stroke-width="2.5" filter="url(#b1)"/>
<circle cx="981.2" cy="491.5" r="20.6" fill="none" stroke="#bbbbbb" stroke-width="2.5" filter="url(#b1)"/>
<circle cx="1057.8" cy="491.5" r="20.6" fill="none" stroke="#bbbbbb" stroke-width="2.5" filter="url(#b1)"/>
<circle cx="1135.1" cy="491.5" r="20.6" fill="none" stroke="#bbbbbb" stroke-width="2.5" filter="url(#b1)"/>
<circle cx="1211.2" cy="491.5" r="20.6" fill="none" stroke="#bbbbbb" stroke-width="2.5" filter="url(#b1)"/>
<circle cx="866.7" cy="513.2" r="20.6" fill="none" stroke="#bbbbbb" stroke-width="2.5" filter="url(#b1)"/>
<circle cx="943.6" cy="513.2" r="20.6" fill="none" stroke="#bbbbbb" stroke-width="2.5" filter="url(#b1)"/>
<circle cx="1020.0" cy="513.2" r="20.6" fill="none" stroke="#bbbbbb" stroke-width="2.5" filter="url(#b1)"/>
<circle cx="1097.4" cy="513.2" r="20.6" fill="none" stroke="#bbbbbb" stroke-width="2.5" filter="url(#b1)"/>
<circle cx="1173.9" cy="513.2" r="20.6" fill="none" stroke="#bbbbbb" stroke-width="2.5" filter="url(#b1)"/>
<circle cx="1250.0" cy="513.2" r="20.6" fill="none" stroke="#bbbbbb" stroke-width="2.5" filter="url(#b1)"/>
<circle cx="866.7" cy="468.9" r="20.1" fill="#000" stroke="#eeeeee" stroke-width="1.9"/>
<circle cx="943.6" cy="468.9" r="20.1" fill="#000" stroke="#eeeeee" stroke-width="1.9"/>
<circle cx="1020.0" cy="468.9" r="20.1" fill="#000" stroke="#eeeeee" stroke-width="1.9"/>
<circle cx="1097.4" cy="468.9" r="20.1" fill="#000" stroke="#eeeeee" stroke-width="1.9"/>
<circle cx="1173.9" cy="468.9" r="20.1" fill="#000" stroke="#eeeeee" stroke-width="1.9"/>
<circle cx="1250.0" cy="468.9" r="20.1" fill="#000" stroke="#eeeeee" stroke-width="1.9"/>
<circle cx="905.1" cy="491.5" r="20.1" fill="#000" stroke="#eeeeee" stroke-width="1.9"/>
<circle cx="981.2" cy="491.5" r="20.1" fill="#000" stroke="#eeeeee" stroke-width="1.9"/>
<circle cx="1057.8" cy="491.5" r="20.1" fill="#000" stroke="#eeeeee" stroke-width="1.9"/>
<circle cx="1135.1" cy="491.5" r="20.1" fill="#000" stroke="#eeeeee" stroke-width="1.9"/>
<circle cx="1211.2" cy="491.5" r="20.1" fill="#000" stroke="#eeeeee" stroke-width="1.9"/>
<circle cx="866.7" cy="513.2" r="20.1" fill="#000" stroke="#eeeeee" stroke-width="1.9"/>
<circle cx="943.6" cy="513.2" r="20.1" fill="#000" stroke="#eeeeee" stroke-width="1.9"/>
<circle cx="1020.0" cy="513.2" r="20.1" fill="#000" stroke="#eeeeee" stroke-width="1.9"/>
<circle cx="1097.4" cy="513.2" r="20.1" fill="#000" stroke="#eeeeee" stroke-width="1.9"/>
<circle cx="1173.9" cy="513.2" r="20.1" fill="#000" stroke="#eeeeee" stroke-width="1.9"/>
<circle cx="1250.0" cy="513.2" r="20.1" fill="#000" stroke="#eeeeee" stroke-width="1.9"/>
<text x="848" y="385" fill="#fff" font-size="34" font-family="Liberation Sans, Arial, sans-serif">(ii)</text>
<text x="843.5" y="579.7" fill="#fff" font-size="24" textLength="114" lengthAdjust="spacingAndGlyphs" font-family="Liberation Sans, Arial, sans-serif">PAM 0.2%</text>
<text x="1140.5" y="579.4" fill="#fff" font-size="24.5" textLength="106" lengthAdjust="spacingAndGlyphs" font-family="Liberation Sans, Arial, sans-serif">689 mbar</text>
<rect x="1034" y="568.5" width="39.5" height="5.8" fill="#fff"/>
</g>
<g clip-path="url(#c3)">
<rect x="1280.5" y="6" width="357.5" height="594.5" fill="#000"/>
<g filter="url(#mot)" fill="#ff0000">
<path d="M1316 118 L1372 118 L1376 170 L1372 215 L1322 215 L1314 170 Z" opacity="1.00"/>
<path d="M1310 210 L1382 210 L1384 260 L1376 300 L1330 300 L1312 260 Z" opacity="0.80"/>
<path d="M1400 150 L1440 140 L1466 170 L1468 250 L1462 320 L1420 322 L1405 260 Z" opacity="0.85"/>
<path d="M1465 230 L1510 230 L1512 330 L1506 400 L1468 400 Z" opacity="0.55"/>
<path d="M1508 140 L1535 140 L1536 232 L1510 232 Z" opacity="0.75"/>
<path d="M1556 182 L1570 182 L1598 240 L1614 311 L1606 350 L1598 390 L1570 400 L1532 385 L1524 330 L1528 290 L1545 220 Z" opacity="1.00"/>
<path d="M1596 120 L1632 120 L1632 232 L1598 232 Z" opacity="0.75"/>
<path d="M1580 108 L1632 108 L1632 146 L1584 146 Z" opacity="0.90"/>
<path d="M1528 345 L1614 345 L1614 535 L1538 535 Z" opacity="0.35"/>
<path d="M1394 400 L1412 400 L1412 560 L1396 560 Z" opacity="0.30"/>
<path d="M1606 232 L1630 232 L1630 500 L1610 500 Z" opacity="0.40"/>
<path d="M1420 330 L1470 330 L1470 600 L1425 600 Z" opacity="0.20"/>
<path d="M1286 130 L1306 130 L1306 300 L1288 300 Z" opacity="0.25"/>
</g>
<g filter="url(#mot2)" fill="#ff0000">
<path d="M1342 328 L1390 328 L1390 400 L1383 460 L1374 520 L1368 605 L1351 605 L1345 520 L1339 450 L1337 390 Z"/>
<path d="M1418 186 L1434 196 L1412 245 L1396 290 L1382 332 L1358 332 L1374 282 L1394 232 Z" opacity="0.9"/>
<path d="M1322 118 L1362 118 L1368 170 L1360 200 L1330 200 Z" opacity="0.7"/>
<path d="M1556 186 L1570 186 L1590 240 L1596 290 L1560 300 L1538 290 L1545 230 Z" opacity="0.7"/>
</g>
<g fill="#f00000" filter="url(#b1)">
<ellipse cx="1340" cy="202" rx="1.4" ry="2.8" opacity="0.83"/>
<ellipse cx="1312" cy="228" rx="2.6" ry="5.3" opacity="0.44"/>
<ellipse cx="1345" cy="251" rx="1.3" ry="2.5" opacity="0.59"/>
<ellipse cx="1354" cy="218" rx="2.4" ry="4.7" opacity="0.48"/>
<ellipse cx="1326" cy="148" rx="2.0" ry="4.0" opacity="0.86"/>
<ellipse cx="1347" cy="284" rx="1.8" ry="3.6" opacity="0.77"/>
<ellipse cx="1318" cy="185" rx="2.3" ry="4.6" opacity="0.76"/>
<ellipse cx="1337" cy="143" rx="1.6" ry="3.3" opacity="0.50"/>
<ellipse cx="1329" cy="291" rx="1.5" ry="3.0" opacity="0.84"/>
<ellipse cx="1365" cy="136" rx="1.8" ry="3.6" opacity="0.65"/>
<ellipse cx="1313" cy="212" rx="2.7" ry="5.3" opacity="0.46"/>
<ellipse cx="1348" cy="150" rx="2.1" ry="4.3" opacity="0.85"/>
<ellipse cx="1324" cy="127" rx="1.3" ry="2.7" opacity="0.67"/>
<ellipse cx="1313" cy="142" rx="2.0" ry="4.0" opacity="0.86"/>
<ellipse cx="1337" cy="207" rx="2.2" ry="4.4" opacity="0.45"/>
<ellipse cx="1347" cy="160" rx="2.2" ry="4.3" opacity="0.88"/>
<ellipse cx="1315" cy="239" rx="2.2" ry="4.3" opacity="0.47"/>
<ellipse cx="1328" cy="329" rx="2.8" ry="5.6" opacity="0.46"/>
<ellipse cx="1354" cy="320" rx="1.6" ry="3.2" opacity="0.71"/>
<ellipse cx="1315" cy="200" rx="2.3" ry="4.6" opacity="0.70"/>
<ellipse cx="1408" cy="368" rx="1.8" ry="3.5" opacity="0.83"/>
<ellipse cx="1405" cy="445" rx="1.8" ry="3.7" opacity="0.89"/>
<ellipse cx="1405" cy="354" rx="2.5" ry="5.0" opacity="0.56"/>
<ellipse cx="1402" cy="395" rx="1.9" ry="3.8" opacity="0.56"/>
<ellipse cx="1397" cy="482" rx="1.4" ry="2.7" opacity="0.79"/>
<ellipse cx="1395" cy="514" rx="2.5" ry="5.0" opacity="0.65"/>
<ellipse cx="1407" cy="402" rx="2.4" ry="4.8" opacity="0.61"/>
<ellipse cx="1399" cy="552" rx="1.8" ry="3.7" opacity="0.59"/>
<ellipse cx="1410" cy="428" rx="2.3" ry="4.5" opacity="0.49"/>
<ellipse cx="1409" cy="404" rx="1.3" ry="2.6" opacity="0.89"/>
<ellipse cx="1398" cy="549" rx="2.8" ry="5.6" opacity="0.70"/>
<ellipse cx="1395" cy="363" rx="1.5" ry="3.1" opacity="0.59"/>
<ellipse cx="1405" cy="553" rx="1.8" ry="3.5" opacity="0.47"/>
<ellipse cx="1405" cy="379" rx="1.3" ry="2.7" opacity="0.68"/>
<ellipse cx="1489" cy="161" rx="1.9" ry="3.8" opacity="0.75"/>
<ellipse cx="1492" cy="310" rx="2.6" ry="5.2" opacity="0.48"/>
<ellipse cx="1490" cy="493" rx="2.6" ry="5.2" opacity="0.65"/>
<ellipse cx="1464" cy="153" rx="2.0" ry="4.1" opacity="0.49"/>
<ellipse cx="1486" cy="170" rx="2.4" ry="4.9" opacity="0.51"/>
<ellipse cx="1461" cy="213" rx="1.9" ry="3.9" opacity="0.68"/>
<ellipse cx="1476" cy="211" rx="2.0" ry="3.9" opacity="0.87"/>
<ellipse cx="1482" cy="572" rx="1.2" ry="2.5" opacity="0.90"/>
<ellipse cx="1497" cy="386" rx="2.0" ry="4.1" opacity="0.67"/>
<ellipse cx="1498" cy="161" rx="2.2" ry="4.5" opacity="0.67"/>
<ellipse cx="1473" cy="471" rx="2.4" ry="4.7" opacity="0.45"/>
<ellipse cx="1489" cy="343" rx="2.0" ry="4.0" opacity="0.72"/>
<ellipse cx="1462" cy="413" rx="1.8" ry="3.6" opacity="0.84"/>
<ellipse cx="1470" cy="517" rx="2.4" ry="4.7" opacity="0.71"/>
<ellipse cx="1497" cy="147" rx="2.2" ry="4.3" opacity="0.71"/>
<ellipse cx="1488" cy="321" rx="1.3" ry="2.6" opacity="0.49"/>
<ellipse cx="1486" cy="215" rx="1.3" ry="2.6" opacity="0.58"/>
<ellipse cx="1480" cy="382" rx="1.2" ry="2.5" opacity="0.79"/>
<ellipse cx="1474" cy="498" rx="1.2" ry="2.4" opacity="0.88"/>
<ellipse cx="1485" cy="589" rx="2.8" ry="5.6" opacity="0.82"/>
<ellipse cx="1464" cy="294" rx="1.6" ry="3.1" opacity="0.79"/>
<ellipse cx="1468" cy="234" rx="1.4" ry="2.8" opacity="0.46"/>
<ellipse cx="1499" cy="589" rx="1.8" ry="3.6" opacity="0.77"/>
<ellipse cx="1480" cy="375" rx="1.8" ry="3.6" opacity="0.72"/>
<ellipse cx="1470" cy="250" rx="2.0" ry="4.1" opacity="0.50"/>
<ellipse cx="1478" cy="574" rx="1.2" ry="2.5" opacity="0.45"/>
<ellipse cx="1494" cy="157" rx="1.6" ry="3.2" opacity="0.83"/>
<ellipse cx="1485" cy="234" rx="1.3" ry="2.6" opacity="0.54"/>
<ellipse cx="1473" cy="506" rx="2.8" ry="5.5" opacity="0.79"/>
<ellipse cx="1498" cy="567" rx="2.6" ry="5.2" opacity="0.86"/>
<ellipse cx="1609" cy="359" rx="1.7" ry="3.4" opacity="0.52"/>
<ellipse cx="1580" cy="438" rx="1.8" ry="3.5" opacity="0.82"/>
<ellipse cx="1563" cy="382" rx="1.6" ry="3.3" opacity="0.63"/>
<ellipse cx="1580" cy="454" rx="1.9" ry="3.8" opacity="0.49"/>
<ellipse cx="1563" cy="405" rx="1.5" ry="2.9" opacity="0.67"/>
<ellipse cx="1545" cy="482" rx="2.3" ry="4.5" opacity="0.47"/>
<ellipse cx="1581" cy="408" rx="1.9" ry="3.8" opacity="0.70"/>
<ellipse cx="1592" cy="517" rx="2.4" ry="4.7" opacity="0.51"/>
<ellipse cx="1574" cy="407" rx="1.2" ry="2.5" opacity="0.68"/>
<ellipse cx="1569" cy="513" rx="1.7" ry="3.4" opacity="0.82"/>
<ellipse cx="1572" cy="360" rx="2.3" ry="4.7" opacity="0.54"/>
<ellipse cx="1574" cy="354" rx="1.2" ry="2.4" opacity="0.86"/>
<ellipse cx="1533" cy="370" rx="1.5" ry="2.9" opacity="0.45"/>
<ellipse cx="1598" cy="539" rx="2.2" ry="4.5" opacity="0.60"/>
<ellipse cx="1603" cy="441" rx="1.4" ry="2.8" opacity="0.75"/>
<ellipse cx="1559" cy="394" rx="1.7" ry="3.4" opacity="0.59"/>
<ellipse cx="1545" cy="463" rx="2.6" ry="5.2" opacity="0.69"/>
<ellipse cx="1531" cy="477" rx="1.2" ry="2.5" opacity="0.64"/>
<ellipse cx="1601" cy="475" rx="2.7" ry="5.3" opacity="0.78"/>
<ellipse cx="1552" cy="369" rx="1.9" ry="3.8" opacity="0.74"/>
<ellipse cx="1549" cy="406" rx="2.4" ry="4.8" opacity="0.57"/>
<ellipse cx="1579" cy="449" rx="2.7" ry="5.4" opacity="0.41"/>
<ellipse cx="1545" cy="496" rx="2.3" ry="4.5" opacity="0.45"/>
<ellipse cx="1541" cy="382" rx="2.1" ry="4.1" opacity="0.85"/>
<ellipse cx="1548" cy="381" rx="2.3" ry="4.6" opacity="0.61"/>
<ellipse cx="1599" cy="540" rx="2.7" ry="5.4" opacity="0.76"/>
<ellipse cx="1571" cy="352" rx="2.5" ry="5.0" opacity="0.60"/>
<ellipse cx="1568" cy="466" rx="2.7" ry="5.5" opacity="0.68"/>
<ellipse cx="1605" cy="533" rx="1.3" ry="2.7" opacity="0.58"/>
<ellipse cx="1603" cy="493" rx="2.8" ry="5.5" opacity="0.49"/>
<ellipse cx="1574" cy="527" rx="2.1" ry="4.1" opacity="0.74"/>
<ellipse cx="1610" cy="375" rx="1.3" ry="2.6" opacity="0.83"/>
<ellipse cx="1578" cy="380" rx="2.5" ry="5.1" opacity="0.54"/>
<ellipse cx="1541" cy="400" rx="1.3" ry="2.5" opacity="0.60"/>
<ellipse cx="1594" cy="431" rx="2.7" ry="5.5" opacity="0.42"/>
<ellipse cx="1544" cy="369" rx="2.1" ry="4.2" opacity="0.50"/>
<ellipse cx="1585" cy="445" rx="2.1" ry="4.3" opacity="0.82"/>
<ellipse cx="1595" cy="524" rx="1.4" ry="2.9" opacity="0.59"/>
<ellipse cx="1609" cy="419" rx="1.7" ry="3.3" opacity="0.64"/>
<ellipse cx="1545" cy="510" rx="2.2" ry="4.4" opacity="0.45"/>
<ellipse cx="1459" cy="475" rx="1.6" ry="3.2" opacity="0.71"/>
<ellipse cx="1458" cy="430" rx="1.2" ry="2.4" opacity="0.50"/>
<ellipse cx="1422" cy="477" rx="1.7" ry="3.4" opacity="0.83"/>
<ellipse cx="1428" cy="344" rx="1.9" ry="3.9" opacity="0.46"/>
<ellipse cx="1432" cy="399" rx="1.5" ry="3.0" opacity="0.72"/>
<ellipse cx="1457" cy="436" rx="2.2" ry="4.4" opacity="0.56"/>
<ellipse cx="1457" cy="484" rx="1.2" ry="2.5" opacity="0.77"/>
<ellipse cx="1428" cy="352" rx="1.2" ry="2.5" opacity="0.82"/>
<ellipse cx="1448" cy="433" rx="2.1" ry="4.2" opacity="0.75"/>
<ellipse cx="1423" cy="524" rx="2.3" ry="4.7" opacity="0.87"/>
<ellipse cx="1422" cy="489" rx="2.0" ry="4.0" opacity="0.82"/>
<ellipse cx="1435" cy="512" rx="2.6" ry="5.3" opacity="0.57"/>
<ellipse cx="1311" cy="571" rx="1.3" ry="2.5" opacity="0.89"/>
<ellipse cx="1303" cy="453" rx="1.7" ry="3.3" opacity="0.80"/>
<ellipse cx="1311" cy="532" rx="1.4" ry="2.7" opacity="0.84"/>
<ellipse cx="1323" cy="514" rx="1.6" ry="3.1" opacity="0.53"/>
<ellipse cx="1308" cy="348" rx="2.7" ry="5.5" opacity="0.60"/>
<ellipse cx="1328" cy="379" rx="2.2" ry="4.5" opacity="0.80"/>
<ellipse cx="1335" cy="365" rx="3" ry="4"/>
<ellipse cx="1392" cy="412" rx="3" ry="6"/>
<ellipse cx="1406" cy="489" rx="7" ry="10"/>
<ellipse cx="1495" cy="361" rx="5" ry="6"/>
<ellipse cx="1546" cy="388" rx="5" ry="10"/>
<ellipse cx="1572" cy="456" rx="5" ry="7"/>
<ellipse cx="1553" cy="477" rx="4" ry="4"/>
<ellipse cx="1552" cy="500" rx="4" ry="4"/>
<ellipse cx="1568" cy="504" rx="5" ry="6"/>
<ellipse cx="1460" cy="521" rx="6" ry="7"/>
<ellipse cx="1331" cy="125" rx="10" ry="14"/>
<ellipse cx="1291" cy="14" rx="4" ry="4"/>
<ellipse cx="1488" cy="41" rx="9" ry="9"/>
<ellipse cx="1466" cy="47" rx="3" ry="3"/>
<ellipse cx="1396" cy="56" rx="3" ry="3"/>
<ellipse cx="1456" cy="56" rx="3" ry="3"/>
<ellipse cx="1596" cy="59" rx="10" ry="10"/>
</g>
<g fill="#f00000" filter="url(#b2)">
<path d="M1314 54 L1350 52 L1352 80 L1318 84 Z"/>
<path d="M1318 118 L1345 118 L1345 142 L1320 142 Z"/>
<path d="M1282 80 L1290 80 L1290 130 L1282 130 Z" opacity="0.6"/>
</g>
<rect x="1631" y="6" width="3.5" height="480" fill="#ee0000" filter="url(#b1)"/>
<g filter="url(#mot)" fill="#f00000" opacity="0.9">
<path d="M1282 58 L1636 52 L1636 128 L1282 134 Z"/>
</g>
<circle cx="1302.2" cy="74.7" r="18.6" fill="#000" opacity="0.55" filter="url(#b1)"/>
<circle cx="1363.8" cy="74.2" r="18.6" fill="#000" opacity="0.55" filter="url(#b1)"/>
<circle cx="1426.8" cy="73.1" r="18.6" fill="#000" opacity="0.55" filter="url(#b1)"/>
<circle cx="1488.8" cy="70.8" r="18.6" fill="#000" opacity="0.55" filter="url(#b1)"/>
<circle cx="1551.2" cy="70.8" r="18.6" fill="#000" opacity="0.55" filter="url(#b1)"/>
<circle cx="1614.5" cy="69.6" r="18.6" fill="#000" opacity="0.55" filter="url(#b1)"/>
<circle cx="1333.0" cy="94.7" r="18.6" fill="#000" opacity="0.55" filter="url(#b1)"/>
<circle cx="1395.2" cy="92.7" r="18.6" fill="#000" opacity="0.55" filter="url(#b1)"/>
<circle cx="1457.8" cy="91.4" r="18.6" fill="#000" opacity="0.55" filter="url(#b1)"/>
<circle cx="1520.2" cy="89.5" r="18.6" fill="#000" opacity="0.55" filter="url(#b1)"/>
<circle cx="1582.8" cy="87.2" r="18.6" fill="#000" opacity="0.55" filter="url(#b1)"/>
<circle cx="1302.2" cy="113.2" r="18.6" fill="#000" opacity="0.55" filter="url(#b1)"/>
<circle cx="1363.8" cy="110.7" r="18.6" fill="#000" opacity="0.55" filter="url(#b1)"/>
<circle cx="1426.8" cy="109.5" r="18.6" fill="#000" opacity="0.55" filter="url(#b1)"/>
<circle cx="1488.8" cy="108.3" r="18.6" fill="#000" opacity="0.55" filter="url(#b1)"/>
<circle cx="1551.2" cy="108.3" r="18.6" fill="#000" opacity="0.55" filter="url(#b1)"/>
<circle cx="1614.5" cy="106.0" r="18.6" fill="#000" opacity="0.55" filter="url(#b1)"/>
<circle cx="1300.2" cy="76.7" r="17.6" fill="#ff1010"/>
<circle cx="1301.4" cy="75.5" r="17.6" fill="none" stroke="#c00000" stroke-width="1.2"/>
<circle cx="1301.7" cy="75.2" r="16.6" fill="#000"/>
<circle cx="1361.8" cy="76.2" r="17.6" fill="#ff1010"/>
<circle cx="1363.0" cy="75.0" r="17.6" fill="none" stroke="#c00000" stroke-width="1.2"/>
<circle cx="1363.3" cy="74.7" r="16.6" fill="#000"/>
<circle cx="1424.8" cy="75.1" r="17.6" fill="#ff1010"/>
<circle cx="1426.0" cy="73.9" r="17.6" fill="none" stroke="#c00000" stroke-width="1.2"/>
<circle cx="1426.3" cy="73.6" r="16.6" fill="#000"/>
<circle cx="1486.8" cy="72.8" r="17.6" fill="#ff1010"/>
<circle cx="1488.0" cy="71.6" r="17.6" fill="none" stroke="#c00000" stroke-width="1.2"/>
<circle cx="1488.3" cy="71.3" r="16.6" fill="#000"/>
<circle cx="1549.2" cy="72.8" r="17.6" fill="#ff1010"/>
<circle cx="1550.4" cy="71.6" r="17.6" fill="none" stroke="#c00000" stroke-width="1.2"/>
<circle cx="1550.7" cy="71.3" r="16.6" fill="#000"/>
<circle cx="1612.5" cy="71.6" r="17.6" fill="#ff1010"/>
<circle cx="1613.7" cy="70.4" r="17.6" fill="none" stroke="#c00000" stroke-width="1.2"/>
<circle cx="1614.0" cy="70.1" r="16.6" fill="#000"/>
<circle cx="1331.0" cy="96.7" r="17.6" fill="#ff1010"/>
<circle cx="1332.2" cy="95.5" r="17.6" fill="none" stroke="#c00000" stroke-width="1.2"/>
<circle cx="1332.5" cy="95.2" r="16.6" fill="#000"/>
<circle cx="1393.2" cy="94.7" r="17.6" fill="#ff1010"/>
<circle cx="1394.4" cy="93.5" r="17.6" fill="none" stroke="#c00000" stroke-width="1.2"/>
<circle cx="1394.7" cy="93.2" r="16.6" fill="#000"/>
<circle cx="1455.8" cy="93.4" r="17.6" fill="#ff1010"/>
<circle cx="1457.0" cy="92.2" r="17.6" fill="none" stroke="#c00000" stroke-width="1.2"/>
<circle cx="1457.3" cy="91.9" r="16.6" fill="#000"/>
<circle cx="1518.2" cy="91.5" r="17.6" fill="#ff1010"/>
<circle cx="1519.4" cy="90.3" r="17.6" fill="none" stroke="#c00000" stroke-width="1.2"/>
<circle cx="1519.7" cy="90.0" r="16.6" fill="#000"/>
<circle cx="1580.8" cy="89.2" r="17.6" fill="#ff1010"/>
<circle cx="1582.0" cy="88.0" r="17.6" fill="none" stroke="#c00000" stroke-width="1.2"/>
<circle cx="1582.3" cy="87.7" r="16.6" fill="#000"/>
<circle cx="1300.2" cy="115.2" r="17.6" fill="#ff1010"/>
<circle cx="1301.4" cy="114.0" r="17.6" fill="none" stroke="#c00000" stroke-width="1.2"/>
<circle cx="1301.7" cy="113.7" r="16.6" fill="#000"/>
<circle cx="1361.8" cy="112.7" r="17.6" fill="#ff1010"/>
<circle cx="1363.0" cy="111.5" r="17.6" fill="none" stroke="#c00000" stroke-width="1.2"/>
<circle cx="1363.3" cy="111.2" r="16.6" fill="#000"/>
<circle cx="1424.8" cy="111.5" r="17.6" fill="#ff1010"/>
<circle cx="1426.0" cy="110.3" r="17.6" fill="none" stroke="#c00000" stroke-width="1.2"/>
<circle cx="1426.3" cy="110.0" r="16.6" fill="#000"/>
<circle cx="1486.8" cy="110.3" r="17.6" fill="#ff1010"/>
<circle cx="1488.0" cy="109.1" r="17.6" fill="none" stroke="#c00000" stroke-width="1.2"/>
<circle cx="1488.3" cy="108.8" r="16.6" fill="#000"/>
<circle cx="1549.2" cy="110.3" r="17.6" fill="#ff1010"/>
<circle cx="1550.4" cy="109.1" r="17.6" fill="none" stroke="#c00000" stroke-width="1.2"/>
<circle cx="1550.7" cy="108.8" r="16.6" fill="#000"/>
<circle cx="1612.5" cy="108.0" r="17.6" fill="#ff1010"/>
<circle cx="1613.7" cy="106.8" r="17.6" fill="none" stroke="#c00000" stroke-width="1.2"/>
<circle cx="1614.0" cy="106.5" r="16.6" fill="#000"/>
<text x="1299.5" y="45.5" fill="#fff" font-size="34.5" font-family="Liberation Sans, Arial, sans-serif">(iii)</text>
<text x="1505.8" y="47.8" fill="#fff" font-size="25" textLength="110" lengthAdjust="spacingAndGlyphs" font-family="Liberation Sans, Arial, sans-serif">689 mbar</text>
<text x="1409.8" y="426.5" fill="#fff" font-size="25" textLength="99" lengthAdjust="spacingAndGlyphs" font-family="Liberation Sans, Arial, sans-serif">Colloidal</text>
<text x="1410" y="459.7" fill="#fff" font-size="25" textLength="104" lengthAdjust="spacingAndGlyphs" font-family="Liberation Sans, Arial, sans-serif">streamer</text>
<text x="1299.5" y="582.7" fill="#fff" font-size="20.5" textLength="221" lengthAdjust="spacingAndGlyphs" font-family="Liberation Sans, Arial, sans-serif">PAM(0.2%):PS(0.2%)=1:4</text>
<rect x="1579.8" y="578.6" width="30.2" height="6" fill="#fff"/>
<path d="M1412.3 395.6 L1396.5 376.5" stroke="#fff" stroke-width="3.3" fill="none"/>
<path d="M1396.8 387.5 L1393.6 374 L1407.5 379.2" stroke="#fff" stroke-width="3.4" fill="none" stroke-linejoin="round" stroke-linecap="round"/>
</g>
</svg>
</body></html>
